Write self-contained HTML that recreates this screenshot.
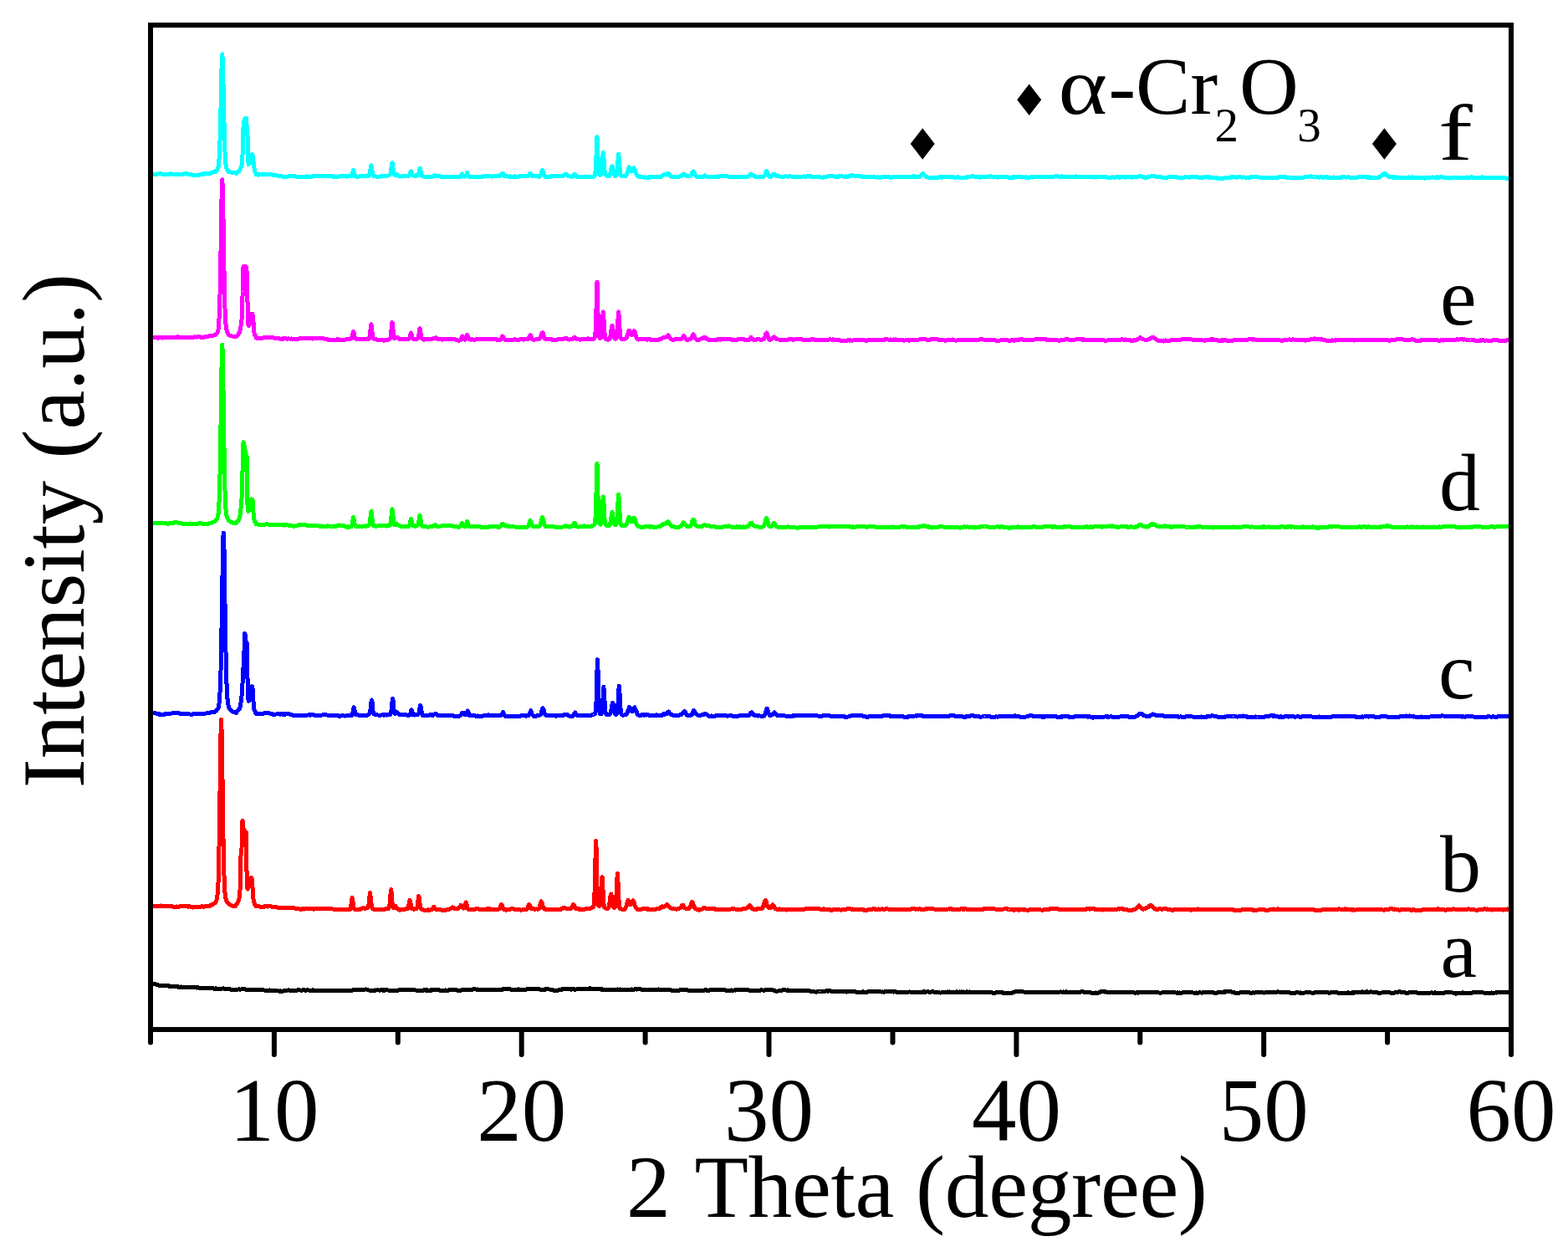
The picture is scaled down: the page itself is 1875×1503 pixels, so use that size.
<!DOCTYPE html>
<html><head><meta charset="utf-8"><title>XRD patterns</title>
<style>
html,body{margin:0;padding:0;background:#fff;overflow:hidden;}
svg{display:block;}
text{font-family:"Liberation Serif","Times New Roman",serif;fill:#000;}
</style></head>
<body>
<svg width="1875" height="1503" viewBox="0 0 1875 1503">
<rect x="0" y="0" width="1875" height="1503" fill="#fff"/>
<g>
<polyline fill="none" stroke="#000000" stroke-width="5" stroke-linejoin="round" stroke-linecap="butt" shape-rendering="crispEdges" points="180.0,1176.8 180.6,1176.8 181.2,1176.7 181.8,1176.6 182.4,1176.5 183.0,1176.6 183.5,1176.7 184.1,1176.7 184.7,1176.4 185.3,1176.6 185.9,1176.9 186.5,1177.2 187.1,1177.2 187.7,1177.5 188.3,1177.5 188.9,1177.7 189.5,1177.8 190.1,1178.1 190.6,1178.3 191.2,1178.5 191.8,1178.4 192.4,1178.4 193.0,1178.5 193.6,1178.7 194.2,1178.6 194.8,1178.5 195.4,1178.5 196.0,1178.7 196.6,1178.6 197.2,1178.8 197.7,1178.9 198.3,1178.6 198.9,1178.8 199.5,1178.8 200.1,1178.7 200.7,1178.8 201.3,1178.8 201.9,1179.1 202.5,1179.0 203.1,1179.1 203.7,1179.2 204.3,1179.1 204.8,1179.0 205.4,1179.1 206.0,1179.2 206.6,1179.2 207.2,1179.4 207.8,1179.4 208.4,1179.4 209.0,1179.7 209.6,1179.7 210.2,1179.7 210.8,1179.7 211.4,1179.7 211.9,1179.8 212.5,1179.8 213.1,1180.0 213.7,1180.4 214.3,1180.2 214.9,1180.1 215.5,1180.2 216.1,1180.1 216.7,1180.0 217.3,1180.1 217.9,1180.1 218.5,1180.3 219.0,1180.4 219.6,1180.5 220.2,1180.8 220.8,1180.8 221.4,1180.8 222.0,1180.8 222.6,1180.3 223.2,1180.5 223.8,1180.4 224.4,1180.4 225.0,1180.7 225.6,1180.7 226.1,1180.6 226.7,1180.5 227.3,1180.5 227.9,1180.4 228.5,1180.3 229.1,1180.2 229.7,1180.1 230.3,1180.3 230.9,1180.3 231.5,1180.6 232.1,1180.6 232.7,1180.9 233.2,1180.7 233.8,1180.6 234.4,1180.8 235.0,1181.0 235.6,1181.1 236.2,1180.8 236.8,1180.9 237.4,1181.0 238.0,1181.1 238.6,1181.1 239.2,1181.2 239.8,1181.6 240.3,1181.6 240.9,1181.8 241.5,1181.5 242.1,1181.5 242.7,1181.5 243.3,1181.4 243.9,1181.4 244.5,1181.5 245.1,1181.7 245.7,1181.8 246.3,1181.8 246.9,1181.7 247.4,1181.7 248.0,1181.6 248.6,1181.5 249.2,1181.5 249.8,1181.3 250.4,1181.5 251.0,1181.7 251.6,1181.8 252.2,1181.9 252.8,1181.8 253.4,1181.8 254.0,1181.9 254.5,1181.8 255.1,1181.8 255.7,1182.1 256.3,1182.2 256.9,1182.2 257.5,1182.0 258.1,1182.1 258.7,1182.0 259.3,1182.2 259.9,1182.2 260.5,1182.1 261.1,1182.0 261.6,1182.0 262.2,1182.0 262.8,1182.0 263.4,1182.1 264.0,1182.2 264.6,1182.2 265.2,1182.0 265.8,1182.0 266.4,1182.0 267.0,1181.9 267.6,1182.2 268.2,1182.2 268.7,1182.2 269.3,1182.1 269.9,1182.1 270.5,1182.2 271.1,1182.2 271.7,1182.2 272.3,1182.2 272.9,1182.2 273.5,1182.4 274.1,1182.6 274.7,1182.9 275.3,1183.0 275.8,1183.3 276.4,1183.2 277.0,1183.2 277.6,1183.2 278.2,1183.3 278.8,1183.4 279.4,1183.5 280.0,1183.6 280.6,1183.6 281.2,1183.6 281.8,1183.6 282.4,1183.3 282.9,1183.3 283.5,1183.1 284.1,1183.2 284.7,1183.1 285.3,1183.0 285.9,1182.8 286.5,1182.8 287.1,1183.1 287.7,1183.1 288.3,1182.9 288.9,1182.9 289.5,1182.8 290.0,1182.7 290.6,1182.7 291.2,1182.9 291.8,1182.7 292.4,1182.9 293.0,1182.9 293.6,1183.0 294.2,1183.4 294.8,1183.7 295.4,1183.6 296.0,1183.4 296.6,1183.6 297.1,1183.6 297.7,1183.5 298.3,1183.5 298.9,1183.6 299.5,1183.5 300.1,1183.6 300.7,1183.8 301.3,1183.8 301.9,1183.8 302.5,1183.6 303.1,1183.4 303.7,1183.2 304.2,1183.4 304.8,1183.4 305.4,1183.1 306.0,1183.3 306.6,1183.2 307.2,1183.3 307.8,1183.5 308.4,1183.7 309.0,1183.8 309.6,1183.4 310.2,1183.3 310.8,1183.4 311.3,1183.6 311.9,1183.7 312.5,1183.6 313.1,1183.7 313.7,1183.7 314.3,1183.8 314.9,1183.7 315.5,1183.9 316.1,1184.0 316.7,1184.0 317.3,1184.0 317.9,1184.0 318.4,1184.4 319.0,1184.4 319.6,1184.3 320.2,1184.3 320.8,1184.1 321.4,1184.2 322.0,1184.1 322.6,1184.0 323.2,1184.1 323.8,1184.2 324.4,1184.2 325.0,1184.3 325.5,1184.3 326.1,1184.5 326.7,1184.3 327.3,1184.1 327.9,1184.1 328.5,1184.1 329.1,1184.3 329.7,1184.5 330.3,1184.7 330.9,1184.9 331.5,1184.9 332.1,1184.9 332.6,1184.9 333.2,1185.0 333.8,1185.1 334.4,1185.0 335.0,1184.9 335.6,1185.1 336.2,1185.2 336.8,1185.2 337.4,1185.0 338.0,1185.0 338.6,1185.0 339.2,1184.7 339.7,1184.5 340.3,1184.5 340.9,1184.3 341.5,1184.3 342.1,1184.2 342.7,1184.1 343.3,1184.1 343.9,1184.0 344.5,1183.9 345.1,1183.9 345.7,1184.0 346.2,1184.2 346.8,1184.3 347.4,1184.2 348.0,1184.5 348.6,1184.4 349.2,1184.6 349.8,1184.8 350.4,1184.7 351.0,1184.5 351.6,1184.7 352.2,1184.5 352.8,1184.4 353.3,1184.3 353.9,1184.3 354.5,1184.3 355.1,1184.3 355.7,1183.9 356.3,1184.0 356.9,1183.8 357.5,1183.9 358.1,1183.9 358.7,1184.0 359.3,1184.1 359.9,1184.3 360.4,1184.1 361.0,1184.0 361.6,1184.1 362.2,1183.9 362.8,1183.8 363.4,1183.8 364.0,1183.8 364.6,1184.1 365.2,1184.2 365.8,1184.1 366.4,1184.1 367.0,1183.9 367.5,1183.8 368.1,1183.9 368.7,1184.0 369.3,1184.1 369.9,1184.4 370.5,1184.4 371.1,1184.2 371.7,1184.2 372.3,1184.1 372.9,1184.1 373.5,1183.8 374.1,1183.9 374.6,1184.0 375.2,1184.2 375.8,1184.2 376.4,1184.4 377.0,1184.2 377.6,1184.2 378.2,1184.0 378.8,1184.0 379.4,1184.2 380.0,1184.3 380.6,1184.3 381.2,1184.4 381.7,1184.4 382.3,1184.4 382.9,1184.4 383.5,1184.4 384.1,1184.4 384.7,1184.5 385.3,1184.2 385.9,1184.2 386.5,1184.3 387.1,1184.3 387.7,1184.2 388.3,1184.1 388.8,1184.4 389.4,1184.6 390.0,1184.4 390.6,1184.6 391.2,1184.8 391.8,1184.6 392.4,1184.6 393.0,1184.5 393.6,1184.3 394.2,1184.4 394.8,1184.6 395.4,1184.3 395.9,1184.2 396.5,1184.3 397.1,1184.3 397.7,1184.3 398.3,1184.4 398.9,1184.5 399.5,1184.3 400.1,1184.3 400.7,1184.5 401.3,1184.6 401.9,1184.5 402.5,1184.5 403.0,1184.5 403.6,1184.1 404.2,1184.4 404.8,1184.6 405.4,1184.5 406.0,1184.4 406.6,1184.5 407.2,1184.3 407.8,1184.3 408.4,1184.4 409.0,1184.3 409.6,1184.2 410.1,1184.3 410.7,1184.3 411.3,1184.5 411.9,1184.6 412.5,1184.9 413.1,1184.8 413.7,1184.9 414.3,1184.8 414.9,1185.0 415.5,1184.7 416.1,1184.7 416.7,1184.8 417.2,1184.7 417.8,1184.7 418.4,1184.5 419.0,1184.3 419.6,1184.4 420.2,1184.4 420.8,1184.3 421.4,1184.0 422.0,1183.9 422.6,1183.5 423.2,1183.7 423.8,1183.7 424.3,1183.8 424.9,1183.6 425.5,1183.4 426.1,1183.4 426.7,1183.5 427.3,1183.6 427.9,1183.8 428.5,1183.8 429.1,1183.6 429.7,1183.5 430.3,1183.6 430.9,1183.5 431.4,1183.6 432.0,1183.2 432.6,1183.2 433.2,1183.1 433.8,1183.3 434.4,1183.4 435.0,1183.5 435.6,1183.3 436.2,1183.1 436.8,1183.0 437.4,1182.9 438.0,1183.0 438.5,1183.2 439.1,1183.4 439.7,1183.6 440.3,1183.8 440.9,1184.0 441.5,1184.1 442.1,1184.2 442.7,1184.2 443.3,1184.2 443.9,1184.1 444.5,1184.1 445.1,1184.3 445.6,1184.4 446.2,1184.5 446.8,1184.7 447.4,1184.4 448.0,1184.2 448.6,1183.9 449.2,1184.0 449.8,1184.1 450.4,1183.9 451.0,1183.8 451.6,1183.6 452.2,1183.9 452.7,1183.9 453.3,1184.1 453.9,1184.1 454.5,1183.9 455.1,1183.9 455.7,1183.6 456.3,1183.7 456.9,1183.9 457.5,1184.1 458.1,1184.1 458.7,1183.9 459.3,1184.0 459.8,1184.1 460.4,1184.1 461.0,1183.9 461.6,1183.8 462.2,1183.8 462.8,1183.9 463.4,1183.8 464.0,1184.0 464.6,1184.1 465.2,1184.1 465.8,1184.0 466.4,1184.0 466.9,1184.2 467.5,1184.3 468.1,1184.3 468.7,1184.4 469.3,1184.5 469.9,1184.3 470.5,1184.3 471.1,1184.3 471.7,1184.4 472.3,1184.3 472.9,1184.3 473.5,1184.1 474.0,1184.2 474.6,1184.2 475.2,1184.2 475.8,1184.2 476.4,1183.9 477.0,1183.9 477.6,1183.9 478.2,1183.8 478.8,1183.8 479.4,1183.8 480.0,1183.6 480.6,1183.6 481.1,1183.7 481.7,1183.7 482.3,1183.8 482.9,1183.6 483.5,1183.5 484.1,1183.4 484.7,1183.4 485.3,1183.6 485.9,1183.6 486.5,1183.6 487.1,1183.8 487.7,1183.7 488.2,1183.6 488.8,1183.9 489.4,1183.9 490.0,1183.8 490.6,1183.7 491.2,1183.7 491.8,1183.8 492.4,1183.8 493.0,1183.8 493.6,1183.6 494.2,1183.6 494.8,1183.7 495.3,1183.5 495.9,1183.5 496.5,1183.9 497.1,1184.0 497.7,1184.2 498.3,1184.1 498.9,1184.3 499.5,1184.3 500.1,1184.2 500.7,1184.2 501.3,1184.5 501.9,1184.5 502.4,1184.7 503.0,1184.6 503.6,1184.3 504.2,1184.5 504.8,1184.4 505.4,1184.2 506.0,1184.3 506.6,1184.0 507.2,1183.9 507.8,1183.7 508.4,1184.0 508.9,1184.1 509.5,1184.0 510.1,1183.8 510.7,1184.1 511.3,1184.0 511.9,1184.1 512.5,1184.2 513.1,1184.2 513.7,1184.4 514.3,1184.2 514.9,1183.9 515.5,1184.1 516.0,1184.2 516.6,1184.0 517.2,1183.6 517.8,1183.8 518.4,1183.8 519.0,1183.8 519.6,1183.6 520.2,1183.7 520.8,1183.8 521.4,1183.8 522.0,1183.9 522.6,1183.6 523.1,1183.7 523.7,1184.0 524.3,1183.9 524.9,1183.8 525.5,1184.0 526.1,1184.0 526.7,1184.1 527.3,1184.2 527.9,1184.3 528.5,1184.4 529.1,1184.3 529.7,1184.2 530.2,1184.2 530.8,1184.1 531.4,1184.3 532.0,1184.1 532.6,1184.0 533.2,1184.1 533.8,1184.2 534.4,1184.2 535.0,1184.4 535.6,1184.2 536.2,1184.1 536.8,1183.9 537.3,1183.8 537.9,1183.8 538.5,1183.9 539.1,1183.7 539.7,1183.6 540.3,1183.6 540.9,1183.7 541.5,1183.6 542.1,1183.6 542.7,1183.7 543.3,1183.8 543.9,1183.9 544.4,1183.8 545.0,1183.8 545.6,1183.8 546.2,1184.0 546.8,1184.0 547.4,1184.1 548.0,1184.3 548.6,1184.3 549.2,1184.3 549.8,1184.1 550.4,1184.4 551.0,1184.4 551.5,1184.2 552.1,1183.9 552.7,1183.8 553.3,1183.8 553.9,1183.7 554.5,1183.6 555.1,1183.5 555.7,1183.3 556.3,1183.3 556.9,1183.2 557.5,1183.4 558.1,1183.3 558.6,1183.5 559.2,1183.3 559.8,1183.2 560.4,1183.2 561.0,1183.3 561.6,1183.3 562.2,1183.2 562.8,1183.1 563.4,1183.2 564.0,1183.1 564.6,1183.2 565.2,1183.0 565.7,1182.9 566.3,1182.8 566.9,1182.8 567.5,1182.7 568.1,1182.8 568.7,1182.9 569.3,1183.1 569.9,1183.1 570.5,1182.9 571.1,1183.0 571.7,1183.2 572.3,1183.2 572.8,1183.3 573.4,1183.3 574.0,1183.4 574.6,1183.6 575.2,1183.5 575.8,1183.7 576.4,1183.6 577.0,1183.7 577.6,1183.5 578.2,1183.5 578.8,1183.7 579.4,1183.8 579.9,1183.9 580.5,1183.8 581.1,1183.7 581.7,1183.7 582.3,1183.7 582.9,1183.5 583.5,1183.5 584.1,1183.3 584.7,1183.1 585.3,1183.1 585.9,1183.0 586.5,1183.0 587.0,1183.0 587.6,1183.0 588.2,1183.0 588.8,1183.2 589.4,1183.3 590.0,1183.1 590.6,1183.1 591.2,1183.1 591.8,1183.7 592.4,1183.5 593.0,1183.7 593.6,1183.7 594.1,1183.8 594.7,1183.6 595.3,1183.7 595.9,1183.5 596.5,1183.5 597.1,1183.5 597.7,1183.1 598.3,1183.1 598.9,1183.5 599.5,1183.5 600.1,1183.3 600.7,1182.9 601.2,1183.1 601.8,1182.9 602.4,1182.8 603.0,1182.6 603.6,1182.6 604.2,1182.7 604.8,1182.8 605.4,1182.8 606.0,1182.7 606.6,1182.7 607.2,1182.7 607.8,1182.6 608.3,1182.7 608.9,1182.7 609.5,1182.9 610.1,1182.9 610.7,1183.2 611.3,1183.3 611.9,1183.3 612.5,1183.4 613.1,1183.1 613.7,1183.2 614.3,1183.2 614.9,1183.3 615.4,1183.3 616.0,1183.5 616.6,1183.2 617.2,1183.1 617.8,1183.3 618.4,1183.2 619.0,1183.1 619.6,1182.8 620.2,1182.9 620.8,1183.1 621.4,1183.2 622.0,1183.6 622.5,1183.4 623.1,1183.5 623.7,1183.6 624.3,1183.6 624.9,1183.6 625.5,1183.7 626.1,1183.9 626.7,1183.9 627.3,1183.7 627.9,1183.6 628.5,1183.7 629.1,1183.3 629.6,1182.9 630.2,1182.7 630.8,1182.5 631.4,1182.5 632.0,1182.4 632.6,1182.1 633.2,1182.4 633.8,1182.2 634.4,1182.2 635.0,1182.1 635.6,1182.3 636.2,1182.3 636.7,1182.2 637.3,1182.3 637.9,1182.5 638.5,1182.9 639.1,1182.9 639.7,1183.0 640.3,1182.9 640.9,1182.8 641.5,1182.6 642.1,1182.5 642.7,1182.7 643.3,1182.7 643.8,1182.8 644.4,1182.6 645.0,1182.8 645.6,1183.0 646.2,1183.1 646.8,1183.2 647.4,1183.2 648.0,1183.3 648.6,1183.1 649.2,1183.2 649.8,1183.2 650.4,1183.3 650.9,1183.3 651.5,1183.0 652.1,1183.2 652.7,1183.0 653.3,1182.7 653.9,1182.6 654.5,1182.8 655.1,1182.9 655.7,1182.8 656.3,1182.8 656.9,1183.0 657.5,1183.1 658.0,1183.1 658.6,1183.3 659.2,1183.5 659.8,1183.4 660.4,1183.7 661.0,1183.7 661.6,1183.9 662.2,1184.2 662.8,1184.4 663.4,1184.4 664.0,1184.3 664.6,1184.3 665.1,1184.2 665.7,1184.1 666.3,1184.3 666.9,1184.3 667.5,1184.1 668.1,1183.9 668.7,1183.9 669.3,1183.8 669.9,1183.9 670.5,1183.6 671.1,1183.3 671.6,1183.2 672.2,1182.9 672.8,1182.9 673.4,1182.8 674.0,1182.7 674.6,1182.7 675.2,1182.7 675.8,1182.6 676.4,1182.7 677.0,1182.8 677.6,1182.7 678.2,1182.6 678.7,1182.4 679.3,1182.5 679.9,1182.5 680.5,1182.7 681.1,1182.8 681.7,1182.8 682.3,1182.9 682.9,1183.1 683.5,1183.1 684.1,1182.9 684.7,1182.9 685.3,1182.8 685.8,1182.9 686.4,1183.1 687.0,1182.8 687.6,1183.0 688.2,1183.1 688.8,1183.0 689.4,1182.9 690.0,1182.9 690.6,1182.9 691.2,1182.9 691.8,1182.8 692.4,1182.7 692.9,1182.7 693.5,1182.6 694.1,1182.7 694.7,1182.7 695.3,1182.8 695.9,1183.0 696.5,1182.6 697.1,1182.6 697.7,1182.7 698.3,1182.5 698.9,1182.4 699.5,1182.2 700.0,1182.2 700.6,1182.1 701.2,1182.4 701.8,1182.5 702.4,1182.5 703.0,1182.4 703.6,1182.2 704.2,1182.0 704.8,1181.9 705.4,1182.2 706.0,1181.8 706.6,1181.9 707.1,1182.2 707.7,1182.2 708.3,1182.3 708.9,1182.3 709.5,1182.3 710.1,1182.1 710.7,1182.2 711.3,1182.3 711.9,1182.2 712.5,1182.3 713.1,1182.6 713.7,1182.8 714.2,1182.6 714.8,1182.9 715.4,1183.0 716.0,1182.8 716.6,1182.7 717.2,1182.9 717.8,1182.9 718.4,1183.0 719.0,1183.1 719.6,1183.0 720.2,1182.9 720.8,1183.2 721.3,1183.1 721.9,1183.0 722.5,1183.0 723.1,1183.3 723.7,1183.3 724.3,1183.4 724.9,1183.6 725.5,1183.9 726.1,1183.6 726.7,1183.7 727.3,1183.6 727.9,1183.5 728.4,1183.5 729.0,1183.6 729.6,1183.7 730.2,1183.6 730.8,1183.6 731.4,1183.6 732.0,1183.6 732.6,1183.6 733.2,1183.4 733.8,1183.2 734.4,1183.1 735.0,1183.2 735.5,1183.0 736.1,1183.0 736.7,1183.2 737.3,1183.2 737.9,1183.2 738.5,1183.0 739.1,1183.4 739.7,1183.2 740.3,1183.1 740.9,1183.2 741.5,1183.0 742.1,1183.2 742.6,1183.2 743.2,1183.4 743.8,1183.5 744.4,1183.6 745.0,1183.6 745.6,1183.6 746.2,1183.7 746.8,1183.7 747.4,1183.7 748.0,1183.4 748.6,1183.5 749.2,1183.5 749.7,1183.3 750.3,1183.5 750.9,1183.4 751.5,1183.4 752.1,1183.2 752.7,1183.2 753.3,1183.3 753.9,1183.3 754.5,1183.2 755.1,1183.0 755.7,1182.9 756.3,1183.2 756.8,1183.2 757.4,1183.1 758.0,1183.0 758.6,1183.1 759.2,1182.9 759.8,1182.9 760.4,1182.8 761.0,1183.0 761.6,1183.0 762.2,1182.8 762.8,1182.8 763.4,1182.7 763.9,1183.0 764.5,1182.9 765.1,1182.8 765.7,1182.9 766.3,1182.9 766.9,1183.2 767.5,1183.1 768.1,1183.3 768.7,1183.2 769.3,1183.3 769.9,1183.4 770.5,1183.2 771.0,1183.5 771.6,1183.6 772.2,1183.6 772.8,1183.5 773.4,1183.9 774.0,1183.8 774.6,1183.8 775.2,1184.0 775.8,1183.7 776.4,1183.8 777.0,1183.7 777.6,1183.8 778.1,1183.9 778.7,1184.0 779.3,1183.9 779.9,1183.5 780.5,1183.3 781.1,1183.6 781.7,1183.5 782.3,1183.2 782.9,1183.1 783.5,1183.1 784.1,1183.2 784.7,1183.3 785.2,1183.3 785.8,1183.3 786.4,1183.3 787.0,1183.1 787.6,1183.0 788.2,1183.3 788.8,1183.4 789.4,1183.4 790.0,1183.5 790.6,1183.4 791.2,1183.5 791.8,1183.8 792.3,1184.0 792.9,1183.6 793.5,1183.6 794.1,1183.7 794.7,1183.6 795.3,1183.7 795.9,1184.0 796.5,1183.8 797.1,1183.6 797.7,1183.7 798.3,1183.7 798.9,1183.8 799.4,1183.9 800.0,1183.9 800.6,1183.9 801.2,1183.7 801.8,1183.9 802.4,1183.9 803.0,1184.1 803.6,1184.2 804.2,1184.2 804.8,1184.2 805.4,1184.2 806.0,1184.4 806.5,1184.3 807.1,1184.5 807.7,1184.3 808.3,1184.2 808.9,1184.3 809.5,1184.2 810.1,1184.2 810.7,1184.3 811.3,1184.2 811.9,1184.0 812.5,1184.0 813.1,1184.0 813.6,1183.7 814.2,1183.6 814.8,1183.7 815.4,1183.6 816.0,1183.4 816.6,1183.6 817.2,1183.6 817.8,1183.5 818.4,1183.5 819.0,1183.5 819.6,1183.5 820.2,1183.6 820.7,1183.9 821.3,1183.7 821.9,1183.8 822.5,1184.0 823.1,1184.3 823.7,1184.2 824.3,1184.2 824.9,1184.3 825.5,1184.1 826.1,1184.1 826.7,1184.2 827.3,1184.2 827.8,1184.3 828.4,1184.2 829.0,1184.3 829.6,1184.2 830.2,1184.3 830.8,1184.3 831.4,1184.4 832.0,1184.2 832.6,1184.1 833.2,1184.3 833.8,1184.5 834.3,1184.7 834.9,1184.8 835.5,1184.5 836.1,1184.4 836.7,1184.2 837.3,1184.3 837.9,1184.1 838.5,1184.2 839.1,1184.3 839.7,1184.2 840.3,1184.1 840.9,1184.1 841.4,1184.3 842.0,1184.2 842.6,1183.9 843.2,1183.8 843.8,1183.8 844.4,1183.9 845.0,1183.9 845.6,1184.3 846.2,1184.3 846.8,1184.3 847.4,1184.3 848.0,1184.0 848.5,1183.9 849.1,1183.7 849.7,1183.8 850.3,1183.5 850.9,1183.6 851.5,1183.8 852.1,1183.9 852.7,1183.7 853.3,1183.8 853.9,1183.8 854.5,1183.7 855.1,1183.7 855.6,1183.7 856.2,1183.7 856.8,1183.7 857.4,1183.8 858.0,1183.9 858.6,1183.8 859.2,1183.7 859.8,1183.6 860.4,1183.6 861.0,1183.3 861.6,1183.5 862.2,1183.6 862.7,1183.6 863.3,1183.4 863.9,1183.5 864.5,1183.7 865.1,1183.9 865.7,1184.0 866.3,1184.0 866.9,1183.9 867.5,1184.2 868.1,1184.3 868.7,1184.3 869.3,1184.2 869.8,1184.6 870.4,1184.3 871.0,1184.3 871.6,1184.3 872.2,1184.4 872.8,1184.4 873.4,1184.3 874.0,1184.2 874.6,1184.0 875.2,1184.2 875.8,1184.2 876.4,1184.1 876.9,1184.1 877.5,1184.2 878.1,1184.0 878.7,1183.8 879.3,1184.0 879.9,1184.0 880.5,1183.9 881.1,1183.6 881.7,1183.5 882.3,1183.4 882.9,1183.5 883.5,1183.5 884.0,1183.3 884.6,1183.3 885.2,1183.3 885.8,1183.4 886.4,1183.1 887.0,1183.4 887.6,1183.5 888.2,1183.5 888.8,1183.3 889.4,1183.3 890.0,1183.7 890.6,1183.8 891.1,1183.9 891.7,1183.7 892.3,1184.0 892.9,1183.8 893.5,1183.7 894.1,1183.7 894.7,1183.7 895.3,1184.1 895.9,1184.1 896.5,1184.2 897.1,1184.1 897.7,1184.2 898.2,1184.3 898.8,1184.0 899.4,1184.1 900.0,1184.0 900.6,1184.3 901.2,1184.3 901.8,1184.6 902.4,1184.7 903.0,1184.5 903.6,1184.3 904.2,1184.3 904.8,1184.2 905.3,1184.3 905.9,1184.3 906.5,1184.4 907.1,1184.3 907.7,1184.5 908.3,1184.3 908.9,1184.4 909.5,1184.1 910.1,1183.9 910.7,1183.8 911.3,1183.9 911.9,1184.0 912.4,1184.1 913.0,1184.2 913.6,1184.3 914.2,1184.2 914.8,1184.1 915.4,1183.7 916.0,1183.7 916.6,1183.5 917.2,1183.6 917.8,1183.4 918.4,1183.5 919.0,1183.5 919.5,1183.5 920.1,1183.3 920.7,1183.4 921.3,1183.6 921.9,1183.6 922.5,1183.5 923.1,1183.4 923.7,1183.6 924.3,1183.9 924.9,1184.1 925.5,1184.2 926.1,1184.4 926.6,1184.8 927.2,1185.0 927.8,1185.1 928.4,1185.2 929.0,1185.3 929.6,1185.1 930.2,1185.0 930.8,1184.8 931.4,1184.9 932.0,1184.8 932.6,1184.8 933.2,1184.9 933.7,1184.5 934.3,1184.4 934.9,1184.2 935.5,1183.9 936.1,1183.7 936.7,1183.8 937.3,1183.7 937.9,1183.6 938.5,1183.7 939.1,1183.8 939.7,1184.0 940.3,1184.1 940.8,1184.2 941.4,1184.0 942.0,1183.9 942.6,1184.2 943.2,1184.4 943.8,1184.5 944.4,1184.7 945.0,1184.9 945.6,1184.8 946.2,1184.7 946.8,1184.8 947.4,1184.8 947.9,1184.8 948.5,1184.9 949.1,1184.9 949.7,1184.7 950.3,1184.8 950.9,1184.8 951.5,1184.9 952.1,1184.9 952.7,1184.8 953.3,1184.7 953.9,1184.9 954.5,1184.9 955.0,1185.0 955.6,1184.9 956.2,1184.7 956.8,1184.7 957.4,1184.6 958.0,1184.4 958.6,1184.5 959.2,1184.1 959.8,1184.3 960.4,1184.2 961.0,1184.1 961.6,1184.3 962.1,1184.3 962.7,1184.1 963.3,1184.2 963.9,1184.4 964.5,1184.4 965.1,1184.5 965.7,1184.2 966.3,1184.2 966.9,1184.4 967.5,1184.4 968.1,1185.0 968.7,1185.0 969.2,1185.3 969.8,1185.3 970.4,1185.4 971.0,1185.3 971.6,1185.4 972.2,1185.4 972.8,1185.2 973.4,1185.5 974.0,1185.8 974.6,1185.9 975.2,1186.0 975.8,1186.0 976.3,1186.1 976.9,1185.9 977.5,1185.8 978.1,1185.6 978.7,1185.6 979.3,1185.4 979.9,1185.4 980.5,1185.5 981.1,1185.5 981.7,1185.8 982.3,1185.8 982.9,1185.6 983.4,1185.7 984.0,1185.5 984.6,1185.4 985.2,1185.3 985.8,1185.1 986.4,1185.0 987.0,1185.0 987.6,1185.0 988.2,1184.9 988.8,1185.0 989.4,1185.0 990.0,1185.2 990.5,1184.8 991.1,1184.7 991.7,1184.6 992.3,1184.5 992.9,1184.7 993.5,1184.9 994.1,1185.1 994.7,1185.2 995.3,1185.6 995.9,1185.6 996.5,1185.6 997.0,1185.8 997.6,1185.8 998.2,1185.6 998.8,1185.2 999.4,1185.4 1000.0,1185.4 1000.6,1185.7 1001.2,1185.8 1001.8,1186.0 1002.4,1185.7 1003.0,1185.7 1003.6,1185.5 1004.1,1185.5 1004.7,1185.4 1005.3,1185.6 1005.9,1185.4 1006.5,1185.5 1007.1,1185.7 1007.7,1185.9 1008.3,1186.0 1008.9,1185.8 1009.5,1185.5 1010.1,1185.6 1010.7,1185.7 1011.2,1185.9 1011.8,1186.0 1012.4,1186.1 1013.0,1185.9 1013.6,1185.8 1014.2,1185.6 1014.8,1185.5 1015.4,1185.6 1016.0,1185.4 1016.6,1185.3 1017.2,1185.3 1017.8,1185.2 1018.3,1185.4 1018.9,1185.2 1019.5,1185.2 1020.1,1185.2 1020.7,1185.2 1021.3,1185.3 1021.9,1185.5 1022.5,1185.8 1023.1,1186.0 1023.7,1186.1 1024.3,1186.1 1024.9,1186.4 1025.4,1186.4 1026.0,1186.2 1026.6,1186.2 1027.2,1186.2 1027.8,1186.3 1028.4,1186.4 1029.0,1186.4 1029.6,1186.3 1030.2,1186.2 1030.8,1186.2 1031.4,1185.9 1032.0,1185.9 1032.5,1186.0 1033.1,1186.2 1033.7,1186.2 1034.3,1186.4 1034.9,1186.2 1035.5,1186.2 1036.1,1186.2 1036.7,1186.3 1037.3,1186.1 1037.9,1185.8 1038.5,1185.7 1039.1,1185.7 1039.6,1185.5 1040.2,1185.6 1040.8,1185.6 1041.4,1185.5 1042.0,1185.3 1042.6,1185.3 1043.2,1185.4 1043.8,1185.5 1044.4,1185.5 1045.0,1185.4 1045.6,1185.3 1046.2,1185.3 1046.7,1185.4 1047.3,1185.4 1047.9,1185.3 1048.5,1185.5 1049.1,1185.6 1049.7,1185.6 1050.3,1185.6 1050.9,1185.6 1051.5,1185.6 1052.1,1185.6 1052.7,1185.7 1053.3,1185.8 1053.8,1186.0 1054.4,1186.0 1055.0,1186.0 1055.6,1185.9 1056.2,1186.0 1056.8,1186.2 1057.4,1186.0 1058.0,1185.9 1058.6,1185.9 1059.2,1185.7 1059.8,1185.7 1060.4,1185.7 1060.9,1185.7 1061.5,1185.6 1062.1,1185.6 1062.7,1185.5 1063.3,1185.5 1063.9,1185.6 1064.5,1185.8 1065.1,1185.7 1065.7,1185.8 1066.3,1185.9 1066.9,1185.9 1067.5,1186.0 1068.0,1186.0 1068.6,1186.0 1069.2,1185.8 1069.8,1185.7 1070.4,1185.7 1071.0,1185.9 1071.6,1186.0 1072.2,1186.2 1072.8,1186.3 1073.4,1186.3 1074.0,1186.5 1074.6,1186.1 1075.1,1186.1 1075.7,1186.2 1076.3,1186.4 1076.9,1186.5 1077.5,1186.5 1078.1,1186.6 1078.7,1186.7 1079.3,1186.8 1079.9,1186.6 1080.5,1186.6 1081.1,1186.3 1081.7,1186.0 1082.2,1186.1 1082.8,1186.1 1083.4,1186.2 1084.0,1186.3 1084.6,1186.2 1085.2,1186.0 1085.8,1186.0 1086.4,1186.0 1087.0,1186.0 1087.6,1185.9 1088.2,1186.1 1088.8,1186.3 1089.3,1186.3 1089.9,1186.4 1090.5,1186.5 1091.1,1186.6 1091.7,1186.4 1092.3,1186.3 1092.9,1186.2 1093.5,1186.2 1094.1,1186.3 1094.7,1186.4 1095.3,1186.2 1095.9,1186.3 1096.4,1186.5 1097.0,1186.4 1097.6,1186.2 1098.2,1186.3 1098.8,1186.2 1099.4,1186.3 1100.0,1186.1 1100.6,1186.3 1101.2,1186.3 1101.8,1186.2 1102.4,1186.1 1103.0,1186.1 1103.5,1186.0 1104.1,1186.2 1104.7,1186.0 1105.3,1186.1 1105.9,1185.9 1106.5,1186.2 1107.1,1186.1 1107.7,1186.1 1108.3,1186.0 1108.9,1185.9 1109.5,1186.0 1110.1,1185.9 1110.6,1186.1 1111.2,1186.2 1111.8,1186.3 1112.4,1186.2 1113.0,1186.1 1113.6,1185.9 1114.2,1185.9 1114.8,1186.0 1115.4,1185.8 1116.0,1185.9 1116.6,1185.9 1117.2,1186.1 1117.7,1186.5 1118.3,1186.5 1118.9,1186.5 1119.5,1186.5 1120.1,1186.5 1120.7,1186.3 1121.3,1186.4 1121.9,1186.7 1122.5,1186.9 1123.1,1186.9 1123.7,1186.9 1124.3,1187.1 1124.8,1187.0 1125.4,1186.9 1126.0,1186.9 1126.6,1186.7 1127.2,1186.6 1127.8,1186.6 1128.4,1186.6 1129.0,1186.4 1129.6,1186.6 1130.2,1186.3 1130.8,1186.2 1131.4,1186.2 1131.9,1186.0 1132.5,1186.2 1133.1,1186.1 1133.7,1186.0 1134.3,1186.1 1134.9,1186.2 1135.5,1186.0 1136.1,1186.1 1136.7,1186.1 1137.3,1186.2 1137.9,1186.5 1138.5,1186.4 1139.0,1186.6 1139.6,1186.4 1140.2,1186.4 1140.8,1186.6 1141.4,1186.2 1142.0,1186.2 1142.6,1186.5 1143.2,1186.2 1143.8,1185.9 1144.4,1186.1 1145.0,1186.1 1145.6,1186.3 1146.1,1186.2 1146.7,1186.1 1147.3,1186.0 1147.9,1186.1 1148.5,1186.2 1149.1,1186.1 1149.7,1185.9 1150.3,1186.1 1150.9,1186.1 1151.5,1185.9 1152.1,1186.1 1152.7,1186.3 1153.2,1186.2 1153.8,1186.2 1154.4,1186.1 1155.0,1186.1 1155.6,1185.8 1156.2,1186.1 1156.8,1186.1 1157.4,1186.1 1158.0,1186.1 1158.6,1186.3 1159.2,1186.1 1159.7,1186.0 1160.3,1186.1 1160.9,1186.2 1161.5,1186.4 1162.1,1186.4 1162.7,1186.5 1163.3,1186.5 1163.9,1186.6 1164.5,1186.7 1165.1,1186.5 1165.7,1186.4 1166.3,1186.5 1166.8,1186.4 1167.4,1186.5 1168.0,1186.6 1168.6,1186.7 1169.2,1186.7 1169.8,1186.6 1170.4,1186.4 1171.0,1186.5 1171.6,1186.4 1172.2,1186.3 1172.8,1186.3 1173.4,1186.4 1173.9,1186.4 1174.5,1186.5 1175.1,1186.4 1175.7,1186.6 1176.3,1186.4 1176.9,1186.6 1177.5,1186.4 1178.1,1186.5 1178.7,1186.5 1179.3,1186.4 1179.9,1186.4 1180.5,1186.3 1181.0,1186.2 1181.6,1186.3 1182.2,1186.5 1182.8,1186.5 1183.4,1186.7 1184.0,1186.7 1184.6,1186.6 1185.2,1187.0 1185.8,1186.8 1186.4,1187.0 1187.0,1187.0 1187.6,1187.0 1188.1,1187.2 1188.7,1187.2 1189.3,1187.3 1189.9,1187.3 1190.5,1186.8 1191.1,1186.6 1191.7,1186.4 1192.3,1186.4 1192.9,1186.3 1193.5,1186.4 1194.1,1186.3 1194.7,1186.5 1195.2,1186.3 1195.8,1186.4 1196.4,1186.5 1197.0,1186.6 1197.6,1186.4 1198.2,1186.6 1198.8,1186.8 1199.4,1187.3 1200.0,1187.3 1200.6,1187.7 1201.2,1187.7 1201.8,1187.8 1202.3,1187.9 1202.9,1187.8 1203.5,1187.7 1204.1,1187.9 1204.7,1187.8 1205.3,1187.6 1205.9,1187.5 1206.5,1187.7 1207.1,1187.6 1207.7,1187.5 1208.3,1187.3 1208.9,1187.3 1209.4,1187.2 1210.0,1187.1 1210.6,1187.0 1211.2,1186.6 1211.8,1186.5 1212.4,1186.3 1213.0,1186.0 1213.6,1185.8 1214.2,1185.9 1214.8,1185.8 1215.4,1185.6 1216.0,1185.5 1216.5,1185.3 1217.1,1185.4 1217.7,1185.1 1218.3,1185.2 1218.9,1185.1 1219.5,1185.1 1220.1,1185.3 1220.7,1185.5 1221.3,1185.5 1221.9,1185.8 1222.5,1185.7 1223.1,1185.8 1223.6,1185.9 1224.2,1186.0 1224.8,1186.1 1225.4,1186.1 1226.0,1186.0 1226.6,1186.2 1227.2,1186.0 1227.8,1186.2 1228.4,1186.2 1229.0,1186.3 1229.6,1186.2 1230.2,1186.4 1230.7,1186.4 1231.3,1186.7 1231.9,1186.9 1232.5,1186.8 1233.1,1186.8 1233.7,1186.6 1234.3,1186.6 1234.9,1186.7 1235.5,1187.0 1236.1,1186.9 1236.7,1187.0 1237.3,1186.9 1237.8,1186.9 1238.4,1187.0 1239.0,1186.9 1239.6,1186.5 1240.2,1186.2 1240.8,1186.1 1241.4,1186.1 1242.0,1186.3 1242.6,1186.5 1243.2,1186.6 1243.8,1186.4 1244.4,1186.2 1244.9,1186.2 1245.5,1186.4 1246.1,1186.4 1246.7,1186.3 1247.3,1186.3 1247.9,1186.5 1248.5,1186.7 1249.1,1186.9 1249.7,1186.8 1250.3,1186.6 1250.9,1186.4 1251.5,1186.4 1252.0,1186.1 1252.6,1186.4 1253.2,1186.6 1253.8,1186.5 1254.4,1186.5 1255.0,1186.7 1255.6,1186.7 1256.2,1186.7 1256.8,1186.8 1257.4,1186.6 1258.0,1186.5 1258.6,1186.5 1259.1,1186.7 1259.7,1186.6 1260.3,1186.7 1260.9,1186.8 1261.5,1186.6 1262.1,1186.4 1262.7,1186.6 1263.3,1186.5 1263.9,1186.1 1264.5,1186.1 1265.1,1186.0 1265.7,1186.0 1266.2,1186.1 1266.8,1186.2 1267.4,1186.2 1268.0,1186.0 1268.6,1185.9 1269.2,1186.1 1269.8,1186.1 1270.4,1186.1 1271.0,1186.1 1271.6,1185.9 1272.2,1186.0 1272.8,1186.3 1273.3,1186.2 1273.9,1186.1 1274.5,1185.9 1275.1,1185.9 1275.7,1186.0 1276.3,1186.2 1276.9,1186.6 1277.5,1186.7 1278.1,1186.5 1278.7,1186.5 1279.3,1186.4 1279.9,1186.7 1280.4,1186.5 1281.0,1186.6 1281.6,1186.5 1282.2,1186.5 1282.8,1186.6 1283.4,1186.9 1284.0,1186.9 1284.6,1186.7 1285.2,1186.5 1285.8,1186.4 1286.4,1186.6 1287.0,1186.4 1287.5,1186.4 1288.1,1186.3 1288.7,1186.2 1289.3,1186.5 1289.9,1186.2 1290.5,1186.2 1291.1,1186.3 1291.7,1186.2 1292.3,1185.9 1292.9,1185.9 1293.5,1185.9 1294.1,1185.9 1294.6,1185.8 1295.2,1185.7 1295.8,1186.0 1296.4,1186.3 1297.0,1186.3 1297.6,1186.3 1298.2,1186.2 1298.8,1186.5 1299.4,1186.6 1300.0,1186.5 1300.6,1186.6 1301.2,1186.8 1301.7,1186.8 1302.3,1186.9 1302.9,1186.8 1303.5,1186.7 1304.1,1187.0 1304.7,1187.1 1305.3,1187.0 1305.9,1187.2 1306.5,1187.3 1307.1,1187.5 1307.7,1187.2 1308.3,1187.1 1308.8,1187.2 1309.4,1187.3 1310.0,1187.3 1310.6,1187.0 1311.2,1187.2 1311.8,1187.1 1312.4,1187.3 1313.0,1187.0 1313.6,1186.8 1314.2,1186.7 1314.8,1186.4 1315.4,1186.2 1315.9,1185.9 1316.5,1186.1 1317.1,1186.0 1317.7,1185.8 1318.3,1185.9 1318.9,1185.8 1319.5,1186.0 1320.1,1185.9 1320.7,1186.1 1321.3,1186.0 1321.9,1185.9 1322.4,1186.1 1323.0,1186.1 1323.6,1186.5 1324.2,1186.6 1324.8,1186.6 1325.4,1186.6 1326.0,1186.7 1326.6,1186.8 1327.2,1186.4 1327.8,1186.3 1328.4,1186.6 1329.0,1186.7 1329.5,1186.5 1330.1,1186.5 1330.7,1186.7 1331.3,1186.7 1331.9,1186.6 1332.5,1186.2 1333.1,1186.2 1333.7,1186.2 1334.3,1186.0 1334.9,1186.0 1335.5,1186.1 1336.1,1186.3 1336.6,1186.5 1337.2,1186.4 1337.8,1186.2 1338.4,1186.5 1339.0,1186.6 1339.6,1186.6 1340.2,1186.5 1340.8,1186.7 1341.4,1186.8 1342.0,1186.8 1342.6,1187.0 1343.2,1187.0 1343.7,1186.9 1344.3,1186.8 1344.9,1186.8 1345.5,1186.7 1346.1,1186.6 1346.7,1186.6 1347.3,1186.5 1347.9,1186.3 1348.5,1186.2 1349.1,1186.2 1349.7,1186.2 1350.3,1186.2 1350.8,1186.2 1351.4,1186.1 1352.0,1186.3 1352.6,1186.5 1353.2,1186.6 1353.8,1186.6 1354.4,1186.7 1355.0,1186.8 1355.6,1187.0 1356.2,1186.9 1356.8,1187.1 1357.4,1187.2 1357.9,1187.1 1358.5,1187.0 1359.1,1186.9 1359.7,1186.9 1360.3,1187.0 1360.9,1187.1 1361.5,1187.0 1362.1,1186.7 1362.7,1186.8 1363.3,1186.7 1363.9,1186.7 1364.5,1186.5 1365.0,1186.7 1365.6,1186.5 1366.2,1186.6 1366.8,1186.6 1367.4,1186.5 1368.0,1186.7 1368.6,1186.7 1369.2,1186.7 1369.8,1186.5 1370.4,1186.4 1371.0,1186.5 1371.6,1186.5 1372.1,1186.5 1372.7,1186.4 1373.3,1186.3 1373.9,1186.3 1374.5,1186.4 1375.1,1186.2 1375.7,1186.3 1376.3,1186.5 1376.9,1186.6 1377.5,1186.4 1378.1,1186.3 1378.7,1186.2 1379.2,1186.4 1379.8,1186.4 1380.4,1186.4 1381.0,1186.7 1381.6,1186.7 1382.2,1186.8 1382.8,1186.8 1383.4,1186.7 1384.0,1186.9 1384.6,1187.0 1385.2,1186.9 1385.8,1187.0 1386.3,1187.0 1386.9,1187.0 1387.5,1187.2 1388.1,1187.0 1388.7,1187.0 1389.3,1187.0 1389.9,1186.8 1390.5,1186.7 1391.1,1186.7 1391.7,1186.4 1392.3,1186.5 1392.9,1186.3 1393.4,1186.4 1394.0,1186.6 1394.6,1186.5 1395.2,1186.6 1395.8,1186.5 1396.4,1186.7 1397.0,1186.7 1397.6,1186.8 1398.2,1186.8 1398.8,1186.6 1399.4,1187.0 1400.0,1186.8 1400.5,1186.9 1401.1,1186.8 1401.7,1187.0 1402.3,1186.7 1402.9,1186.6 1403.5,1186.4 1404.1,1186.4 1404.7,1186.9 1405.3,1186.8 1405.9,1187.0 1406.5,1187.0 1407.1,1187.0 1407.6,1187.1 1408.2,1186.9 1408.8,1187.1 1409.4,1187.2 1410.0,1187.2 1410.6,1187.0 1411.2,1187.3 1411.8,1187.1 1412.4,1187.1 1413.0,1187.2 1413.6,1186.8 1414.2,1186.5 1414.7,1186.5 1415.3,1186.2 1415.9,1186.2 1416.5,1186.2 1417.1,1186.3 1417.7,1186.2 1418.3,1186.2 1418.9,1186.1 1419.5,1186.1 1420.1,1186.0 1420.7,1186.2 1421.3,1186.3 1421.8,1186.3 1422.4,1186.4 1423.0,1186.7 1423.6,1186.7 1424.2,1186.7 1424.8,1186.8 1425.4,1186.8 1426.0,1186.8 1426.6,1186.9 1427.2,1187.0 1427.8,1187.0 1428.4,1187.1 1428.9,1187.1 1429.5,1187.1 1430.1,1187.1 1430.7,1187.0 1431.3,1187.1 1431.9,1187.1 1432.5,1187.1 1433.1,1187.2 1433.7,1187.0 1434.3,1186.9 1434.9,1186.9 1435.5,1186.8 1436.0,1187.0 1436.6,1187.0 1437.2,1187.0 1437.8,1187.0 1438.4,1186.7 1439.0,1186.8 1439.6,1186.6 1440.2,1186.5 1440.8,1186.1 1441.4,1186.2 1442.0,1186.4 1442.6,1186.4 1443.1,1186.3 1443.7,1186.1 1444.3,1186.2 1444.9,1186.0 1445.5,1186.1 1446.1,1186.0 1446.7,1186.2 1447.3,1186.4 1447.9,1186.4 1448.5,1186.4 1449.1,1186.7 1449.7,1187.0 1450.2,1186.9 1450.8,1186.7 1451.4,1187.0 1452.0,1187.2 1452.6,1187.1 1453.2,1187.1 1453.8,1187.2 1454.4,1187.2 1455.0,1187.2 1455.6,1187.1 1456.2,1186.8 1456.8,1186.7 1457.3,1186.8 1457.9,1186.8 1458.5,1186.6 1459.1,1186.7 1459.7,1186.7 1460.3,1186.6 1460.9,1186.5 1461.5,1186.4 1462.1,1186.4 1462.7,1186.2 1463.3,1185.9 1463.9,1186.1 1464.4,1185.9 1465.0,1186.1 1465.6,1186.0 1466.2,1185.7 1466.8,1185.6 1467.4,1185.4 1468.0,1185.5 1468.6,1185.3 1469.2,1185.2 1469.8,1185.3 1470.4,1185.4 1471.0,1185.4 1471.5,1185.7 1472.1,1186.0 1472.7,1186.1 1473.3,1186.2 1473.9,1186.4 1474.5,1186.5 1475.1,1186.7 1475.7,1186.6 1476.3,1187.1 1476.9,1187.0 1477.5,1187.0 1478.1,1187.3 1478.6,1187.4 1479.2,1187.5 1479.8,1187.6 1480.4,1187.5 1481.0,1187.4 1481.6,1187.2 1482.2,1187.2 1482.8,1187.0 1483.4,1186.7 1484.0,1186.9 1484.6,1186.9 1485.1,1186.6 1485.7,1186.4 1486.3,1186.7 1486.9,1186.5 1487.5,1186.4 1488.1,1186.5 1488.7,1186.5 1489.3,1186.6 1489.9,1186.5 1490.5,1186.4 1491.1,1186.5 1491.7,1186.6 1492.2,1186.8 1492.8,1186.8 1493.4,1186.9 1494.0,1186.9 1494.6,1187.0 1495.2,1187.1 1495.8,1187.2 1496.4,1187.3 1497.0,1187.0 1497.6,1187.0 1498.2,1186.9 1498.8,1187.0 1499.3,1187.1 1499.9,1187.1 1500.5,1187.1 1501.1,1186.8 1501.7,1186.9 1502.3,1187.0 1502.9,1186.9 1503.5,1186.9 1504.1,1186.8 1504.7,1186.5 1505.3,1186.6 1505.9,1186.8 1506.4,1186.7 1507.0,1186.7 1507.6,1186.8 1508.2,1186.8 1508.8,1186.8 1509.4,1186.9 1510.0,1187.0 1510.6,1186.9 1511.2,1187.1 1511.8,1187.0 1512.4,1187.0 1513.0,1186.8 1513.5,1186.9 1514.1,1186.6 1514.7,1186.5 1515.3,1186.6 1515.9,1186.6 1516.5,1186.6 1517.1,1186.6 1517.7,1186.5 1518.3,1186.4 1518.9,1186.8 1519.5,1186.8 1520.1,1186.5 1520.6,1186.5 1521.2,1186.3 1521.8,1186.6 1522.4,1186.6 1523.0,1186.6 1523.6,1186.7 1524.2,1186.6 1524.8,1186.4 1525.4,1186.3 1526.0,1186.4 1526.6,1186.4 1527.2,1186.4 1527.7,1186.0 1528.3,1185.8 1528.9,1186.0 1529.5,1186.2 1530.1,1186.3 1530.7,1186.1 1531.3,1186.3 1531.9,1186.5 1532.5,1186.4 1533.1,1186.6 1533.7,1186.7 1534.3,1186.6 1534.8,1186.6 1535.4,1186.6 1536.0,1186.6 1536.6,1186.6 1537.2,1186.7 1537.8,1186.5 1538.4,1186.7 1539.0,1186.9 1539.6,1186.9 1540.2,1186.9 1540.8,1186.9 1541.4,1187.0 1541.9,1186.9 1542.5,1187.0 1543.1,1187.2 1543.7,1187.3 1544.3,1187.3 1544.9,1187.4 1545.5,1187.4 1546.1,1187.6 1546.7,1187.4 1547.3,1187.2 1547.9,1187.2 1548.5,1187.1 1549.0,1187.0 1549.6,1187.1 1550.2,1186.9 1550.8,1187.0 1551.4,1186.9 1552.0,1186.7 1552.6,1186.9 1553.2,1187.0 1553.8,1187.0 1554.4,1187.1 1555.0,1186.9 1555.6,1187.1 1556.1,1187.3 1556.7,1187.3 1557.3,1187.3 1557.9,1187.3 1558.5,1187.2 1559.1,1187.2 1559.7,1187.1 1560.3,1186.9 1560.9,1186.7 1561.5,1186.7 1562.1,1186.6 1562.7,1186.8 1563.2,1186.9 1563.8,1186.9 1564.4,1186.8 1565.0,1186.6 1565.6,1186.6 1566.2,1186.6 1566.8,1186.7 1567.4,1186.8 1568.0,1187.0 1568.6,1187.1 1569.2,1187.1 1569.8,1187.6 1570.3,1187.5 1570.9,1187.4 1571.5,1187.1 1572.1,1186.9 1572.7,1186.8 1573.3,1186.9 1573.9,1186.8 1574.5,1186.8 1575.1,1186.9 1575.7,1186.8 1576.3,1186.5 1576.9,1186.5 1577.4,1186.5 1578.0,1186.6 1578.6,1186.1 1579.2,1186.0 1579.8,1186.0 1580.4,1186.0 1581.0,1186.1 1581.6,1186.3 1582.2,1186.3 1582.8,1186.4 1583.4,1186.6 1584.0,1186.5 1584.5,1186.5 1585.1,1186.6 1585.7,1186.8 1586.3,1186.6 1586.9,1186.5 1587.5,1186.8 1588.1,1186.9 1588.7,1187.1 1589.3,1187.2 1589.9,1187.2 1590.5,1187.0 1591.1,1186.9 1591.6,1186.9 1592.2,1186.8 1592.8,1186.8 1593.4,1187.0 1594.0,1186.9 1594.6,1186.6 1595.2,1186.7 1595.8,1186.7 1596.4,1186.7 1597.0,1186.6 1597.6,1186.9 1598.2,1186.7 1598.7,1186.6 1599.3,1186.8 1599.9,1187.1 1600.5,1187.2 1601.1,1187.1 1601.7,1187.3 1602.3,1187.3 1602.9,1187.5 1603.5,1187.5 1604.1,1187.4 1604.7,1187.5 1605.3,1187.4 1605.8,1187.3 1606.4,1187.1 1607.0,1187.3 1607.6,1187.4 1608.2,1187.3 1608.8,1187.1 1609.4,1187.0 1610.0,1187.0 1610.6,1187.2 1611.2,1187.0 1611.8,1186.8 1612.4,1187.0 1612.9,1187.1 1613.5,1187.3 1614.1,1187.2 1614.7,1187.1 1615.3,1187.2 1615.9,1187.2 1616.5,1187.1 1617.1,1186.8 1617.7,1187.1 1618.3,1187.0 1618.9,1187.1 1619.5,1186.8 1620.0,1186.8 1620.6,1186.6 1621.2,1186.4 1621.8,1186.6 1622.4,1186.5 1623.0,1186.5 1623.6,1186.4 1624.2,1186.3 1624.8,1186.3 1625.4,1186.5 1626.0,1186.5 1626.6,1186.2 1627.1,1186.3 1627.7,1186.1 1628.3,1186.1 1628.9,1185.9 1629.5,1186.1 1630.1,1186.4 1630.7,1186.3 1631.3,1186.0 1631.9,1186.0 1632.5,1186.1 1633.1,1186.2 1633.7,1186.2 1634.2,1185.8 1634.8,1185.9 1635.4,1186.1 1636.0,1186.1 1636.6,1186.1 1637.2,1186.1 1637.8,1186.2 1638.4,1186.0 1639.0,1185.8 1639.6,1186.0 1640.2,1186.0 1640.8,1186.0 1641.3,1186.1 1641.9,1186.1 1642.5,1186.3 1643.1,1186.4 1643.7,1186.6 1644.3,1186.6 1644.9,1186.6 1645.5,1186.5 1646.1,1186.6 1646.7,1186.8 1647.3,1187.1 1647.8,1187.3 1648.4,1187.3 1649.0,1187.5 1649.6,1187.4 1650.2,1187.2 1650.8,1187.3 1651.4,1187.0 1652.0,1187.0 1652.6,1186.8 1653.2,1186.8 1653.8,1186.8 1654.4,1186.7 1654.9,1186.6 1655.5,1186.6 1656.1,1186.3 1656.7,1186.0 1657.3,1186.0 1657.9,1186.1 1658.5,1186.4 1659.1,1186.5 1659.7,1186.6 1660.3,1186.5 1660.9,1186.6 1661.5,1186.7 1662.0,1186.7 1662.6,1186.9 1663.2,1187.1 1663.8,1187.5 1664.4,1187.4 1665.0,1187.5 1665.6,1187.6 1666.2,1187.5 1666.8,1187.4 1667.4,1187.1 1668.0,1186.9 1668.6,1186.8 1669.1,1186.9 1669.7,1187.0 1670.3,1186.9 1670.9,1186.7 1671.5,1186.5 1672.1,1186.3 1672.7,1186.0 1673.3,1185.8 1673.9,1186.0 1674.5,1185.9 1675.1,1186.1 1675.7,1186.4 1676.2,1186.6 1676.8,1186.7 1677.4,1186.8 1678.0,1186.7 1678.6,1186.7 1679.2,1186.8 1679.8,1186.7 1680.4,1187.1 1681.0,1187.2 1681.6,1187.3 1682.2,1187.7 1682.8,1187.3 1683.3,1187.4 1683.9,1187.2 1684.5,1186.9 1685.1,1186.9 1685.7,1186.9 1686.3,1186.9 1686.9,1186.8 1687.5,1186.7 1688.1,1186.5 1688.7,1186.7 1689.3,1186.6 1689.9,1186.4 1690.4,1186.6 1691.0,1186.7 1691.6,1186.8 1692.2,1186.9 1692.8,1186.8 1693.4,1186.9 1694.0,1186.9 1694.6,1187.1 1695.2,1187.1 1695.8,1187.3 1696.4,1187.5 1697.0,1187.8 1697.5,1187.9 1698.1,1187.9 1698.7,1187.9 1699.3,1187.7 1699.9,1187.3 1700.5,1187.6 1701.1,1187.7 1701.7,1187.7 1702.3,1187.6 1702.9,1187.7 1703.5,1187.6 1704.1,1187.4 1704.6,1187.4 1705.2,1187.4 1705.8,1187.1 1706.4,1187.3 1707.0,1187.3 1707.6,1187.3 1708.2,1187.2 1708.8,1187.5 1709.4,1187.1 1710.0,1187.1 1710.6,1187.0 1711.2,1187.0 1711.7,1186.9 1712.3,1186.8 1712.9,1187.1 1713.5,1187.0 1714.1,1187.0 1714.7,1187.1 1715.3,1187.1 1715.9,1186.9 1716.5,1187.1 1717.1,1187.2 1717.7,1187.1 1718.3,1187.2 1718.8,1187.3 1719.4,1187.4 1720.0,1187.5 1720.6,1187.6 1721.2,1187.7 1721.8,1187.4 1722.4,1187.4 1723.0,1187.5 1723.6,1187.3 1724.2,1187.1 1724.8,1187.4 1725.4,1187.3 1725.9,1187.2 1726.5,1187.4 1727.1,1187.2 1727.7,1186.8 1728.3,1186.7 1728.9,1186.6 1729.5,1186.5 1730.1,1186.3 1730.7,1186.4 1731.3,1186.4 1731.9,1186.3 1732.5,1186.3 1733.0,1186.5 1733.6,1186.7 1734.2,1186.8 1734.8,1187.0 1735.4,1186.7 1736.0,1186.8 1736.6,1186.9 1737.2,1187.1 1737.8,1187.0 1738.4,1187.2 1739.0,1187.6 1739.6,1187.7 1740.1,1188.1 1740.7,1188.0 1741.3,1188.1 1741.9,1187.9 1742.5,1187.6 1743.1,1187.4 1743.7,1187.3 1744.3,1187.3 1744.9,1187.3 1745.5,1187.5 1746.1,1187.6 1746.7,1187.8 1747.2,1187.7 1747.8,1187.4 1748.4,1187.1 1749.0,1186.9 1749.6,1187.2 1750.2,1187.1 1750.8,1187.0 1751.4,1187.0 1752.0,1187.2 1752.6,1187.2 1753.2,1187.2 1753.8,1187.4 1754.3,1187.4 1754.9,1187.2 1755.5,1187.1 1756.1,1187.2 1756.7,1187.1 1757.3,1187.2 1757.9,1187.1 1758.5,1187.2 1759.1,1187.1 1759.7,1187.1 1760.3,1187.1 1760.9,1187.0 1761.4,1186.8 1762.0,1186.9 1762.6,1186.8 1763.2,1186.7 1763.8,1186.8 1764.4,1186.8 1765.0,1186.7 1765.6,1186.7 1766.2,1186.7 1766.8,1186.6 1767.4,1186.4 1768.0,1186.4 1768.5,1186.4 1769.1,1186.3 1769.7,1186.4 1770.3,1186.6 1770.9,1186.7 1771.5,1186.9 1772.1,1186.9 1772.7,1186.8 1773.3,1186.9 1773.9,1187.0 1774.5,1187.1 1775.1,1187.1 1775.6,1187.1 1776.2,1187.2 1776.8,1187.3 1777.4,1187.3 1778.0,1187.3 1778.6,1187.5 1779.2,1187.5 1779.8,1187.4 1780.4,1187.2 1781.0,1187.2 1781.6,1187.1 1782.2,1187.2 1782.7,1187.1 1783.3,1187.0 1783.9,1187.1 1784.5,1187.2 1785.1,1187.0 1785.7,1187.1 1786.3,1187.1 1786.9,1187.2 1787.5,1187.0 1788.1,1187.0 1788.7,1186.8 1789.3,1187.1 1789.8,1186.9 1790.4,1187.0 1791.0,1186.9 1791.6,1186.9 1792.2,1186.9 1792.8,1186.8 1793.4,1186.9 1794.0,1186.9 1794.6,1187.0 1795.2,1187.0 1795.8,1186.9 1796.4,1186.8 1796.9,1186.9 1797.5,1186.9 1798.1,1186.7 1798.7,1186.8 1799.3,1186.8 1799.9,1187.0 1800.5,1186.9 1801.1,1187.0 1801.7,1186.9 1802.3,1186.8 1802.9,1187.0 1803.5,1186.9 1804.0,1187.0 1804.6,1187.0 1805.2,1187.1 1805.8,1186.9 1806.4,1187.0 1807.0,1187.0"/>
<polyline fill="none" stroke="#FF0000" stroke-width="5" stroke-linejoin="round" stroke-linecap="butt" shape-rendering="crispEdges" points="180.0,1082.6 180.6,1082.6 181.2,1082.8 181.8,1082.9 182.4,1083.0 183.0,1083.2 183.5,1083.3 184.1,1083.3 184.7,1083.0 185.3,1083.1 185.9,1083.2 186.5,1083.5 187.1,1083.3 187.7,1083.3 188.3,1083.5 188.9,1083.5 189.5,1083.7 190.1,1083.5 190.6,1083.5 191.2,1083.2 191.8,1083.1 192.4,1083.0 193.0,1083.1 193.6,1083.2 194.2,1083.3 194.8,1083.4 195.4,1083.2 196.0,1083.4 196.6,1083.3 197.2,1083.4 197.7,1083.6 198.3,1083.3 198.9,1083.3 199.5,1083.6 200.1,1083.8 200.7,1083.8 201.3,1083.6 201.9,1083.8 202.5,1084.0 203.1,1083.9 203.7,1083.7 204.3,1083.8 204.8,1083.6 205.4,1083.6 206.0,1083.9 206.6,1084.0 207.2,1084.3 207.8,1084.4 208.4,1084.2 209.0,1084.0 209.6,1084.3 210.2,1084.4 210.8,1084.1 211.4,1084.0 211.9,1084.1 212.5,1084.3 213.1,1084.3 213.7,1084.3 214.3,1084.3 214.9,1083.9 215.5,1083.6 216.1,1083.4 216.7,1083.5 217.3,1083.7 217.9,1083.8 218.5,1083.4 219.0,1083.4 219.6,1083.4 220.2,1083.4 220.8,1083.2 221.4,1083.2 222.0,1083.0 222.6,1083.4 223.2,1083.5 223.8,1083.7 224.4,1083.8 225.0,1084.1 225.6,1083.9 226.1,1083.7 226.7,1083.9 227.3,1084.0 227.9,1084.3 228.5,1084.5 229.1,1084.6 229.7,1084.8 230.3,1085.0 230.9,1085.0 231.5,1084.9 232.1,1084.9 232.7,1084.8 233.2,1084.9 233.8,1084.6 234.4,1084.7 235.0,1084.7 235.6,1084.4 236.2,1084.4 236.8,1084.4 237.4,1084.3 238.0,1084.3 238.6,1084.2 239.2,1084.0 239.8,1084.2 240.3,1083.9 240.9,1084.0 241.5,1083.9 242.1,1083.9 242.7,1084.1 243.3,1084.1 243.9,1084.0 244.5,1084.1 245.1,1083.9 245.7,1083.6 246.3,1083.6 246.9,1083.4 247.4,1083.6 248.0,1083.4 248.6,1083.3 249.2,1083.4 249.8,1083.3 250.4,1083.4 251.0,1083.1 251.6,1082.7 252.2,1082.6 252.8,1082.1 253.4,1081.7 254.0,1081.8 254.5,1081.5 255.1,1081.0 255.7,1080.7 256.3,1080.3 256.9,1079.9 257.5,1079.2 258.1,1078.2 258.7,1077.0 259.3,1075.1 259.9,1071.6 260.5,1065.2 261.1,1053.5 261.6,1033.8 262.2,1003.4 262.8,962.4 263.4,916.6 264.0,877.5 264.6,860.5 265.2,877.1 265.8,916.0 266.4,961.6 267.0,1002.6 267.6,1032.9 268.2,1052.7 268.7,1064.3 269.3,1070.5 269.9,1074.1 270.5,1076.1 271.1,1077.5 271.7,1078.5 272.3,1079.5 272.9,1080.2 273.5,1080.7 274.1,1081.0 274.7,1081.7 275.3,1082.1 275.8,1082.3 276.4,1082.8 277.0,1082.8 277.6,1083.1 278.2,1083.5 278.8,1083.6 279.4,1083.4 280.0,1083.6 280.6,1083.5 281.2,1083.5 281.8,1083.5 282.0,1081.9 283.5,1080.6 285.5,1076.7 286.7,1069.8 287.4,1057.8 287.4,1028.8 289.0,1013.9 289.5,988.9 289.8,981.2 290.1,981.9 290.6,988.9 291.3,992.0 292.5,994.0 294.3,995.0 294.4,1036.0 295.3,1044.0 295.5,1060.0 296.2,1063.1 297.2,1060.1 298.5,1053.1 300.3,1049.6 301.2,1051.1 301.8,1056.1 302.2,1066.1 303.0,1075.1 304.0,1080.1 305.5,1082.7 306.0,1083.6 306.6,1083.7 307.2,1083.6 307.8,1083.7 308.4,1083.7 309.0,1083.7 309.6,1083.8 310.2,1083.8 310.8,1084.1 311.3,1084.0 311.9,1084.2 312.5,1084.3 313.1,1084.6 313.7,1084.5 314.3,1084.5 314.9,1084.3 315.5,1084.0 316.1,1084.1 316.7,1083.9 317.3,1083.9 317.9,1083.7 318.4,1083.7 319.0,1084.0 319.6,1084.0 320.2,1084.0 320.8,1083.9 321.4,1083.9 322.0,1083.7 322.6,1084.0 323.2,1083.7 323.8,1083.8 324.4,1084.0 325.0,1084.1 325.5,1084.1 326.1,1084.1 326.7,1084.3 327.3,1084.4 327.9,1084.2 328.5,1084.3 329.1,1084.6 329.7,1084.7 330.3,1084.8 330.9,1084.9 331.5,1084.9 332.1,1085.3 332.6,1085.3 333.2,1085.2 333.8,1085.2 334.4,1085.6 335.0,1085.7 335.6,1085.4 336.2,1085.5 336.8,1085.5 337.4,1085.6 338.0,1085.4 338.6,1085.4 339.2,1085.3 339.7,1085.4 340.3,1085.2 340.9,1085.2 341.5,1085.3 342.1,1085.3 342.7,1085.3 343.3,1085.1 343.9,1085.1 344.5,1085.4 345.1,1085.2 345.7,1085.5 346.2,1085.5 346.8,1085.6 347.4,1085.5 348.0,1085.5 348.6,1085.4 349.2,1085.4 349.8,1085.2 350.4,1085.2 351.0,1085.5 351.6,1085.7 352.2,1085.9 352.8,1086.2 353.3,1086.0 353.9,1086.3 354.5,1086.5 355.1,1086.4 355.7,1086.7 356.3,1086.6 356.9,1086.6 357.5,1086.5 358.1,1086.8 358.7,1087.2 359.3,1087.2 359.9,1087.2 360.4,1087.2 361.0,1087.1 361.6,1086.7 362.2,1086.9 362.8,1086.9 363.4,1087.0 364.0,1087.0 364.6,1086.8 365.2,1086.7 365.8,1086.5 366.4,1086.6 367.0,1086.7 367.5,1086.7 368.1,1086.6 368.7,1086.5 369.3,1086.5 369.9,1086.6 370.5,1086.9 371.1,1086.9 371.7,1086.8 372.3,1086.5 372.9,1086.7 373.5,1086.7 374.1,1086.9 374.6,1087.0 375.2,1087.1 375.8,1086.9 376.4,1086.9 377.0,1086.9 377.6,1086.8 378.2,1086.9 378.8,1086.7 379.4,1086.6 380.0,1086.6 380.6,1086.4 381.2,1086.5 381.7,1086.2 382.3,1086.1 382.9,1086.1 383.5,1086.3 384.1,1086.1 384.7,1086.3 385.3,1086.4 385.9,1086.6 386.5,1086.6 387.1,1086.4 387.7,1086.7 388.3,1086.5 388.8,1086.4 389.4,1086.6 390.0,1086.6 390.6,1086.6 391.2,1086.7 391.8,1086.6 392.4,1086.7 393.0,1086.8 393.6,1086.7 394.2,1086.7 394.8,1086.7 395.4,1086.5 395.9,1086.7 396.5,1086.5 397.1,1086.9 397.7,1087.0 398.3,1087.1 398.9,1087.0 399.5,1087.2 400.1,1087.3 400.7,1087.4 401.3,1087.3 401.9,1087.2 402.5,1087.3 403.0,1087.3 403.6,1087.3 404.2,1087.6 404.8,1087.6 405.4,1087.5 406.0,1087.5 406.6,1087.7 407.2,1087.8 407.8,1087.6 408.4,1087.7 409.0,1087.5 409.6,1087.6 410.1,1087.6 410.7,1087.8 411.3,1087.8 411.9,1087.8 412.5,1087.8 413.1,1087.7 413.7,1087.5 414.3,1087.7 414.9,1087.6 415.5,1087.4 416.1,1087.5 416.7,1087.9 417.2,1087.6 417.8,1087.6 418.4,1087.4 419.0,1086.5 419.6,1084.4 420.2,1080.4 420.8,1075.7 421.2,1073.5 421.4,1074.3 422.0,1078.3 422.6,1082.8 423.2,1085.8 423.8,1087.1 424.3,1087.5 424.9,1087.6 425.5,1087.8 426.1,1087.8 426.7,1087.6 427.3,1087.8 427.9,1087.7 428.5,1087.7 429.1,1087.6 429.7,1087.5 430.3,1087.4 430.9,1086.9 431.4,1086.9 432.0,1086.6 432.6,1086.3 433.2,1086.0 433.8,1086.0 434.4,1085.8 435.0,1085.8 435.6,1086.1 436.2,1086.3 436.8,1086.2 437.4,1086.0 438.0,1085.8 438.5,1085.7 439.1,1085.7 439.7,1085.7 440.3,1084.8 440.9,1082.1 441.5,1076.6 442.1,1069.9 442.5,1067.5 442.7,1068.1 443.3,1073.3 443.9,1079.9 444.5,1084.2 445.1,1086.0 445.6,1086.8 446.2,1087.0 446.8,1087.3 447.4,1087.4 448.0,1087.4 448.6,1087.3 449.2,1087.2 449.8,1087.3 450.4,1087.4 451.0,1087.3 451.6,1087.3 452.2,1087.4 452.7,1087.2 453.3,1087.2 453.9,1087.2 454.5,1087.2 455.1,1087.5 455.7,1087.6 456.3,1087.5 456.9,1087.3 457.5,1087.5 458.1,1087.6 458.7,1087.3 459.3,1087.3 459.8,1087.3 460.4,1087.2 461.0,1086.8 461.6,1086.9 462.2,1086.9 462.8,1087.0 463.4,1086.9 464.0,1086.6 464.6,1086.2 465.2,1085.5 465.8,1083.4 466.4,1078.2 466.9,1070.2 467.5,1064.4 467.7,1063.7 468.1,1066.9 468.7,1075.0 469.3,1081.8 469.9,1085.1 470.5,1085.8 471.1,1085.5 471.7,1085.0 472.3,1084.3 472.9,1084.0 473.0,1083.4 473.5,1084.1 474.0,1085.0 474.6,1085.8 475.2,1086.5 475.8,1087.3 476.4,1087.6 477.0,1087.8 477.6,1088.1 478.2,1088.2 478.8,1088.0 479.4,1087.8 480.0,1087.8 480.6,1087.5 481.1,1087.7 481.7,1087.6 482.3,1087.6 482.9,1087.4 483.5,1087.3 484.1,1087.1 484.7,1086.7 485.3,1086.7 485.9,1086.4 486.5,1086.3 487.1,1086.0 487.7,1086.2 488.2,1085.5 488.8,1082.9 489.4,1079.3 490.0,1076.3 490.2,1076.6 490.6,1077.5 491.2,1081.3 491.8,1084.6 492.4,1086.1 493.0,1086.7 493.6,1086.8 494.2,1086.9 494.8,1086.8 495.3,1087.2 495.9,1086.9 496.5,1086.8 497.1,1086.9 497.7,1086.8 498.3,1086.2 498.9,1084.7 499.5,1081.1 500.1,1075.6 500.7,1071.4 500.8,1071.4 501.3,1073.0 501.9,1078.6 502.4,1083.6 503.0,1086.1 503.6,1087.0 504.2,1087.3 504.8,1087.4 505.4,1087.4 506.0,1087.9 506.6,1088.1 507.2,1088.2 507.8,1088.1 508.4,1088.0 508.9,1088.0 509.5,1088.1 510.1,1088.1 510.7,1088.2 511.3,1088.0 511.9,1087.9 512.5,1087.9 513.1,1088.1 513.7,1088.1 514.3,1088.2 514.9,1087.9 515.5,1087.8 516.0,1087.7 516.6,1087.5 517.2,1086.9 517.8,1086.0 518.4,1085.3 518.9,1084.2 519.0,1085.3 519.6,1085.6 520.2,1086.3 520.8,1086.8 521.4,1087.3 522.0,1087.6 522.6,1087.7 523.1,1087.6 523.7,1087.7 524.3,1087.4 524.9,1087.2 525.5,1087.6 526.1,1087.7 526.7,1087.8 527.3,1088.1 527.9,1088.2 528.5,1088.3 529.1,1088.2 529.7,1088.3 530.2,1088.3 530.8,1088.2 531.4,1088.2 532.0,1088.2 532.6,1088.1 533.2,1088.1 533.8,1087.9 534.4,1087.8 535.0,1087.5 535.6,1087.5 536.2,1087.4 536.8,1087.2 537.3,1087.0 537.9,1086.8 538.5,1086.4 539.1,1086.1 539.7,1085.9 540.3,1085.4 540.9,1085.0 541.0,1085.4 541.5,1085.0 542.1,1085.5 542.7,1085.9 543.3,1086.6 543.9,1086.8 544.4,1086.6 545.0,1086.6 545.6,1086.7 546.2,1086.7 546.8,1086.6 547.4,1086.3 548.0,1085.9 548.6,1085.7 549.2,1085.2 549.8,1084.4 550.4,1083.3 551.0,1082.4 551.4,1082.9 551.5,1082.1 552.1,1082.6 552.7,1084.1 553.3,1085.1 553.9,1085.6 554.5,1086.1 555.1,1085.9 555.7,1084.8 556.3,1082.7 556.9,1079.8 557.3,1079.0 557.5,1079.2 558.1,1081.4 558.6,1084.1 559.2,1086.1 559.8,1086.9 560.4,1087.5 561.0,1087.6 561.6,1087.7 562.2,1087.7 562.8,1087.5 563.4,1087.6 564.0,1087.4 564.6,1087.3 565.2,1087.2 565.7,1087.1 566.3,1087.1 566.9,1087.4 567.5,1087.3 568.1,1087.2 568.7,1087.1 569.3,1086.8 569.9,1086.6 570.5,1086.6 571.1,1086.9 571.7,1086.9 572.3,1087.0 572.8,1087.3 573.4,1087.5 574.0,1087.5 574.6,1087.3 575.2,1087.4 575.8,1087.3 576.4,1087.2 577.0,1087.3 577.6,1087.3 578.2,1087.4 578.8,1087.6 579.4,1087.4 579.9,1087.1 580.5,1087.1 581.1,1087.1 581.7,1087.3 582.3,1086.8 582.9,1086.8 583.5,1087.1 584.1,1087.1 584.7,1087.0 585.3,1086.9 585.9,1087.1 586.5,1086.9 587.0,1087.2 587.6,1087.1 588.2,1087.2 588.8,1087.2 589.4,1087.3 590.0,1087.1 590.6,1087.3 591.2,1087.6 591.8,1087.7 592.4,1087.7 593.0,1087.7 593.6,1087.8 594.1,1087.7 594.7,1087.5 595.3,1087.7 595.9,1087.4 596.5,1087.1 597.1,1086.9 597.7,1085.9 598.3,1084.5 598.9,1082.7 599.5,1081.5 599.6,1081.5 600.1,1082.1 600.7,1083.7 601.2,1085.4 601.8,1086.4 602.4,1087.4 603.0,1087.8 603.6,1088.0 604.2,1087.9 604.8,1088.2 605.4,1087.7 606.0,1087.8 606.6,1087.7 607.2,1087.7 607.8,1087.9 608.3,1087.8 608.9,1087.4 609.5,1087.4 610.1,1087.1 610.7,1087.1 611.3,1086.8 611.9,1086.9 612.5,1086.9 613.1,1087.0 613.7,1086.9 614.3,1087.0 614.9,1087.1 615.4,1087.4 616.0,1087.8 616.6,1087.6 617.2,1087.6 617.8,1087.6 618.4,1087.3 619.0,1087.7 619.6,1087.6 620.2,1087.9 620.8,1087.9 621.4,1087.7 622.0,1087.7 622.5,1087.9 623.1,1088.1 623.7,1088.1 624.3,1087.9 624.9,1087.7 625.5,1087.6 626.1,1087.8 626.7,1087.9 627.3,1088.0 627.9,1087.9 628.5,1087.7 629.1,1087.6 629.6,1087.2 630.2,1086.8 630.8,1086.0 631.4,1084.5 632.0,1082.7 632.6,1081.7 632.7,1081.5 633.2,1082.0 633.8,1083.2 634.4,1084.3 635.0,1085.5 635.6,1086.4 636.2,1086.6 636.7,1086.9 637.3,1086.7 637.9,1086.9 638.5,1087.1 639.1,1086.9 639.7,1086.9 640.3,1087.2 640.9,1087.0 641.5,1086.9 642.1,1087.0 642.7,1087.2 643.3,1087.2 643.8,1087.0 644.4,1086.4 645.0,1085.2 645.6,1083.4 646.2,1080.9 646.8,1078.6 647.2,1077.6 647.4,1078.1 648.0,1079.6 648.6,1081.9 649.2,1084.1 649.8,1085.8 650.4,1086.4 650.9,1086.8 651.5,1086.9 652.1,1087.1 652.7,1086.9 653.3,1087.2 653.9,1087.1 654.5,1087.5 655.1,1087.3 655.7,1087.1 656.3,1087.0 656.9,1087.2 657.5,1087.3 658.0,1087.6 658.6,1087.4 659.2,1087.5 659.8,1087.7 660.4,1087.8 661.0,1087.7 661.6,1087.9 662.2,1087.5 662.8,1087.6 663.4,1087.3 664.0,1087.4 664.6,1087.4 665.1,1087.5 665.7,1087.4 666.3,1087.3 666.9,1087.2 667.5,1087.3 668.1,1087.5 668.7,1087.4 669.3,1087.2 669.9,1087.2 670.5,1087.0 671.1,1087.4 671.6,1087.0 672.2,1086.9 672.8,1086.4 673.4,1086.1 674.0,1085.5 674.6,1085.2 675.1,1085.2 675.2,1085.2 675.8,1085.6 676.4,1086.0 677.0,1086.5 677.6,1087.0 678.2,1086.9 678.7,1086.9 679.3,1086.8 679.9,1086.9 680.5,1086.7 681.1,1086.6 681.7,1086.4 682.3,1086.5 682.9,1086.1 683.5,1085.8 684.1,1084.6 684.7,1083.3 685.3,1082.1 685.7,1082.4 685.8,1081.5 686.4,1082.5 687.0,1084.0 687.6,1085.0 688.2,1085.8 688.8,1086.3 689.4,1086.9 690.0,1086.9 690.6,1086.8 691.2,1086.9 691.8,1087.0 692.4,1087.2 692.9,1086.9 693.5,1087.1 694.1,1087.1 694.7,1087.3 695.3,1087.1 695.9,1087.2 696.5,1087.4 697.1,1087.4 697.7,1087.4 698.3,1087.3 698.9,1087.1 699.5,1087.0 700.0,1086.9 700.6,1086.7 701.2,1086.7 701.8,1086.7 702.4,1086.5 703.0,1086.3 703.6,1086.3 704.2,1086.5 704.8,1086.4 705.4,1086.6 706.0,1086.2 706.6,1085.9 707.1,1085.5 707.7,1085.6 708.3,1085.2 708.9,1084.9 709.5,1084.2 710.1,1081.9 710.7,1075.8 711.3,1059.1 711.9,1030.2 712.5,1006.2 712.6,1005.7 713.1,1015.3 713.7,1044.9 714.2,1068.3 714.8,1079.0 715.4,1082.4 716.0,1083.3 716.6,1083.7 717.2,1083.0 717.8,1081.0 718.4,1075.7 719.0,1064.8 719.6,1052.0 720.0,1048.6 720.2,1048.7 720.8,1058.8 721.3,1071.8 721.9,1080.4 722.5,1084.2 723.1,1085.3 723.7,1085.6 724.3,1086.0 724.9,1086.2 725.5,1086.4 726.1,1086.5 726.7,1086.4 727.3,1085.8 727.9,1085.0 728.4,1082.9 729.0,1079.2 729.6,1074.4 730.2,1070.0 730.7,1068.9 730.8,1068.9 731.4,1071.9 732.0,1076.6 732.6,1080.5 733.2,1083.5 733.8,1084.7 734.4,1085.4 735.0,1085.3 735.5,1084.9 736.1,1082.6 736.7,1076.3 737.3,1064.3 737.9,1050.0 738.4,1044.6 738.5,1046.1 739.1,1057.2 739.7,1071.4 740.3,1080.8 740.9,1084.9 741.5,1086.0 742.1,1086.7 742.6,1086.9 743.2,1087.0 743.8,1087.1 744.4,1087.5 745.0,1087.6 745.6,1087.3 746.2,1087.5 746.8,1087.2 747.4,1086.5 748.0,1085.6 748.6,1084.2 749.2,1082.6 749.7,1080.5 750.3,1078.5 750.9,1077.3 751.1,1076.2 751.5,1077.5 752.1,1078.7 752.7,1079.8 753.3,1081.0 753.9,1081.7 754.5,1081.2 755.1,1080.1 755.7,1078.8 756.3,1077.5 756.8,1076.8 757.0,1076.8 757.4,1077.0 758.0,1078.6 758.6,1080.8 759.2,1082.5 759.8,1084.3 760.4,1085.5 761.0,1086.4 761.6,1086.9 762.2,1087.1 762.8,1087.4 763.4,1087.6 763.9,1087.3 764.5,1087.2 765.1,1087.3 765.7,1087.3 766.3,1087.3 766.9,1087.2 767.5,1087.0 768.1,1086.9 768.7,1086.9 769.3,1086.9 769.9,1086.9 770.5,1086.9 771.0,1087.0 771.6,1086.9 772.2,1086.7 772.8,1086.9 773.4,1087.1 774.0,1086.9 774.6,1086.8 775.2,1087.1 775.8,1087.5 776.4,1087.6 777.0,1087.8 777.6,1087.5 778.1,1087.6 778.7,1087.7 779.3,1087.7 779.9,1087.7 780.5,1087.6 781.1,1087.7 781.7,1087.8 782.3,1087.8 782.9,1087.8 783.5,1087.6 784.1,1087.3 784.7,1087.0 785.2,1086.8 785.8,1086.6 786.4,1086.8 787.0,1086.7 787.6,1086.7 788.2,1086.6 788.8,1086.2 789.4,1085.9 790.0,1085.6 790.6,1084.9 791.2,1084.2 791.8,1083.9 792.2,1084.2 792.3,1084.1 792.9,1084.2 793.5,1084.3 794.1,1084.3 794.7,1084.1 795.3,1083.6 795.9,1083.1 796.5,1082.4 797.1,1081.9 797.5,1082.2 797.7,1081.7 798.3,1082.1 798.9,1082.8 799.4,1083.7 800.0,1084.3 800.6,1084.9 801.2,1085.2 801.8,1085.8 802.4,1085.9 803.0,1086.3 803.6,1086.5 804.2,1086.4 804.8,1086.4 805.4,1086.4 806.0,1086.4 806.5,1086.6 807.1,1086.6 807.7,1087.0 808.3,1087.0 808.9,1087.2 809.5,1086.9 810.1,1086.8 810.7,1086.7 811.3,1086.7 811.9,1086.5 812.5,1086.2 813.1,1085.9 813.6,1085.5 814.2,1084.6 814.8,1083.7 815.4,1082.8 816.0,1082.2 816.2,1083.1 816.6,1082.1 817.2,1082.9 817.8,1084.0 818.4,1085.1 819.0,1085.7 819.6,1086.2 820.2,1086.4 820.7,1086.5 821.3,1086.5 821.9,1086.6 822.5,1086.6 823.1,1086.6 823.7,1086.3 824.3,1085.9 824.9,1085.1 825.5,1084.1 826.1,1082.3 826.7,1080.5 827.3,1079.0 827.7,1078.9 827.8,1078.6 828.4,1079.5 829.0,1081.1 829.6,1082.9 830.2,1084.4 830.8,1085.6 831.4,1086.2 832.0,1086.6 832.6,1087.1 833.2,1087.3 833.8,1087.1 834.3,1087.5 834.9,1087.5 835.5,1087.7 836.1,1088.1 836.7,1088.0 837.3,1087.9 837.9,1088.0 838.5,1087.7 839.1,1087.4 839.7,1086.8 840.3,1086.3 840.9,1085.9 841.3,1085.2 841.4,1085.6 842.0,1085.9 842.6,1085.8 843.2,1085.9 843.8,1086.1 844.4,1086.0 845.0,1086.0 845.6,1086.0 846.2,1086.2 846.8,1086.4 847.4,1086.4 848.0,1086.5 848.5,1086.4 849.1,1086.8 849.7,1086.7 850.3,1086.6 850.9,1086.6 851.5,1086.7 852.1,1086.8 852.7,1086.7 853.3,1086.7 853.9,1086.8 854.5,1087.2 855.1,1086.8 855.6,1087.0 856.2,1087.1 856.8,1087.1 857.4,1087.2 858.0,1087.2 858.6,1087.2 859.2,1087.4 859.8,1087.3 860.4,1087.5 861.0,1087.5 861.6,1087.5 862.2,1087.4 862.7,1087.4 863.3,1087.2 863.9,1087.3 864.5,1087.1 865.1,1087.0 865.7,1087.1 866.3,1087.1 866.9,1087.0 867.5,1087.1 868.1,1087.1 868.7,1087.3 869.3,1087.2 869.8,1087.1 870.4,1087.1 871.0,1087.1 871.6,1087.1 872.2,1087.0 872.8,1087.1 873.4,1087.1 874.0,1087.0 874.6,1086.9 875.2,1086.9 875.8,1086.9 876.4,1087.1 876.9,1086.8 877.5,1086.9 878.1,1086.8 878.7,1087.0 879.3,1087.0 879.9,1087.0 880.5,1087.0 881.1,1087.3 881.7,1087.2 882.3,1087.4 882.9,1087.5 883.5,1087.6 884.0,1087.6 884.6,1087.5 885.2,1087.3 885.8,1087.4 886.4,1087.3 887.0,1087.3 887.6,1086.9 888.2,1086.9 888.8,1086.8 889.4,1086.7 890.0,1086.4 890.6,1086.6 891.1,1086.3 891.7,1086.3 892.3,1086.2 892.9,1085.9 893.5,1085.6 894.1,1085.0 894.7,1084.1 895.3,1083.4 895.9,1082.7 896.5,1082.8 896.6,1082.7 897.1,1083.2 897.7,1084.1 898.2,1085.0 898.8,1085.6 899.4,1086.1 900.0,1086.6 900.6,1086.8 901.2,1087.2 901.8,1087.4 902.4,1087.4 903.0,1087.6 903.6,1087.6 904.2,1087.4 904.8,1087.0 905.3,1086.8 905.9,1086.7 906.5,1086.3 907.1,1086.5 907.7,1086.5 908.3,1086.7 908.9,1086.9 909.5,1086.8 910.1,1086.7 910.7,1086.5 911.3,1086.3 911.9,1085.6 912.4,1084.4 913.0,1083.0 913.6,1081.0 914.2,1078.7 914.8,1077.0 915.3,1076.7 915.4,1076.7 916.0,1077.8 916.6,1079.9 917.2,1081.9 917.8,1083.7 918.4,1084.7 919.0,1085.3 919.5,1085.6 920.1,1086.0 920.7,1085.9 921.3,1085.3 921.9,1084.8 922.5,1083.8 923.1,1082.8 923.7,1082.3 924.1,1081.9 924.3,1082.2 924.9,1082.8 925.5,1083.8 926.1,1084.9 926.6,1085.9 927.2,1086.7 927.8,1087.0 928.4,1086.9 929.0,1087.1 929.6,1087.3 930.2,1087.2 930.8,1087.0 931.4,1087.1 932.0,1086.8 932.6,1087.2 933.2,1087.5 933.7,1087.6 934.3,1087.5 934.9,1087.6 935.5,1087.4 936.1,1087.4 936.7,1087.5 937.3,1087.6 937.9,1087.5 938.5,1087.5 939.1,1087.7 939.7,1087.8 940.3,1088.0 940.8,1088.1 941.4,1087.9 942.0,1087.8 942.6,1087.7 943.2,1087.8 943.8,1087.6 944.4,1087.7 945.0,1087.7 945.6,1087.8 946.2,1087.6 946.8,1087.6 947.4,1087.5 947.9,1087.5 948.5,1087.6 949.1,1087.5 949.7,1087.4 950.3,1087.7 950.9,1087.4 951.5,1087.5 952.1,1087.4 952.7,1087.7 953.3,1087.8 953.9,1087.7 954.5,1087.6 955.0,1087.7 955.6,1087.8 956.2,1087.9 956.8,1087.8 957.4,1087.9 958.0,1087.9 958.6,1087.8 959.2,1087.6 959.8,1087.7 960.4,1087.8 961.0,1087.7 961.6,1087.4 962.1,1087.2 962.7,1087.0 963.3,1086.9 963.9,1086.9 964.5,1087.0 965.1,1086.8 965.7,1086.6 966.3,1086.4 966.9,1086.2 967.5,1086.6 968.1,1086.4 968.7,1086.5 969.2,1086.3 969.8,1086.2 970.4,1086.3 971.0,1086.4 971.6,1086.3 972.2,1086.4 972.8,1086.5 973.4,1086.4 974.0,1086.2 974.6,1086.3 975.2,1086.5 975.8,1086.6 976.3,1086.9 976.9,1086.8 977.5,1086.7 978.1,1086.8 978.7,1086.7 979.3,1086.9 979.9,1086.9 980.5,1086.9 981.1,1087.2 981.7,1087.2 982.3,1087.1 982.9,1087.4 983.4,1087.1 984.0,1087.4 984.6,1087.2 985.2,1086.9 985.8,1087.0 986.4,1087.2 987.0,1087.2 987.6,1087.4 988.2,1087.4 988.8,1087.5 989.4,1087.7 990.0,1087.8 990.5,1087.9 991.1,1087.8 991.7,1087.8 992.3,1088.1 992.9,1087.9 993.5,1088.2 994.1,1088.2 994.7,1088.4 995.3,1088.1 995.9,1087.9 996.5,1087.7 997.0,1087.7 997.6,1087.7 998.2,1087.8 998.8,1087.6 999.4,1087.4 1000.0,1087.6 1000.6,1087.8 1001.2,1087.7 1001.8,1087.7 1002.4,1087.8 1003.0,1087.6 1003.6,1087.5 1004.1,1087.7 1004.7,1087.9 1005.3,1088.1 1005.9,1088.1 1006.5,1087.9 1007.1,1087.7 1007.7,1087.6 1008.3,1087.5 1008.9,1087.4 1009.5,1087.3 1010.1,1087.3 1010.7,1087.5 1011.2,1087.0 1011.8,1087.1 1012.4,1087.0 1013.0,1086.9 1013.6,1086.7 1014.2,1086.5 1014.8,1086.3 1015.4,1086.5 1016.0,1086.6 1016.6,1086.6 1017.2,1086.8 1017.8,1087.2 1018.3,1087.2 1018.9,1087.1 1019.5,1087.0 1020.1,1087.3 1020.7,1087.6 1021.3,1087.5 1021.9,1087.5 1022.5,1087.7 1023.1,1087.9 1023.7,1087.9 1024.3,1087.6 1024.9,1087.5 1025.4,1087.7 1026.0,1087.5 1026.6,1087.4 1027.2,1087.4 1027.8,1087.4 1028.4,1087.3 1029.0,1087.2 1029.6,1087.2 1030.2,1087.4 1030.8,1087.5 1031.4,1087.5 1032.0,1087.5 1032.5,1087.7 1033.1,1088.1 1033.7,1088.1 1034.3,1088.0 1034.9,1088.2 1035.5,1088.3 1036.1,1088.3 1036.7,1088.2 1037.3,1088.0 1037.9,1087.9 1038.5,1087.7 1039.1,1087.7 1039.6,1087.6 1040.2,1087.5 1040.8,1087.6 1041.4,1087.5 1042.0,1087.2 1042.6,1087.1 1043.2,1087.1 1043.8,1086.9 1044.4,1086.7 1045.0,1086.7 1045.6,1086.8 1046.2,1087.1 1046.7,1087.3 1047.3,1087.2 1047.9,1087.2 1048.5,1087.2 1049.1,1087.2 1049.7,1087.1 1050.3,1087.0 1050.9,1087.1 1051.5,1087.2 1052.1,1087.4 1052.7,1087.2 1053.3,1087.2 1053.8,1087.1 1054.4,1086.9 1055.0,1086.9 1055.6,1087.0 1056.2,1087.1 1056.8,1087.2 1057.4,1087.1 1058.0,1087.1 1058.6,1087.0 1059.2,1086.9 1059.8,1086.8 1060.4,1086.7 1060.9,1086.5 1061.5,1086.9 1062.1,1087.0 1062.7,1087.2 1063.3,1087.4 1063.9,1087.2 1064.5,1087.3 1065.1,1087.5 1065.7,1087.2 1066.3,1087.4 1066.9,1087.5 1067.5,1087.6 1068.0,1087.6 1068.6,1087.8 1069.2,1087.7 1069.8,1088.0 1070.4,1087.8 1071.0,1087.6 1071.6,1087.6 1072.2,1087.8 1072.8,1088.0 1073.4,1087.9 1074.0,1087.5 1074.6,1087.5 1075.1,1087.8 1075.7,1087.6 1076.3,1087.6 1076.9,1087.6 1077.5,1087.4 1078.1,1087.5 1078.7,1087.3 1079.3,1087.1 1079.9,1087.5 1080.5,1087.2 1081.1,1087.2 1081.7,1087.1 1082.2,1087.3 1082.8,1087.5 1083.4,1087.3 1084.0,1087.0 1084.6,1087.0 1085.2,1087.0 1085.8,1087.2 1086.4,1087.2 1087.0,1087.3 1087.6,1087.3 1088.2,1087.4 1088.8,1087.3 1089.3,1087.2 1089.9,1086.9 1090.5,1086.9 1091.1,1086.7 1091.7,1086.5 1092.3,1086.7 1092.9,1086.8 1093.5,1086.8 1094.1,1086.9 1094.7,1087.0 1095.3,1087.2 1095.9,1087.0 1096.4,1086.9 1097.0,1087.0 1097.6,1087.0 1098.2,1087.1 1098.8,1087.1 1099.4,1086.8 1100.0,1086.9 1100.6,1087.1 1101.2,1087.1 1101.8,1087.2 1102.4,1087.3 1103.0,1087.4 1103.5,1087.1 1104.1,1087.1 1104.7,1087.1 1105.3,1087.2 1105.9,1087.1 1106.5,1086.8 1107.1,1086.8 1107.7,1086.9 1108.3,1087.1 1108.9,1086.9 1109.5,1086.6 1110.1,1086.7 1110.6,1086.4 1111.2,1086.2 1111.8,1086.1 1112.4,1086.5 1113.0,1086.5 1113.6,1086.5 1114.2,1086.4 1114.8,1086.5 1115.4,1086.8 1116.0,1086.8 1116.6,1086.9 1117.2,1087.0 1117.7,1087.0 1118.3,1087.3 1118.9,1087.3 1119.5,1087.4 1120.1,1087.4 1120.7,1087.4 1121.3,1087.1 1121.9,1087.2 1122.5,1087.4 1123.1,1087.4 1123.7,1087.4 1124.3,1087.4 1124.8,1087.5 1125.4,1087.8 1126.0,1087.6 1126.6,1087.5 1127.2,1087.6 1127.8,1087.5 1128.4,1087.5 1129.0,1087.8 1129.6,1087.7 1130.2,1087.5 1130.8,1087.5 1131.4,1087.4 1131.9,1087.4 1132.5,1087.3 1133.1,1087.3 1133.7,1087.1 1134.3,1086.9 1134.9,1086.8 1135.5,1087.0 1136.1,1086.8 1136.7,1087.0 1137.3,1087.1 1137.9,1086.9 1138.5,1086.9 1139.0,1087.4 1139.6,1087.3 1140.2,1087.4 1140.8,1087.7 1141.4,1087.7 1142.0,1087.5 1142.6,1087.5 1143.2,1087.4 1143.8,1087.6 1144.4,1087.3 1145.0,1087.5 1145.6,1087.3 1146.1,1087.4 1146.7,1087.2 1147.3,1087.3 1147.9,1087.0 1148.5,1087.1 1149.1,1086.9 1149.7,1086.9 1150.3,1087.0 1150.9,1087.1 1151.5,1087.0 1152.1,1086.9 1152.7,1086.9 1153.2,1087.2 1153.8,1086.9 1154.4,1086.9 1155.0,1086.8 1155.6,1087.2 1156.2,1087.0 1156.8,1087.1 1157.4,1087.1 1158.0,1087.3 1158.6,1087.0 1159.2,1087.0 1159.7,1087.3 1160.3,1087.5 1160.9,1087.6 1161.5,1087.7 1162.1,1087.6 1162.7,1087.7 1163.3,1087.9 1163.9,1087.9 1164.5,1087.8 1165.1,1087.9 1165.7,1087.9 1166.3,1087.9 1166.8,1087.9 1167.4,1087.9 1168.0,1087.7 1168.6,1087.5 1169.2,1087.6 1169.8,1087.7 1170.4,1087.6 1171.0,1087.6 1171.6,1087.4 1172.2,1087.4 1172.8,1087.5 1173.4,1087.5 1173.9,1087.3 1174.5,1087.3 1175.1,1087.1 1175.7,1086.9 1176.3,1087.1 1176.9,1086.9 1177.5,1086.8 1178.1,1086.3 1178.7,1086.2 1179.3,1086.5 1179.9,1086.3 1180.5,1086.6 1181.0,1086.5 1181.6,1086.4 1182.2,1086.5 1182.8,1086.5 1183.4,1086.5 1184.0,1086.5 1184.6,1086.5 1185.2,1086.4 1185.8,1086.5 1186.4,1086.7 1187.0,1087.0 1187.6,1086.7 1188.1,1086.6 1188.7,1086.9 1189.3,1086.9 1189.9,1087.0 1190.5,1087.0 1191.1,1087.0 1191.7,1087.2 1192.3,1087.1 1192.9,1087.2 1193.5,1087.3 1194.1,1087.8 1194.7,1087.7 1195.2,1087.3 1195.8,1087.4 1196.4,1087.5 1197.0,1087.3 1197.6,1087.2 1198.2,1087.3 1198.8,1087.2 1199.4,1087.2 1200.0,1087.0 1200.6,1086.9 1201.2,1086.9 1201.8,1086.8 1202.3,1086.8 1202.9,1086.4 1203.5,1086.6 1204.1,1086.8 1204.7,1086.8 1205.3,1087.2 1205.9,1087.3 1206.5,1087.5 1207.1,1087.5 1207.7,1087.4 1208.3,1087.7 1208.9,1087.5 1209.4,1087.7 1210.0,1087.7 1210.6,1087.9 1211.2,1087.9 1211.8,1088.1 1212.4,1088.0 1213.0,1088.2 1213.6,1088.0 1214.2,1087.9 1214.8,1088.0 1215.4,1087.8 1216.0,1087.8 1216.5,1087.9 1217.1,1087.9 1217.7,1088.2 1218.3,1088.1 1218.9,1088.1 1219.5,1087.8 1220.1,1087.5 1220.7,1087.6 1221.3,1087.8 1221.9,1087.8 1222.5,1087.9 1223.1,1087.9 1223.6,1087.9 1224.2,1088.0 1224.8,1088.0 1225.4,1087.8 1226.0,1087.7 1226.6,1087.9 1227.2,1088.0 1227.8,1088.2 1228.4,1088.4 1229.0,1088.5 1229.6,1088.3 1230.2,1088.0 1230.7,1087.9 1231.3,1087.9 1231.9,1087.9 1232.5,1087.5 1233.1,1087.6 1233.7,1087.4 1234.3,1087.5 1234.9,1087.5 1235.5,1087.4 1236.1,1087.2 1236.7,1087.0 1237.3,1087.0 1237.8,1087.0 1238.4,1087.2 1239.0,1087.3 1239.6,1087.3 1240.2,1087.5 1240.8,1087.4 1241.4,1087.5 1242.0,1087.6 1242.6,1087.8 1243.2,1087.8 1243.8,1088.0 1244.4,1087.8 1244.9,1088.0 1245.5,1088.2 1246.1,1088.2 1246.7,1088.2 1247.3,1088.2 1247.9,1088.0 1248.5,1087.8 1249.1,1087.9 1249.7,1087.8 1250.3,1087.9 1250.9,1087.8 1251.5,1087.7 1252.0,1087.8 1252.6,1087.5 1253.2,1087.5 1253.8,1087.3 1254.4,1086.9 1255.0,1087.1 1255.6,1086.9 1256.2,1086.7 1256.8,1087.0 1257.4,1087.0 1258.0,1086.9 1258.6,1086.9 1259.1,1086.7 1259.7,1086.5 1260.3,1086.5 1260.9,1086.4 1261.5,1086.6 1262.1,1086.5 1262.7,1086.6 1263.3,1086.9 1263.9,1086.8 1264.5,1086.9 1265.1,1086.9 1265.7,1087.1 1266.2,1087.1 1266.8,1087.3 1267.4,1087.4 1268.0,1087.5 1268.6,1087.6 1269.2,1087.6 1269.8,1087.7 1270.4,1087.6 1271.0,1087.8 1271.6,1087.6 1272.2,1087.6 1272.8,1087.5 1273.3,1087.4 1273.9,1087.6 1274.5,1087.5 1275.1,1087.6 1275.7,1087.3 1276.3,1087.2 1276.9,1087.1 1277.5,1087.3 1278.1,1087.3 1278.7,1087.1 1279.3,1087.2 1279.9,1087.1 1280.4,1087.2 1281.0,1087.3 1281.6,1087.2 1282.2,1087.6 1282.8,1087.4 1283.4,1087.2 1284.0,1087.2 1284.6,1087.2 1285.2,1087.3 1285.8,1087.3 1286.4,1087.3 1287.0,1087.5 1287.5,1087.7 1288.1,1087.6 1288.7,1087.5 1289.3,1087.7 1289.9,1087.8 1290.5,1087.9 1291.1,1087.7 1291.7,1087.8 1292.3,1087.7 1292.9,1087.5 1293.5,1087.4 1294.1,1087.4 1294.6,1087.5 1295.2,1087.5 1295.8,1087.6 1296.4,1087.6 1297.0,1087.5 1297.6,1087.6 1298.2,1087.6 1298.8,1087.1 1299.4,1086.8 1300.0,1086.6 1300.6,1086.8 1301.2,1086.7 1301.7,1086.8 1302.3,1087.1 1302.9,1087.1 1303.5,1086.8 1304.1,1086.8 1304.7,1086.5 1305.3,1086.5 1305.9,1086.4 1306.5,1086.4 1307.1,1086.4 1307.7,1086.7 1308.3,1086.8 1308.8,1087.1 1309.4,1087.0 1310.0,1087.4 1310.6,1087.6 1311.2,1087.2 1311.8,1087.3 1312.4,1087.3 1313.0,1087.3 1313.6,1087.7 1314.2,1087.7 1314.8,1087.8 1315.4,1087.8 1315.9,1087.6 1316.5,1087.7 1317.1,1087.9 1317.7,1087.9 1318.3,1088.1 1318.9,1087.7 1319.5,1087.7 1320.1,1087.6 1320.7,1087.7 1321.3,1087.9 1321.9,1087.8 1322.4,1087.5 1323.0,1087.3 1323.6,1087.3 1324.2,1087.2 1324.8,1087.4 1325.4,1087.4 1326.0,1087.3 1326.6,1087.2 1327.2,1087.1 1327.8,1087.5 1328.4,1087.4 1329.0,1087.7 1329.5,1087.3 1330.1,1087.2 1330.7,1087.3 1331.3,1087.3 1331.9,1087.2 1332.5,1087.2 1333.1,1087.6 1333.7,1087.6 1334.3,1087.3 1334.9,1087.4 1335.5,1087.2 1336.1,1087.2 1336.6,1087.0 1337.2,1086.9 1337.8,1086.9 1338.4,1087.1 1339.0,1087.0 1339.6,1086.8 1340.2,1086.9 1340.8,1087.0 1341.4,1086.9 1342.0,1086.9 1342.6,1086.7 1343.2,1087.1 1343.7,1086.9 1344.3,1087.2 1344.9,1087.1 1345.5,1087.3 1346.1,1087.6 1346.7,1087.6 1347.3,1087.7 1347.9,1087.9 1348.5,1088.2 1349.1,1088.2 1349.7,1088.2 1350.3,1088.3 1350.8,1088.4 1351.4,1088.3 1352.0,1088.2 1352.6,1088.3 1353.2,1088.2 1353.8,1088.1 1354.4,1088.2 1355.0,1087.9 1355.6,1087.7 1356.2,1087.5 1356.8,1087.2 1357.4,1087.0 1357.9,1086.7 1358.5,1086.4 1359.1,1085.8 1359.7,1085.0 1360.3,1084.6 1360.9,1084.3 1361.5,1084.0 1361.9,1082.9 1362.1,1084.2 1362.7,1084.0 1363.3,1084.4 1363.9,1085.0 1364.5,1085.6 1365.0,1086.3 1365.6,1086.8 1366.2,1087.0 1366.8,1087.0 1367.4,1087.1 1368.0,1086.9 1368.6,1086.7 1369.2,1086.4 1369.8,1086.3 1370.4,1085.9 1371.0,1085.5 1371.6,1085.5 1372.1,1085.1 1372.7,1084.9 1373.3,1084.4 1373.9,1083.5 1374.5,1082.9 1375.1,1082.6 1375.7,1082.4 1376.3,1082.2 1376.7,1082.9 1376.9,1083.0 1377.5,1083.3 1378.1,1083.7 1378.7,1084.6 1379.2,1085.1 1379.8,1085.8 1380.4,1086.2 1381.0,1086.5 1381.6,1087.1 1382.2,1087.5 1382.8,1087.6 1383.4,1087.5 1384.0,1087.4 1384.6,1087.3 1385.2,1087.2 1385.8,1087.0 1386.3,1086.8 1386.9,1086.7 1387.5,1086.7 1388.1,1086.9 1388.7,1087.1 1389.3,1087.3 1389.9,1087.2 1390.5,1086.8 1391.1,1086.8 1391.7,1086.7 1392.3,1086.6 1392.9,1086.6 1393.4,1086.8 1394.0,1086.9 1394.6,1086.8 1395.2,1087.1 1395.8,1087.3 1396.4,1087.2 1397.0,1087.5 1397.6,1087.3 1398.2,1087.4 1398.8,1087.6 1399.4,1087.7 1400.0,1087.8 1400.5,1088.0 1401.1,1088.0 1401.7,1088.1 1402.3,1088.1 1402.9,1087.9 1403.5,1088.1 1404.1,1088.0 1404.7,1087.9 1405.3,1087.8 1405.9,1087.4 1406.5,1087.5 1407.1,1087.3 1407.6,1087.4 1408.2,1087.5 1408.8,1087.5 1409.4,1087.6 1410.0,1087.7 1410.6,1087.4 1411.2,1087.6 1411.8,1087.8 1412.4,1087.6 1413.0,1087.4 1413.6,1087.5 1414.2,1087.6 1414.7,1087.4 1415.3,1087.4 1415.9,1087.6 1416.5,1087.5 1417.1,1087.4 1417.7,1087.5 1418.3,1087.4 1418.9,1087.5 1419.5,1087.6 1420.1,1087.5 1420.7,1087.6 1421.3,1087.6 1421.8,1087.8 1422.4,1088.0 1423.0,1087.9 1423.6,1088.2 1424.2,1088.2 1424.8,1087.9 1425.4,1087.9 1426.0,1087.7 1426.6,1087.6 1427.2,1087.6 1427.8,1087.3 1428.4,1087.3 1428.9,1087.2 1429.5,1087.2 1430.1,1087.4 1430.7,1087.5 1431.3,1087.3 1431.9,1087.1 1432.5,1087.0 1433.1,1087.1 1433.7,1087.1 1434.3,1087.1 1434.9,1087.2 1435.5,1087.3 1436.0,1087.3 1436.6,1087.3 1437.2,1087.4 1437.8,1087.5 1438.4,1087.4 1439.0,1087.3 1439.6,1087.3 1440.2,1087.3 1440.8,1087.5 1441.4,1087.4 1442.0,1087.4 1442.6,1087.4 1443.1,1087.3 1443.7,1087.5 1444.3,1087.5 1444.9,1087.5 1445.5,1087.5 1446.1,1087.5 1446.7,1087.5 1447.3,1087.6 1447.9,1087.5 1448.5,1087.5 1449.1,1087.5 1449.7,1087.6 1450.2,1087.8 1450.8,1087.5 1451.4,1087.5 1452.0,1087.4 1452.6,1087.5 1453.2,1087.5 1453.8,1087.6 1454.4,1087.8 1455.0,1087.8 1455.6,1087.6 1456.2,1087.6 1456.8,1087.7 1457.3,1087.7 1457.9,1087.7 1458.5,1087.6 1459.1,1087.2 1459.7,1087.4 1460.3,1087.4 1460.9,1087.7 1461.5,1087.4 1462.1,1087.5 1462.7,1087.4 1463.3,1087.4 1463.9,1087.4 1464.4,1087.4 1465.0,1087.3 1465.6,1087.5 1466.2,1087.3 1466.8,1087.2 1467.4,1087.2 1468.0,1087.5 1468.6,1087.8 1469.2,1087.9 1469.8,1087.6 1470.4,1087.5 1471.0,1087.6 1471.5,1087.6 1472.1,1087.7 1472.7,1087.7 1473.3,1087.7 1473.9,1087.7 1474.5,1087.7 1475.1,1088.1 1475.7,1088.2 1476.3,1088.3 1476.9,1088.5 1477.5,1088.1 1478.1,1088.1 1478.6,1088.3 1479.2,1088.4 1479.8,1088.3 1480.4,1088.3 1481.0,1088.4 1481.6,1088.4 1482.2,1088.8 1482.8,1088.6 1483.4,1088.4 1484.0,1088.0 1484.6,1087.9 1485.1,1087.7 1485.7,1087.4 1486.3,1087.8 1486.9,1087.8 1487.5,1087.5 1488.1,1087.5 1488.7,1087.5 1489.3,1087.3 1489.9,1087.1 1490.5,1087.4 1491.1,1087.1 1491.7,1087.1 1492.2,1087.1 1492.8,1087.3 1493.4,1087.4 1494.0,1087.6 1494.6,1087.8 1495.2,1087.6 1495.8,1087.7 1496.4,1087.9 1497.0,1087.9 1497.6,1087.8 1498.2,1088.2 1498.8,1088.3 1499.3,1088.1 1499.9,1088.4 1500.5,1088.4 1501.1,1088.5 1501.7,1088.2 1502.3,1088.3 1502.9,1088.4 1503.5,1088.1 1504.1,1088.0 1504.7,1087.8 1505.3,1087.6 1505.9,1087.6 1506.4,1087.8 1507.0,1087.6 1507.6,1087.4 1508.2,1087.6 1508.8,1087.5 1509.4,1087.6 1510.0,1087.7 1510.6,1087.7 1511.2,1087.7 1511.8,1087.8 1512.4,1088.1 1513.0,1088.2 1513.5,1088.5 1514.1,1088.7 1514.7,1088.8 1515.3,1088.7 1515.9,1088.5 1516.5,1088.3 1517.1,1088.1 1517.7,1087.9 1518.3,1087.7 1518.9,1087.8 1519.5,1087.9 1520.1,1087.9 1520.6,1087.8 1521.2,1087.6 1521.8,1087.4 1522.4,1087.0 1523.0,1087.1 1523.6,1087.1 1524.2,1087.0 1524.8,1087.0 1525.4,1087.2 1526.0,1087.1 1526.6,1087.1 1527.2,1087.2 1527.7,1086.9 1528.3,1087.0 1528.9,1087.2 1529.5,1087.0 1530.1,1087.0 1530.7,1087.0 1531.3,1087.2 1531.9,1087.1 1532.5,1087.1 1533.1,1087.0 1533.7,1087.1 1534.3,1087.1 1534.8,1087.2 1535.4,1087.4 1536.0,1087.4 1536.6,1087.4 1537.2,1087.1 1537.8,1087.0 1538.4,1087.1 1539.0,1087.2 1539.6,1087.2 1540.2,1087.5 1540.8,1087.4 1541.4,1087.3 1541.9,1087.4 1542.5,1087.6 1543.1,1087.6 1543.7,1087.8 1544.3,1087.7 1544.9,1087.8 1545.5,1087.8 1546.1,1087.8 1546.7,1087.9 1547.3,1087.9 1547.9,1087.7 1548.5,1087.7 1549.0,1087.6 1549.6,1087.8 1550.2,1087.9 1550.8,1087.9 1551.4,1087.8 1552.0,1087.9 1552.6,1087.5 1553.2,1087.6 1553.8,1087.5 1554.4,1087.5 1555.0,1087.5 1555.6,1087.4 1556.1,1087.4 1556.7,1087.7 1557.3,1087.7 1557.9,1087.5 1558.5,1087.3 1559.1,1087.2 1559.7,1087.4 1560.3,1087.5 1560.9,1087.6 1561.5,1087.7 1562.1,1087.6 1562.7,1087.3 1563.2,1087.6 1563.8,1087.7 1564.4,1087.6 1565.0,1087.5 1565.6,1087.6 1566.2,1087.4 1566.8,1087.8 1567.4,1087.6 1568.0,1087.8 1568.6,1087.7 1569.2,1087.8 1569.8,1087.7 1570.3,1087.8 1570.9,1087.7 1571.5,1088.2 1572.1,1088.0 1572.7,1088.3 1573.3,1088.5 1573.9,1088.5 1574.5,1088.3 1575.1,1088.3 1575.7,1088.2 1576.3,1088.4 1576.9,1088.3 1577.4,1088.3 1578.0,1088.1 1578.6,1088.1 1579.2,1088.0 1579.8,1088.1 1580.4,1088.1 1581.0,1087.9 1581.6,1087.7 1582.2,1087.7 1582.8,1087.9 1583.4,1087.8 1584.0,1087.9 1584.5,1087.7 1585.1,1087.7 1585.7,1087.8 1586.3,1087.7 1586.9,1087.5 1587.5,1087.4 1588.1,1087.7 1588.7,1087.6 1589.3,1087.7 1589.9,1087.8 1590.5,1087.9 1591.1,1087.8 1591.6,1087.8 1592.2,1087.9 1592.8,1087.7 1593.4,1087.8 1594.0,1087.4 1594.6,1087.1 1595.2,1087.3 1595.8,1087.7 1596.4,1087.5 1597.0,1087.5 1597.6,1087.4 1598.2,1087.3 1598.7,1087.3 1599.3,1087.2 1599.9,1087.1 1600.5,1086.8 1601.1,1086.8 1601.7,1087.0 1602.3,1087.1 1602.9,1087.4 1603.5,1087.4 1604.1,1087.5 1604.7,1087.2 1605.3,1087.2 1605.8,1087.0 1606.4,1087.1 1607.0,1087.0 1607.6,1087.0 1608.2,1086.9 1608.8,1087.1 1609.4,1087.1 1610.0,1087.1 1610.6,1086.9 1611.2,1087.0 1611.8,1087.0 1612.4,1087.1 1612.9,1087.0 1613.5,1087.5 1614.1,1087.8 1614.7,1087.9 1615.3,1087.8 1615.9,1087.9 1616.5,1088.0 1617.1,1088.2 1617.7,1087.8 1618.3,1087.9 1618.9,1087.8 1619.5,1088.1 1620.0,1088.2 1620.6,1088.1 1621.2,1088.0 1621.8,1087.8 1622.4,1087.6 1623.0,1087.6 1623.6,1087.7 1624.2,1087.9 1624.8,1087.8 1625.4,1087.7 1626.0,1087.6 1626.6,1087.8 1627.1,1087.7 1627.7,1088.0 1628.3,1087.7 1628.9,1087.5 1629.5,1087.5 1630.1,1087.6 1630.7,1087.7 1631.3,1087.6 1631.9,1087.5 1632.5,1087.2 1633.1,1087.2 1633.7,1087.3 1634.2,1087.2 1634.8,1087.3 1635.4,1087.4 1636.0,1087.5 1636.6,1087.4 1637.2,1087.4 1637.8,1087.6 1638.4,1087.8 1639.0,1087.6 1639.6,1087.6 1640.2,1087.6 1640.8,1087.6 1641.3,1087.5 1641.9,1087.7 1642.5,1087.5 1643.1,1087.6 1643.7,1087.6 1644.3,1087.5 1644.9,1087.3 1645.5,1087.3 1646.1,1087.5 1646.7,1087.6 1647.3,1087.4 1647.8,1087.4 1648.4,1087.5 1649.0,1087.4 1649.6,1087.5 1650.2,1087.9 1650.8,1087.7 1651.4,1087.8 1652.0,1087.7 1652.6,1087.7 1653.2,1087.9 1653.8,1088.0 1654.4,1088.1 1654.9,1088.2 1655.5,1087.9 1656.1,1088.0 1656.7,1087.8 1657.3,1087.9 1657.9,1087.8 1658.5,1087.9 1659.1,1087.8 1659.7,1087.5 1660.3,1087.3 1660.9,1087.2 1661.5,1087.2 1662.0,1086.9 1662.6,1086.9 1663.2,1086.8 1663.8,1086.6 1664.4,1086.7 1665.0,1086.6 1665.6,1087.1 1666.2,1087.0 1666.8,1087.1 1667.4,1086.9 1668.0,1087.1 1668.6,1087.4 1669.1,1087.5 1669.7,1087.8 1670.3,1087.7 1670.9,1087.8 1671.5,1087.9 1672.1,1087.9 1672.7,1088.2 1673.3,1088.2 1673.9,1088.3 1674.5,1087.8 1675.1,1087.8 1675.7,1087.9 1676.2,1087.9 1676.8,1087.6 1677.4,1087.5 1678.0,1087.6 1678.6,1087.5 1679.2,1087.7 1679.8,1087.6 1680.4,1087.8 1681.0,1088.0 1681.6,1087.7 1682.2,1087.9 1682.8,1087.8 1683.3,1087.9 1683.9,1087.9 1684.5,1087.9 1685.1,1087.9 1685.7,1087.9 1686.3,1088.0 1686.9,1088.2 1687.5,1088.3 1688.1,1088.0 1688.7,1088.3 1689.3,1087.9 1689.9,1087.5 1690.4,1087.6 1691.0,1087.7 1691.6,1088.0 1692.2,1088.2 1692.8,1088.1 1693.4,1088.3 1694.0,1088.5 1694.6,1088.8 1695.2,1088.9 1695.8,1088.7 1696.4,1088.4 1697.0,1088.7 1697.5,1088.5 1698.1,1088.5 1698.7,1088.7 1699.3,1088.6 1699.9,1088.1 1700.5,1087.9 1701.1,1087.6 1701.7,1087.8 1702.3,1087.7 1702.9,1087.6 1703.5,1087.4 1704.1,1087.3 1704.6,1087.4 1705.2,1087.3 1705.8,1087.3 1706.4,1087.3 1707.0,1087.1 1707.6,1087.3 1708.2,1087.3 1708.8,1087.6 1709.4,1087.6 1710.0,1087.6 1710.6,1087.5 1711.2,1087.4 1711.7,1087.4 1712.3,1087.3 1712.9,1087.2 1713.5,1087.2 1714.1,1087.2 1714.7,1087.3 1715.3,1087.1 1715.9,1087.2 1716.5,1087.2 1717.1,1087.2 1717.7,1087.1 1718.3,1087.0 1718.8,1087.1 1719.4,1087.0 1720.0,1086.9 1720.6,1087.0 1721.2,1087.1 1721.8,1087.3 1722.4,1087.2 1723.0,1087.6 1723.6,1087.6 1724.2,1087.8 1724.8,1088.0 1725.4,1087.8 1725.9,1087.7 1726.5,1087.8 1727.1,1087.9 1727.7,1087.9 1728.3,1088.3 1728.9,1088.1 1729.5,1088.0 1730.1,1087.9 1730.7,1087.7 1731.3,1087.9 1731.9,1087.6 1732.5,1087.3 1733.0,1087.4 1733.6,1087.4 1734.2,1087.4 1734.8,1087.4 1735.4,1087.4 1736.0,1087.4 1736.6,1087.4 1737.2,1086.9 1737.8,1087.0 1738.4,1086.9 1739.0,1087.0 1739.6,1087.0 1740.1,1087.0 1740.7,1087.3 1741.3,1087.4 1741.9,1087.4 1742.5,1087.2 1743.1,1087.2 1743.7,1087.1 1744.3,1087.3 1744.9,1087.0 1745.5,1087.0 1746.1,1087.5 1746.7,1087.5 1747.2,1087.6 1747.8,1087.5 1748.4,1087.4 1749.0,1087.4 1749.6,1087.2 1750.2,1087.3 1750.8,1087.1 1751.4,1087.1 1752.0,1087.1 1752.6,1087.2 1753.2,1087.2 1753.8,1087.4 1754.3,1087.4 1754.9,1087.1 1755.5,1087.0 1756.1,1086.9 1756.7,1086.9 1757.3,1087.1 1757.9,1087.0 1758.5,1087.3 1759.1,1087.4 1759.7,1087.8 1760.3,1087.6 1760.9,1087.6 1761.4,1087.8 1762.0,1087.6 1762.6,1087.7 1763.2,1087.7 1763.8,1088.0 1764.4,1088.1 1765.0,1088.0 1765.6,1088.4 1766.2,1088.3 1766.8,1088.2 1767.4,1087.9 1768.0,1087.7 1768.5,1087.3 1769.1,1087.6 1769.7,1087.6 1770.3,1087.4 1770.9,1087.6 1771.5,1087.4 1772.1,1087.4 1772.7,1087.4 1773.3,1087.4 1773.9,1087.3 1774.5,1087.0 1775.1,1086.9 1775.6,1086.8 1776.2,1086.8 1776.8,1087.2 1777.4,1087.3 1778.0,1087.0 1778.6,1086.9 1779.2,1087.1 1779.8,1087.0 1780.4,1087.2 1781.0,1087.3 1781.6,1087.1 1782.2,1087.1 1782.7,1087.6 1783.3,1087.7 1783.9,1087.8 1784.5,1088.1 1785.1,1088.0 1785.7,1087.8 1786.3,1087.8 1786.9,1087.8 1787.5,1087.8 1788.1,1087.8 1788.7,1087.5 1789.3,1087.7 1789.8,1087.8 1790.4,1088.0 1791.0,1087.9 1791.6,1087.6 1792.2,1087.8 1792.8,1087.7 1793.4,1087.7 1794.0,1087.5 1794.6,1087.4 1795.2,1087.6 1795.8,1087.6 1796.4,1088.0 1796.9,1087.8 1797.5,1088.0 1798.1,1088.0 1798.7,1087.6 1799.3,1087.5 1799.9,1087.6 1800.5,1087.7 1801.1,1087.3 1801.7,1087.1 1802.3,1086.9 1802.9,1087.1 1803.5,1087.3 1804.0,1087.1 1804.6,1087.3 1805.2,1087.1 1805.8,1087.2 1806.4,1087.1 1807.0,1087.2"/>
<polyline fill="none" stroke="#0000FF" stroke-width="5" stroke-linejoin="round" stroke-linecap="butt" shape-rendering="crispEdges" points="180.0,852.6 180.6,852.6 181.2,852.3 181.8,852.4 182.4,852.4 183.0,852.4 183.5,852.6 184.1,852.6 184.7,852.6 185.3,852.5 185.9,852.6 186.5,852.8 187.1,853.1 187.7,853.2 188.3,853.4 188.9,853.8 189.5,853.8 190.1,854.1 190.6,853.9 191.2,853.9 191.8,854.1 192.4,854.2 193.0,854.0 193.6,854.0 194.2,854.1 194.8,854.0 195.4,854.2 196.0,854.0 196.6,854.2 197.2,853.8 197.7,853.5 198.3,853.5 198.9,853.5 199.5,853.7 200.1,853.8 200.7,853.4 201.3,853.2 201.9,853.6 202.5,853.5 203.1,853.3 203.7,853.4 204.3,853.1 204.8,853.0 205.4,852.9 206.0,852.8 206.6,852.5 207.2,852.6 207.8,852.5 208.4,852.5 209.0,852.5 209.6,852.6 210.2,852.6 210.8,852.3 211.4,852.6 211.9,852.8 212.5,852.5 213.1,852.6 213.7,852.8 214.3,852.8 214.9,853.1 215.5,853.3 216.1,853.5 216.7,853.6 217.3,853.3 217.9,853.3 218.5,853.1 219.0,853.3 219.6,853.5 220.2,853.3 220.8,853.3 221.4,853.5 222.0,853.7 222.6,853.7 223.2,853.6 223.8,853.5 224.4,853.7 225.0,853.4 225.6,853.5 226.1,853.7 226.7,853.9 227.3,854.1 227.9,854.1 228.5,854.2 229.1,854.3 229.7,854.2 230.3,854.1 230.9,853.9 231.5,853.9 232.1,853.9 232.7,854.0 233.2,853.9 233.8,854.0 234.4,853.8 235.0,853.8 235.6,853.8 236.2,853.6 236.8,853.5 237.4,853.4 238.0,853.4 238.6,853.3 239.2,853.4 239.8,853.6 240.3,853.5 240.9,853.5 241.5,853.4 242.1,853.2 242.7,853.3 243.3,853.5 243.9,853.3 244.5,853.0 245.1,853.0 245.7,853.1 246.3,852.9 246.9,852.9 247.4,852.5 248.0,852.3 248.6,852.1 249.2,852.1 249.8,852.2 250.4,852.2 251.0,852.4 251.6,852.0 252.2,851.7 252.8,851.5 253.4,851.7 254.0,851.9 254.5,851.6 255.1,851.3 255.7,851.4 256.3,851.4 256.9,851.2 257.5,850.9 258.1,850.4 258.7,849.8 259.3,849.1 259.9,848.3 260.5,847.3 261.1,846.0 261.6,843.8 262.2,839.6 262.8,832.6 263.4,820.8 264.0,802.5 264.6,775.4 265.2,740.6 265.8,701.1 266.4,663.9 267.0,640.3 267.3,637.2 267.6,640.3 268.2,663.7 268.7,700.8 269.3,740.4 269.9,775.1 270.5,802.0 271.1,820.2 271.7,831.9 272.3,838.7 272.9,842.7 273.5,845.0 274.1,846.6 274.7,847.9 275.3,848.5 275.8,849.1 276.4,849.6 277.0,850.3 277.6,850.5 278.2,850.9 278.8,851.2 279.4,851.4 280.0,851.5 280.6,851.7 281.2,852.1 281.8,852.3 282.4,852.5 282.9,852.1 283.0,850.8 284.3,849.5 286.8,846.7 288.0,839.8 289.5,827.9 290.2,813.0 290.7,803.0 291.9,783.0 292.5,757.1 293.1,759.1 293.5,765.1 295.5,770.2 295.6,809.2 296.6,815.2 296.8,836.2 297.5,838.2 298.5,833.2 299.6,825.2 300.8,820.8 301.7,820.8 302.5,827.3 303.0,839.3 304.0,848.3 305.5,851.3 306.0,853.2 306.6,853.1 307.2,853.2 307.8,853.5 308.4,853.4 309.0,853.4 309.6,853.4 310.2,853.4 310.8,853.2 311.3,853.2 311.9,853.1 312.5,853.4 313.1,853.6 313.7,853.4 314.3,853.2 314.9,853.2 315.5,853.1 316.1,852.9 316.7,852.6 317.3,852.5 317.9,852.3 318.4,852.3 319.0,852.2 319.6,852.4 320.2,852.6 320.8,852.7 321.4,852.6 322.0,852.8 322.6,853.0 323.2,853.2 323.8,853.1 324.4,853.7 325.0,854.0 325.5,854.0 326.1,853.9 326.7,854.4 327.3,854.6 327.9,854.5 328.5,854.3 329.1,854.2 329.7,854.1 330.3,854.0 330.9,853.6 331.5,853.5 332.1,853.6 332.6,853.8 333.2,853.6 333.8,853.7 334.4,854.0 335.0,854.2 335.6,854.1 336.2,853.9 336.8,853.9 337.4,854.1 338.0,854.1 338.6,854.0 339.2,853.9 339.7,854.1 340.3,854.0 340.9,854.1 341.5,853.9 342.1,853.9 342.7,853.9 343.3,853.5 343.9,853.5 344.5,853.5 345.1,853.6 345.7,853.8 346.2,853.8 346.8,854.2 347.4,854.6 348.0,854.6 348.6,854.8 349.2,855.1 349.8,855.0 350.4,855.2 351.0,855.0 351.6,855.0 352.2,855.1 352.8,855.2 353.3,855.2 353.9,855.3 354.5,855.3 355.1,855.3 355.7,855.2 356.3,855.1 356.9,855.1 357.5,855.2 358.1,855.1 358.7,855.1 359.3,855.0 359.9,855.2 360.4,855.4 361.0,855.2 361.6,855.1 362.2,855.1 362.8,855.4 363.4,855.6 364.0,855.6 364.6,855.6 365.2,855.6 365.8,855.6 366.4,855.2 367.0,855.2 367.5,855.2 368.1,855.0 368.7,854.9 369.3,854.8 369.9,854.9 370.5,854.9 371.1,855.2 371.7,854.7 372.3,854.4 372.9,854.5 373.5,854.5 374.1,854.5 374.6,854.5 375.2,854.9 375.8,855.1 376.4,855.1 377.0,855.3 377.6,855.4 378.2,855.2 378.8,855.3 379.4,855.3 380.0,855.3 380.6,855.6 381.2,855.7 381.7,855.6 382.3,855.4 382.9,855.4 383.5,855.3 384.1,855.1 384.7,855.0 385.3,855.0 385.9,854.9 386.5,854.7 387.1,854.9 387.7,855.0 388.3,854.9 388.8,855.0 389.4,854.8 390.0,854.9 390.6,855.0 391.2,855.0 391.8,855.0 392.4,855.1 393.0,855.1 393.6,855.2 394.2,855.2 394.8,855.2 395.4,855.3 395.9,855.5 396.5,855.3 397.1,855.3 397.7,855.4 398.3,855.5 398.9,855.8 399.5,855.7 400.1,855.9 400.7,855.8 401.3,855.8 401.9,855.9 402.5,856.0 403.0,855.7 403.6,855.9 404.2,856.0 404.8,855.9 405.4,856.3 406.0,856.3 406.6,856.3 407.2,856.1 407.8,855.7 408.4,855.8 409.0,855.8 409.6,855.9 410.1,855.9 410.7,855.8 411.3,855.9 411.9,856.0 412.5,856.0 413.1,856.0 413.7,855.9 414.3,856.0 414.9,855.9 415.5,855.6 416.1,855.9 416.7,855.9 417.2,856.0 417.8,855.8 418.4,855.8 419.0,855.8 419.6,855.6 420.2,855.4 420.8,854.8 421.4,853.4 422.0,851.0 422.6,847.9 423.2,845.9 423.8,847.5 424.3,851.0 424.9,853.3 425.5,854.6 426.1,854.6 426.7,854.9 427.3,854.7 427.9,854.9 428.5,855.0 429.1,855.1 429.7,855.3 430.3,855.5 430.9,855.5 431.4,855.3 432.0,855.5 432.6,855.9 433.2,855.9 433.8,855.7 434.4,855.4 435.0,855.4 435.6,855.4 436.2,855.4 436.8,855.2 437.4,855.1 438.0,855.1 438.5,855.1 439.1,855.1 439.7,854.8 440.3,854.6 440.9,854.2 441.5,853.5 442.1,852.8 442.7,850.7 443.3,846.1 443.9,839.6 444.5,837.0 445.1,839.6 445.6,846.2 446.2,851.2 446.8,853.2 447.4,854.1 448.0,854.4 448.6,854.5 449.2,854.8 449.8,854.8 450.4,855.0 451.0,854.9 451.6,854.9 452.2,855.0 452.7,855.1 453.3,855.0 453.9,855.0 454.5,855.1 455.1,855.1 455.7,855.1 456.3,855.0 456.9,854.9 457.5,855.0 458.1,854.8 458.7,855.2 459.3,855.1 459.8,855.0 460.4,854.8 461.0,854.9 461.6,855.0 462.2,855.0 462.8,855.0 463.4,854.8 464.0,854.7 464.6,854.8 465.2,854.6 465.8,854.6 466.4,854.5 466.9,853.9 467.5,852.2 468.1,848.5 468.7,842.1 469.3,836.3 469.6,835.7 469.9,836.2 470.5,842.5 471.1,849.0 471.7,852.6 472.3,853.5 472.9,853.5 473.5,852.8 474.0,852.2 474.6,851.8 474.9,852.1 475.2,852.3 475.8,852.8 476.4,853.7 477.0,853.9 477.6,854.2 478.2,854.7 478.8,854.8 479.4,854.5 480.0,854.3 480.6,854.6 481.1,854.3 481.7,854.5 482.3,854.7 482.9,854.4 483.5,854.4 484.1,854.4 484.7,854.5 485.3,854.5 485.9,854.9 486.5,855.1 487.1,855.0 487.7,855.2 488.2,855.4 488.8,855.4 489.4,855.0 490.0,854.8 490.6,853.6 491.2,851.4 491.8,849.3 492.1,848.6 492.4,849.2 493.0,851.3 493.6,853.6 494.2,854.7 494.8,855.0 495.3,855.1 495.9,854.9 496.5,854.9 497.1,854.8 497.7,854.8 498.3,854.6 498.9,854.5 499.5,854.4 500.1,854.3 500.7,853.3 501.3,851.3 501.9,847.5 502.4,843.7 502.7,843.5 503.0,843.8 503.6,847.8 504.2,851.8 504.8,854.2 505.4,855.1 506.0,855.6 506.6,855.7 507.2,855.7 507.8,855.4 508.4,855.2 508.9,855.1 509.5,855.0 510.1,855.0 510.7,855.0 511.3,855.0 511.9,855.2 512.5,855.2 513.1,855.2 513.7,854.9 514.3,855.0 514.9,854.7 515.5,854.7 516.0,854.8 516.6,855.4 517.2,855.3 517.8,855.1 518.4,855.0 519.0,854.5 519.6,854.1 520.2,853.7 520.8,853.4 521.4,853.4 522.0,853.7 522.6,854.5 523.1,854.9 523.7,855.5 524.3,855.8 524.9,855.9 525.5,855.7 526.1,855.5 526.7,855.7 527.3,855.7 527.9,855.8 528.5,855.7 529.1,855.9 529.7,855.8 530.2,855.9 530.8,856.0 531.4,855.9 532.0,855.8 532.6,855.6 533.2,855.6 533.8,855.5 534.4,855.4 535.0,855.6 535.6,855.5 536.2,855.3 536.8,855.4 537.3,855.3 537.9,855.1 538.5,855.5 539.1,855.6 539.7,855.5 540.3,855.4 540.9,855.5 541.5,855.7 542.1,855.9 542.7,856.0 543.3,856.2 543.9,856.2 544.4,856.3 545.0,856.4 545.6,856.1 546.2,856.2 546.8,856.3 547.4,856.1 548.0,856.0 548.6,856.1 549.2,856.1 549.8,855.9 550.4,855.7 551.0,855.1 551.5,854.6 552.1,853.6 552.7,852.3 553.3,852.1 553.9,852.0 554.5,853.2 555.1,853.9 555.7,854.4 556.3,854.9 556.9,854.8 557.5,854.1 558.1,852.7 558.6,851.1 559.2,850.0 559.8,851.1 560.4,852.9 561.0,854.6 561.6,855.5 562.2,855.7 562.8,855.9 563.4,855.7 564.0,855.9 564.6,855.9 565.2,855.8 565.7,855.9 566.3,855.7 566.9,855.8 567.5,855.7 568.1,855.7 568.7,856.0 569.3,856.2 569.9,856.1 570.5,856.3 571.1,856.1 571.7,856.0 572.3,856.1 572.8,856.0 573.4,856.1 574.0,856.3 574.6,856.4 575.2,856.5 575.8,856.5 576.4,856.4 577.0,856.4 577.6,856.1 578.2,855.8 578.8,855.9 579.4,855.9 579.9,855.9 580.5,856.0 581.1,855.8 581.7,855.8 582.3,855.7 582.9,855.3 583.5,855.2 584.1,854.8 584.7,855.1 585.3,855.3 585.9,855.4 586.5,855.4 587.0,855.5 587.6,855.3 588.2,855.3 588.8,855.4 589.4,855.6 590.0,855.6 590.6,855.6 591.2,855.5 591.8,855.8 592.4,855.8 593.0,855.9 593.6,855.6 594.1,855.5 594.7,855.3 595.3,855.3 595.9,855.6 596.5,855.7 597.1,855.7 597.7,855.7 598.3,855.5 598.9,855.2 599.5,854.4 600.1,853.8 600.7,852.7 601.2,852.0 601.5,851.7 601.8,852.6 602.4,853.7 603.0,855.1 603.6,855.9 604.2,856.4 604.8,856.5 605.4,856.3 606.0,856.5 606.6,856.6 607.2,856.6 607.8,856.8 608.3,856.6 608.9,856.5 609.5,856.3 610.1,856.3 610.7,856.1 611.3,856.3 611.9,856.0 612.5,856.3 613.1,856.1 613.7,856.3 614.3,856.8 614.9,856.6 615.4,856.6 616.0,856.7 616.6,856.6 617.2,856.7 617.8,856.8 618.4,856.8 619.0,856.8 619.6,856.6 620.2,856.2 620.8,856.3 621.4,856.4 622.0,856.3 622.5,856.0 623.1,855.8 623.7,855.9 624.3,855.7 624.9,855.8 625.5,855.9 626.1,855.9 626.7,855.9 627.3,855.9 627.9,855.9 628.5,856.2 629.1,856.2 629.6,856.0 630.2,855.8 630.8,855.9 631.4,856.0 632.0,855.6 632.6,854.7 633.2,853.6 633.8,852.0 634.4,850.8 634.7,849.7 635.0,850.5 635.6,851.7 636.2,853.5 636.7,854.7 637.3,855.5 637.9,856.0 638.5,856.3 639.1,856.2 639.7,856.1 640.3,856.3 640.9,856.1 641.5,856.0 642.1,855.7 642.7,855.6 643.3,855.8 643.8,855.7 644.4,855.8 645.0,855.3 645.6,855.2 646.2,854.6 646.8,853.9 647.4,852.1 648.0,849.7 648.6,847.4 649.2,846.9 649.8,847.5 650.4,849.9 650.9,852.3 651.5,853.9 652.1,854.8 652.7,855.1 653.3,855.3 653.9,855.4 654.5,855.2 655.1,855.4 655.7,855.3 656.3,855.3 656.9,855.5 657.5,855.7 658.0,855.7 658.6,855.4 659.2,855.4 659.8,855.5 660.4,855.8 661.0,855.7 661.6,855.8 662.2,855.9 662.8,855.9 663.4,855.8 664.0,855.8 664.6,855.8 665.1,856.1 665.7,856.1 666.3,855.9 666.9,855.7 667.5,855.9 668.1,856.0 668.7,855.8 669.3,855.3 669.9,855.5 670.5,855.3 671.1,855.2 671.6,855.2 672.2,855.4 672.8,855.6 673.4,855.4 674.0,854.9 674.6,854.6 675.2,854.5 675.8,854.3 676.4,854.2 677.0,854.1 677.6,854.2 678.2,854.6 678.7,854.9 679.3,855.4 679.9,855.8 680.5,856.1 681.1,856.2 681.7,856.1 682.3,856.2 682.9,856.6 683.5,856.6 684.1,856.5 684.7,855.9 685.3,855.5 685.8,855.0 686.4,853.6 687.0,852.9 687.6,852.0 688.2,852.9 688.8,853.8 689.4,854.6 690.0,855.1 690.6,855.2 691.2,855.3 691.8,855.3 692.4,855.3 692.9,855.1 693.5,855.3 694.1,855.1 694.7,855.3 695.3,855.6 695.9,855.6 696.5,855.5 697.1,855.3 697.7,855.1 698.3,855.3 698.9,855.4 699.5,855.6 700.0,855.8 700.6,855.7 701.2,855.7 701.8,855.7 702.4,855.7 703.0,855.8 703.6,855.3 704.2,855.4 704.8,855.1 705.4,855.2 706.0,855.4 706.6,855.4 707.1,855.4 707.7,854.9 708.3,854.8 708.9,854.7 709.5,854.5 710.1,854.2 710.7,853.9 711.3,853.4 711.9,852.2 712.5,848.7 713.1,837.6 713.7,816.0 714.2,792.8 714.5,788.7 714.8,792.6 715.4,815.5 716.0,837.6 716.6,848.7 717.2,852.3 717.8,853.6 718.4,853.8 719.0,853.6 719.6,852.4 720.2,848.6 720.8,840.0 721.3,828.5 721.9,821.4 722.5,828.2 723.1,840.1 723.7,848.9 724.3,853.0 724.9,854.4 725.5,854.7 726.1,854.8 726.7,854.8 727.3,854.9 727.9,854.8 728.4,854.6 729.0,854.2 729.6,853.4 730.2,852.0 730.8,849.6 731.4,846.2 732.0,842.5 732.6,840.5 733.2,842.2 733.8,846.0 734.4,849.6 735.0,852.1 735.5,853.4 736.1,854.2 736.7,854.4 737.3,854.0 737.9,852.6 738.5,848.6 739.1,839.6 739.7,827.1 740.3,820.1 740.9,826.6 741.5,839.2 742.1,848.4 742.6,852.5 743.2,854.1 743.8,854.5 744.4,855.0 745.0,855.0 745.6,855.0 746.2,855.0 746.8,854.8 747.4,854.6 748.0,854.4 748.6,854.3 749.2,854.1 749.7,853.3 750.3,852.0 750.9,850.2 751.5,848.4 752.1,846.7 752.7,845.7 753.0,845.7 753.3,845.8 753.9,846.6 754.5,848.3 755.1,849.7 755.7,850.5 756.3,850.5 756.8,849.7 757.4,848.4 758.0,847.3 758.6,846.4 758.9,845.8 759.2,846.7 759.8,847.7 760.4,849.3 761.0,850.8 761.6,852.3 762.2,853.6 762.8,854.5 763.4,854.9 763.9,855.2 764.5,855.4 765.1,855.4 765.7,855.4 766.3,855.2 766.9,855.1 767.5,854.8 768.1,854.5 768.7,854.4 769.3,854.7 769.9,855.1 770.5,855.0 771.0,854.8 771.6,854.8 772.2,855.1 772.8,855.0 773.4,854.8 774.0,855.0 774.6,854.9 775.2,854.8 775.8,855.1 776.4,855.6 777.0,855.6 777.6,855.8 778.1,855.7 778.7,855.5 779.3,855.6 779.9,855.7 780.5,855.5 781.1,855.3 781.7,855.2 782.3,855.3 782.9,855.2 783.5,855.2 784.1,855.3 784.7,855.2 785.2,854.8 785.8,855.0 786.4,855.1 787.0,855.4 787.6,855.3 788.2,855.3 788.8,855.3 789.4,855.7 790.0,855.8 790.6,855.7 791.2,855.6 791.8,855.1 792.3,854.8 792.9,854.4 793.5,853.9 794.1,853.2 794.7,854.1 795.3,854.1 795.9,854.0 796.5,853.9 797.1,853.5 797.7,852.8 798.3,851.7 798.9,851.1 799.4,850.9 800.0,851.4 800.6,852.2 801.2,852.7 801.8,853.6 802.4,854.2 803.0,854.4 803.6,854.9 804.2,855.0 804.8,855.2 805.4,855.2 806.0,855.2 806.5,855.3 807.1,855.4 807.7,855.5 808.3,855.3 808.9,855.2 809.5,855.2 810.1,855.4 810.7,855.1 811.3,855.2 811.9,855.2 812.5,854.8 813.1,854.8 813.6,854.7 814.2,854.7 814.8,854.6 815.4,854.0 816.0,853.4 816.6,852.5 817.2,851.7 817.8,850.8 818.1,851.6 818.4,850.5 819.0,851.0 819.6,852.2 820.2,853.1 820.7,854.2 821.3,854.8 821.9,855.1 822.5,855.1 823.1,855.2 823.7,855.4 824.3,855.6 824.9,855.6 825.5,855.2 826.1,855.4 826.7,854.9 827.3,854.4 827.8,853.5 828.4,851.9 829.0,850.6 829.6,849.5 830.2,850.1 830.8,850.8 831.4,852.3 832.0,853.2 832.6,854.0 833.2,854.4 833.8,854.7 834.3,855.0 834.9,855.0 835.5,855.1 836.1,855.1 836.7,855.0 837.3,855.0 837.9,855.0 838.5,855.0 839.1,854.8 839.7,854.9 840.3,854.9 840.9,854.8 841.4,854.3 842.0,853.9 842.6,853.6 843.2,853.8 843.8,853.4 844.4,853.8 845.0,854.3 845.6,854.7 846.2,855.1 846.8,855.5 847.4,855.9 848.0,856.1 848.5,856.2 849.1,856.0 849.7,856.1 850.3,856.0 850.9,856.1 851.5,856.1 852.1,856.4 852.7,856.4 853.3,856.3 853.9,856.3 854.5,856.4 855.1,856.1 855.6,856.1 856.2,855.9 856.8,855.9 857.4,855.8 858.0,855.9 858.6,855.7 859.2,855.7 859.8,855.5 860.4,855.6 861.0,855.3 861.6,855.5 862.2,855.6 862.7,855.5 863.3,855.4 863.9,855.8 864.5,855.6 865.1,855.7 865.7,855.7 866.3,855.9 866.9,855.7 867.5,855.7 868.1,855.8 868.7,856.0 869.3,855.7 869.8,856.1 870.4,856.1 871.0,856.0 871.6,855.8 872.2,855.9 872.8,855.5 873.4,855.5 874.0,855.6 874.6,855.9 875.2,855.9 875.8,856.1 876.4,856.2 876.9,856.3 877.5,856.1 878.1,856.1 878.7,856.2 879.3,856.1 879.9,856.2 880.5,856.2 881.1,856.1 881.7,856.3 882.3,856.4 882.9,856.2 883.5,855.9 884.0,855.5 884.6,855.5 885.2,855.4 885.8,855.4 886.4,855.5 887.0,855.5 887.6,855.4 888.2,855.4 888.8,855.5 889.4,855.6 890.0,855.7 890.6,855.8 891.1,855.8 891.7,855.8 892.3,855.9 892.9,855.8 893.5,855.9 894.1,855.7 894.7,855.9 895.3,855.4 895.9,855.0 896.5,854.4 897.1,853.5 897.7,852.4 898.2,851.9 898.5,851.9 898.8,851.8 899.4,852.2 900.0,853.1 900.6,853.8 901.2,854.7 901.8,855.0 902.4,855.4 903.0,855.6 903.6,855.9 904.2,855.9 904.8,855.8 905.3,855.8 905.9,856.0 906.5,856.0 907.1,855.8 907.7,855.8 908.3,855.9 908.9,856.0 909.5,856.2 910.1,856.0 910.7,856.2 911.3,856.4 911.9,856.3 912.4,856.2 913.0,856.2 913.6,856.0 914.2,855.2 914.8,853.7 915.4,852.1 916.0,850.3 916.6,848.5 917.2,847.2 917.8,848.5 918.4,850.1 919.0,852.2 919.5,853.7 920.1,854.7 920.7,855.4 921.3,855.7 921.9,855.5 922.5,855.2 923.1,854.9 923.7,854.8 924.3,854.0 924.9,853.3 925.5,852.6 926.1,852.0 926.6,852.6 927.2,853.3 927.8,853.9 928.4,854.8 929.0,855.2 929.6,855.4 930.2,855.5 930.8,855.6 931.4,855.8 932.0,855.6 932.6,855.7 933.2,855.7 933.7,855.6 934.3,855.6 934.9,855.5 935.5,855.4 936.1,855.5 936.7,855.8 937.3,855.5 937.9,855.7 938.5,855.9 939.1,856.0 939.7,856.0 940.3,856.1 940.8,856.3 941.4,856.2 942.0,856.2 942.6,856.6 943.2,856.5 943.8,856.5 944.4,856.6 945.0,856.5 945.6,856.3 946.2,856.5 946.8,856.2 947.4,856.0 947.9,855.9 948.5,856.2 949.1,856.0 949.7,855.9 950.3,856.1 950.9,856.1 951.5,855.5 952.1,855.6 952.7,855.7 953.3,855.6 953.9,855.8 954.5,855.9 955.0,855.6 955.6,855.7 956.2,855.7 956.8,855.7 957.4,855.6 958.0,855.6 958.6,855.7 959.2,855.3 959.8,855.3 960.4,855.5 961.0,855.4 961.6,855.4 962.1,855.4 962.7,855.3 963.3,855.2 963.9,855.4 964.5,855.5 965.1,855.6 965.7,855.7 966.3,855.5 966.9,855.7 967.5,855.7 968.1,855.7 968.7,855.7 969.2,855.7 969.8,855.9 970.4,855.8 971.0,855.7 971.6,855.6 972.2,855.6 972.8,855.6 973.4,855.5 974.0,855.3 974.6,855.4 975.2,855.5 975.8,855.6 976.3,855.6 976.9,855.9 977.5,855.9 978.1,856.0 978.7,856.0 979.3,856.2 979.9,856.4 980.5,856.5 981.1,856.1 981.7,856.2 982.3,856.2 982.9,856.3 983.4,855.9 984.0,855.8 984.6,855.7 985.2,855.6 985.8,855.4 986.4,855.3 987.0,855.4 987.6,855.3 988.2,855.2 988.8,855.3 989.4,855.5 990.0,855.7 990.5,855.4 991.1,855.5 991.7,855.6 992.3,856.0 992.9,856.2 993.5,856.2 994.1,856.2 994.7,856.3 995.3,856.3 995.9,856.1 996.5,856.2 997.0,856.5 997.6,856.4 998.2,856.3 998.8,856.2 999.4,856.2 1000.0,856.3 1000.6,856.3 1001.2,856.2 1001.8,856.2 1002.4,856.1 1003.0,856.2 1003.6,856.2 1004.1,856.3 1004.7,856.5 1005.3,856.4 1005.9,856.3 1006.5,856.3 1007.1,856.2 1007.7,856.6 1008.3,856.9 1008.9,857.0 1009.5,857.0 1010.1,856.9 1010.7,857.0 1011.2,857.1 1011.8,857.2 1012.4,857.1 1013.0,857.1 1013.6,857.0 1014.2,857.0 1014.8,856.7 1015.4,856.6 1016.0,856.7 1016.6,856.4 1017.2,856.1 1017.8,855.8 1018.3,855.6 1018.9,855.6 1019.5,855.3 1020.1,855.3 1020.7,855.1 1021.3,855.3 1021.9,855.2 1022.5,855.1 1023.1,855.3 1023.7,855.4 1024.3,855.5 1024.9,855.3 1025.4,855.3 1026.0,855.6 1026.6,855.6 1027.2,855.6 1027.8,855.7 1028.4,855.6 1029.0,855.5 1029.6,855.7 1030.2,855.9 1030.8,855.9 1031.4,856.0 1032.0,856.1 1032.5,856.2 1033.1,856.2 1033.7,856.5 1034.3,856.6 1034.9,856.7 1035.5,856.9 1036.1,857.2 1036.7,857.3 1037.3,857.5 1037.9,857.3 1038.5,857.1 1039.1,856.9 1039.6,856.8 1040.2,856.7 1040.8,856.6 1041.4,856.5 1042.0,856.7 1042.6,856.5 1043.2,856.8 1043.8,856.8 1044.4,856.5 1045.0,856.2 1045.6,856.2 1046.2,856.1 1046.7,856.4 1047.3,856.5 1047.9,856.5 1048.5,856.6 1049.1,856.6 1049.7,856.8 1050.3,856.9 1050.9,856.7 1051.5,856.8 1052.1,856.5 1052.7,856.3 1053.3,856.4 1053.8,856.3 1054.4,856.2 1055.0,856.3 1055.6,855.9 1056.2,855.9 1056.8,855.9 1057.4,855.8 1058.0,856.0 1058.6,855.8 1059.2,855.9 1059.8,855.7 1060.4,855.6 1060.9,855.7 1061.5,855.8 1062.1,855.8 1062.7,855.8 1063.3,856.0 1063.9,855.9 1064.5,856.4 1065.1,856.5 1065.7,856.4 1066.3,856.6 1066.9,856.4 1067.5,856.2 1068.0,856.2 1068.6,856.4 1069.2,856.5 1069.8,856.6 1070.4,856.5 1071.0,856.5 1071.6,856.8 1072.2,856.7 1072.8,856.6 1073.4,856.6 1074.0,856.5 1074.6,856.7 1075.1,856.6 1075.7,856.4 1076.3,856.7 1076.9,856.6 1077.5,856.9 1078.1,856.8 1078.7,856.8 1079.3,856.8 1079.9,856.9 1080.5,857.1 1081.1,857.0 1081.7,857.1 1082.2,857.1 1082.8,857.0 1083.4,857.1 1084.0,857.0 1084.6,857.3 1085.2,857.2 1085.8,857.2 1086.4,856.7 1087.0,856.7 1087.6,856.6 1088.2,856.6 1088.8,856.7 1089.3,856.6 1089.9,856.5 1090.5,856.8 1091.1,856.5 1091.7,856.4 1092.3,856.2 1092.9,856.2 1093.5,856.0 1094.1,856.0 1094.7,855.8 1095.3,856.1 1095.9,856.3 1096.4,856.1 1097.0,855.9 1097.6,855.7 1098.2,855.3 1098.8,855.3 1099.4,855.0 1100.0,855.0 1100.6,855.1 1101.2,855.2 1101.8,855.4 1102.4,855.7 1103.0,855.9 1103.5,856.4 1104.1,856.4 1104.7,856.2 1105.3,856.5 1105.9,856.5 1106.5,856.6 1107.1,856.7 1107.7,856.6 1108.3,856.7 1108.9,856.7 1109.5,856.6 1110.1,856.7 1110.6,856.7 1111.2,856.6 1111.8,856.6 1112.4,856.6 1113.0,856.8 1113.6,856.9 1114.2,856.7 1114.8,856.9 1115.4,856.9 1116.0,856.8 1116.6,856.8 1117.2,856.7 1117.7,856.7 1118.3,856.7 1118.9,856.4 1119.5,856.8 1120.1,856.6 1120.7,856.5 1121.3,856.5 1121.9,856.3 1122.5,856.5 1123.1,856.6 1123.7,856.7 1124.3,856.5 1124.8,856.4 1125.4,856.5 1126.0,856.5 1126.6,856.4 1127.2,856.5 1127.8,856.7 1128.4,856.4 1129.0,856.4 1129.6,856.5 1130.2,856.4 1130.8,856.3 1131.4,856.3 1131.9,856.5 1132.5,856.3 1133.1,856.3 1133.7,856.5 1134.3,856.6 1134.9,856.2 1135.5,856.1 1136.1,855.8 1136.7,855.8 1137.3,855.7 1137.9,855.6 1138.5,855.6 1139.0,855.7 1139.6,855.9 1140.2,855.8 1140.8,855.8 1141.4,855.9 1142.0,856.2 1142.6,856.2 1143.2,856.3 1143.8,856.5 1144.4,856.6 1145.0,856.9 1145.6,856.6 1146.1,856.6 1146.7,856.7 1147.3,856.7 1147.9,856.6 1148.5,856.7 1149.1,856.8 1149.7,856.6 1150.3,856.7 1150.9,856.8 1151.5,856.9 1152.1,857.1 1152.7,857.1 1153.2,857.0 1153.8,857.0 1154.4,856.9 1155.0,857.1 1155.6,857.0 1156.2,856.6 1156.8,856.6 1157.4,856.7 1158.0,856.5 1158.6,856.5 1159.2,856.5 1159.7,856.5 1160.3,856.3 1160.9,855.9 1161.5,855.8 1162.1,855.9 1162.7,855.8 1163.3,855.8 1163.9,855.8 1164.5,855.9 1165.1,856.2 1165.7,856.4 1166.3,856.3 1166.8,856.6 1167.4,856.7 1168.0,856.7 1168.6,856.5 1169.2,856.7 1169.8,856.7 1170.4,856.9 1171.0,856.9 1171.6,856.9 1172.2,857.2 1172.8,857.1 1173.4,857.1 1173.9,857.0 1174.5,856.9 1175.1,856.7 1175.7,856.3 1176.3,856.4 1176.9,856.4 1177.5,856.5 1178.1,856.2 1178.7,856.3 1179.3,856.3 1179.9,856.8 1180.5,856.9 1181.0,856.7 1181.6,856.8 1182.2,856.8 1182.8,856.8 1183.4,856.7 1184.0,856.9 1184.6,857.1 1185.2,857.3 1185.8,857.1 1186.4,857.2 1187.0,857.4 1187.6,857.5 1188.1,857.7 1188.7,857.2 1189.3,857.0 1189.9,857.2 1190.5,857.2 1191.1,856.8 1191.7,857.0 1192.3,857.1 1192.9,857.0 1193.5,857.0 1194.1,856.5 1194.7,856.7 1195.2,856.9 1195.8,856.8 1196.4,856.7 1197.0,856.6 1197.6,856.6 1198.2,856.7 1198.8,856.8 1199.4,856.6 1200.0,856.7 1200.6,856.7 1201.2,856.5 1201.8,856.3 1202.3,856.3 1202.9,856.5 1203.5,856.5 1204.1,856.2 1204.7,856.6 1205.3,856.5 1205.9,856.2 1206.5,856.4 1207.1,856.5 1207.7,856.3 1208.3,856.5 1208.9,856.5 1209.4,856.2 1210.0,856.3 1210.6,856.3 1211.2,856.4 1211.8,856.4 1212.4,856.4 1213.0,856.3 1213.6,855.9 1214.2,855.9 1214.8,856.2 1215.4,856.1 1216.0,856.0 1216.5,856.1 1217.1,856.1 1217.7,856.4 1218.3,856.6 1218.9,856.8 1219.5,857.1 1220.1,857.2 1220.7,857.3 1221.3,857.1 1221.9,857.5 1222.5,857.5 1223.1,858.0 1223.6,857.9 1224.2,857.9 1224.8,857.8 1225.4,857.5 1226.0,857.3 1226.6,857.0 1227.2,857.0 1227.8,856.7 1228.4,856.7 1229.0,856.2 1229.6,856.2 1230.2,856.3 1230.7,855.9 1231.3,855.8 1231.9,855.6 1232.5,855.5 1233.1,855.4 1233.7,855.8 1234.3,856.0 1234.9,856.2 1235.5,856.3 1236.1,856.1 1236.7,856.3 1237.3,856.2 1237.8,856.6 1238.4,856.6 1239.0,856.5 1239.6,856.8 1240.2,856.8 1240.8,856.7 1241.4,857.0 1242.0,856.9 1242.6,856.9 1243.2,856.9 1243.8,857.0 1244.4,856.9 1244.9,856.9 1245.5,857.0 1246.1,857.1 1246.7,856.9 1247.3,857.0 1247.9,857.1 1248.5,857.0 1249.1,857.1 1249.7,857.0 1250.3,856.8 1250.9,856.8 1251.5,856.7 1252.0,856.7 1252.6,856.6 1253.2,856.6 1253.8,856.8 1254.4,856.7 1255.0,856.5 1255.6,856.5 1256.2,856.5 1256.8,856.5 1257.4,856.5 1258.0,856.5 1258.6,856.6 1259.1,856.7 1259.7,856.8 1260.3,856.7 1260.9,856.4 1261.5,856.4 1262.1,856.9 1262.7,856.9 1263.3,856.9 1263.9,857.1 1264.5,857.2 1265.1,857.2 1265.7,857.3 1266.2,857.2 1266.8,857.1 1267.4,857.2 1268.0,857.0 1268.6,857.0 1269.2,856.9 1269.8,857.2 1270.4,857.1 1271.0,856.8 1271.6,856.7 1272.2,856.4 1272.8,856.3 1273.3,856.3 1273.9,856.2 1274.5,856.3 1275.1,856.2 1275.7,856.3 1276.3,856.4 1276.9,856.8 1277.5,856.7 1278.1,857.2 1278.7,857.2 1279.3,857.3 1279.9,857.2 1280.4,857.1 1281.0,857.3 1281.6,857.2 1282.2,857.2 1282.8,857.0 1283.4,857.2 1284.0,857.3 1284.6,857.0 1285.2,857.0 1285.8,856.6 1286.4,856.7 1287.0,856.4 1287.5,856.1 1288.1,856.1 1288.7,856.1 1289.3,856.3 1289.9,856.0 1290.5,856.4 1291.1,856.6 1291.7,856.6 1292.3,856.3 1292.9,856.4 1293.5,856.6 1294.1,856.6 1294.6,856.6 1295.2,856.5 1295.8,856.6 1296.4,856.8 1297.0,857.0 1297.6,856.6 1298.2,856.5 1298.8,856.7 1299.4,856.7 1300.0,856.8 1300.6,856.9 1301.2,857.2 1301.7,857.0 1302.3,856.9 1302.9,856.9 1303.5,857.1 1304.1,857.3 1304.7,857.1 1305.3,857.3 1305.9,857.2 1306.5,857.9 1307.1,858.1 1307.7,857.9 1308.3,857.8 1308.8,857.5 1309.4,857.4 1310.0,857.3 1310.6,857.4 1311.2,857.4 1311.8,857.4 1312.4,857.5 1313.0,857.4 1313.6,857.4 1314.2,857.4 1314.8,857.2 1315.4,857.2 1315.9,857.0 1316.5,857.0 1317.1,857.0 1317.7,857.2 1318.3,857.2 1318.9,857.2 1319.5,857.2 1320.1,857.3 1320.7,857.1 1321.3,856.9 1321.9,856.8 1322.4,856.7 1323.0,856.9 1323.6,857.1 1324.2,856.7 1324.8,856.8 1325.4,857.2 1326.0,857.2 1326.6,857.0 1327.2,857.0 1327.8,856.9 1328.4,856.9 1329.0,856.9 1329.5,856.9 1330.1,857.2 1330.7,857.2 1331.3,857.5 1331.9,857.4 1332.5,857.3 1333.1,857.4 1333.7,857.3 1334.3,857.0 1334.9,857.0 1335.5,857.3 1336.1,857.3 1336.6,857.2 1337.2,857.2 1337.8,857.1 1338.4,857.2 1339.0,857.0 1339.6,856.9 1340.2,856.7 1340.8,856.5 1341.4,856.4 1342.0,856.3 1342.6,856.5 1343.2,856.8 1343.7,856.7 1344.3,856.5 1344.9,856.7 1345.5,856.6 1346.1,856.4 1346.7,856.6 1347.3,856.5 1347.9,856.7 1348.5,856.8 1349.1,857.0 1349.7,857.2 1350.3,857.2 1350.8,857.5 1351.4,857.4 1352.0,857.3 1352.6,857.3 1353.2,857.5 1353.8,857.3 1354.4,857.4 1355.0,857.7 1355.6,857.4 1356.2,857.6 1356.8,857.3 1357.4,857.0 1357.9,856.8 1358.5,856.4 1359.1,856.3 1359.7,855.8 1360.3,855.4 1360.9,855.0 1361.5,854.6 1362.1,853.9 1362.7,853.7 1363.3,853.2 1363.9,853.9 1364.5,853.1 1365.0,853.1 1365.6,853.7 1366.2,854.3 1366.8,854.9 1367.4,855.4 1368.0,855.7 1368.6,856.0 1369.2,855.8 1369.8,856.0 1370.4,856.4 1371.0,856.4 1371.6,856.6 1372.1,856.8 1372.7,856.8 1373.3,856.9 1373.9,857.0 1374.5,856.4 1375.1,856.2 1375.7,855.6 1376.3,855.2 1376.9,854.8 1377.5,854.4 1378.1,854.3 1378.7,853.9 1379.2,854.0 1379.8,854.2 1380.4,854.3 1381.0,854.8 1381.6,854.9 1382.2,855.2 1382.8,855.1 1383.4,855.4 1384.0,855.5 1384.6,855.5 1385.2,855.5 1385.8,855.4 1386.3,855.5 1386.9,855.6 1387.5,855.7 1388.1,855.8 1388.7,855.6 1389.3,855.8 1389.9,855.5 1390.5,855.7 1391.1,855.9 1391.7,856.1 1392.3,856.3 1392.9,856.3 1393.4,856.3 1394.0,856.5 1394.6,856.6 1395.2,856.5 1395.8,856.5 1396.4,856.6 1397.0,856.5 1397.6,856.7 1398.2,856.7 1398.8,856.8 1399.4,856.9 1400.0,856.6 1400.5,856.5 1401.1,856.4 1401.7,856.5 1402.3,856.7 1402.9,856.7 1403.5,856.8 1404.1,856.8 1404.7,856.8 1405.3,856.7 1405.9,856.5 1406.5,856.6 1407.1,856.8 1407.6,856.9 1408.2,856.8 1408.8,857.1 1409.4,857.0 1410.0,857.1 1410.6,857.1 1411.2,857.0 1411.8,856.9 1412.4,857.0 1413.0,857.3 1413.6,857.4 1414.2,857.5 1414.7,857.3 1415.3,857.4 1415.9,857.1 1416.5,857.2 1417.1,857.2 1417.7,856.8 1418.3,856.9 1418.9,856.8 1419.5,856.8 1420.1,856.7 1420.7,857.0 1421.3,856.9 1421.8,856.6 1422.4,856.6 1423.0,856.6 1423.6,857.0 1424.2,856.9 1424.8,856.9 1425.4,856.8 1426.0,857.0 1426.6,857.1 1427.2,857.3 1427.8,857.6 1428.4,857.4 1428.9,857.5 1429.5,857.3 1430.1,857.3 1430.7,857.3 1431.3,857.3 1431.9,857.2 1432.5,857.2 1433.1,857.1 1433.7,857.2 1434.3,857.3 1434.9,857.2 1435.5,857.3 1436.0,857.1 1436.6,857.0 1437.2,857.3 1437.8,857.4 1438.4,857.2 1439.0,857.5 1439.6,857.3 1440.2,857.4 1440.8,857.4 1441.4,857.4 1442.0,857.5 1442.6,857.3 1443.1,857.2 1443.7,856.7 1444.3,856.6 1444.9,856.5 1445.5,856.3 1446.1,856.2 1446.7,856.2 1447.3,856.3 1447.9,856.0 1448.5,856.0 1449.1,855.9 1449.7,855.9 1450.2,855.8 1450.8,856.0 1451.4,856.1 1452.0,856.1 1452.6,856.3 1453.2,856.3 1453.8,856.5 1454.4,856.7 1455.0,857.0 1455.6,857.0 1456.2,857.1 1456.8,857.3 1457.3,857.3 1457.9,857.3 1458.5,857.3 1459.1,857.4 1459.7,857.4 1460.3,857.4 1460.9,857.4 1461.5,857.8 1462.1,857.8 1462.7,857.8 1463.3,857.8 1463.9,857.2 1464.4,857.0 1465.0,857.2 1465.6,857.0 1466.2,857.0 1466.8,856.8 1467.4,856.8 1468.0,856.8 1468.6,856.8 1469.2,856.7 1469.8,856.6 1470.4,856.3 1471.0,856.2 1471.5,856.3 1472.1,856.2 1472.7,856.4 1473.3,856.5 1473.9,856.3 1474.5,856.5 1475.1,856.5 1475.7,856.6 1476.3,856.7 1476.9,856.6 1477.5,856.6 1478.1,856.8 1478.6,857.0 1479.2,857.0 1479.8,857.0 1480.4,856.9 1481.0,856.6 1481.6,856.7 1482.2,856.7 1482.8,856.6 1483.4,856.5 1484.0,856.3 1484.6,856.4 1485.1,856.4 1485.7,856.3 1486.3,856.0 1486.9,856.1 1487.5,856.1 1488.1,856.1 1488.7,856.5 1489.3,856.6 1489.9,856.9 1490.5,857.1 1491.1,856.9 1491.7,857.2 1492.2,857.2 1492.8,857.7 1493.4,857.5 1494.0,857.4 1494.6,857.5 1495.2,857.7 1495.8,857.8 1496.4,857.7 1497.0,857.7 1497.6,857.5 1498.2,857.5 1498.8,857.5 1499.3,857.4 1499.9,857.6 1500.5,857.2 1501.1,857.0 1501.7,856.9 1502.3,857.2 1502.9,857.3 1503.5,857.5 1504.1,857.5 1504.7,857.3 1505.3,857.3 1505.9,857.6 1506.4,857.3 1507.0,857.2 1507.6,857.3 1508.2,857.3 1508.8,857.3 1509.4,857.6 1510.0,857.7 1510.6,857.9 1511.2,857.6 1511.8,857.5 1512.4,857.2 1513.0,856.9 1513.5,856.8 1514.1,856.9 1514.7,856.5 1515.3,856.8 1515.9,856.8 1516.5,856.5 1517.1,856.4 1517.7,856.2 1518.3,856.1 1518.9,856.0 1519.5,855.8 1520.1,855.7 1520.6,855.6 1521.2,855.7 1521.8,856.1 1522.4,856.1 1523.0,855.9 1523.6,856.1 1524.2,855.9 1524.8,856.0 1525.4,856.3 1526.0,856.4 1526.6,856.5 1527.2,856.6 1527.7,856.9 1528.3,856.7 1528.9,857.1 1529.5,857.2 1530.1,857.1 1530.7,857.0 1531.3,857.1 1531.9,856.9 1532.5,857.1 1533.1,857.1 1533.7,857.1 1534.3,857.1 1534.8,857.0 1535.4,857.1 1536.0,856.9 1536.6,856.9 1537.2,856.9 1537.8,856.6 1538.4,856.7 1539.0,856.8 1539.6,856.8 1540.2,856.8 1540.8,857.1 1541.4,856.8 1541.9,857.0 1542.5,856.8 1543.1,856.6 1543.7,856.7 1544.3,856.5 1544.9,856.7 1545.5,856.5 1546.1,856.7 1546.7,856.7 1547.3,856.7 1547.9,857.1 1548.5,857.1 1549.0,857.2 1549.6,857.1 1550.2,857.0 1550.8,856.7 1551.4,856.9 1552.0,856.8 1552.6,856.8 1553.2,857.0 1553.8,857.1 1554.4,857.3 1555.0,857.2 1555.6,857.2 1556.1,857.1 1556.7,856.7 1557.3,856.7 1557.9,856.5 1558.5,856.5 1559.1,856.7 1559.7,856.9 1560.3,856.8 1560.9,856.9 1561.5,856.7 1562.1,856.7 1562.7,856.3 1563.2,856.0 1563.8,856.0 1564.4,856.0 1565.0,856.2 1565.6,856.5 1566.2,856.3 1566.8,856.6 1567.4,856.7 1568.0,856.7 1568.6,857.0 1569.2,857.0 1569.8,857.0 1570.3,857.2 1570.9,857.2 1571.5,857.5 1572.1,857.7 1572.7,857.9 1573.3,857.9 1573.9,857.7 1574.5,857.4 1575.1,857.5 1575.7,857.4 1576.3,857.1 1576.9,857.1 1577.4,856.9 1578.0,857.0 1578.6,857.1 1579.2,857.0 1579.8,857.1 1580.4,857.2 1581.0,857.2 1581.6,857.1 1582.2,857.1 1582.8,857.1 1583.4,857.4 1584.0,857.6 1584.5,857.7 1585.1,857.8 1585.7,857.8 1586.3,857.8 1586.9,857.9 1587.5,857.9 1588.1,857.9 1588.7,857.8 1589.3,857.4 1589.9,857.4 1590.5,857.4 1591.1,857.2 1591.6,857.2 1592.2,857.1 1592.8,856.7 1593.4,856.6 1594.0,856.7 1594.6,856.5 1595.2,856.5 1595.8,856.3 1596.4,856.5 1597.0,856.4 1597.6,856.4 1598.2,856.7 1598.7,856.6 1599.3,856.6 1599.9,856.5 1600.5,856.4 1601.1,856.2 1601.7,856.2 1602.3,856.4 1602.9,856.4 1603.5,856.5 1604.1,856.4 1604.7,856.4 1605.3,856.1 1605.8,856.2 1606.4,856.1 1607.0,856.0 1607.6,856.2 1608.2,856.1 1608.8,856.4 1609.4,856.6 1610.0,856.7 1610.6,856.8 1611.2,856.7 1611.8,856.6 1612.4,856.7 1612.9,856.7 1613.5,856.8 1614.1,856.8 1614.7,856.7 1615.3,856.8 1615.9,857.0 1616.5,856.9 1617.1,856.9 1617.7,856.8 1618.3,856.7 1618.9,856.7 1619.5,856.7 1620.0,856.9 1620.6,857.1 1621.2,856.9 1621.8,857.1 1622.4,857.2 1623.0,857.4 1623.6,857.4 1624.2,857.6 1624.8,857.1 1625.4,857.2 1626.0,857.2 1626.6,857.3 1627.1,857.2 1627.7,857.2 1628.3,857.1 1628.9,856.9 1629.5,856.8 1630.1,857.2 1630.7,857.0 1631.3,857.0 1631.9,856.7 1632.5,856.7 1633.1,856.6 1633.7,857.0 1634.2,856.9 1634.8,856.9 1635.4,856.8 1636.0,857.0 1636.6,857.0 1637.2,856.9 1637.8,857.0 1638.4,856.8 1639.0,856.6 1639.6,856.7 1640.2,856.7 1640.8,856.8 1641.3,856.8 1641.9,856.9 1642.5,856.7 1643.1,857.0 1643.7,857.3 1644.3,857.4 1644.9,857.2 1645.5,857.3 1646.1,857.6 1646.7,857.1 1647.3,857.4 1647.8,857.4 1648.4,857.4 1649.0,857.2 1649.6,857.3 1650.2,857.1 1650.8,856.8 1651.4,856.7 1652.0,856.6 1652.6,856.3 1653.2,856.3 1653.8,856.5 1654.4,856.6 1654.9,856.3 1655.5,856.7 1656.1,856.7 1656.7,856.5 1657.3,856.6 1657.9,856.9 1658.5,857.0 1659.1,857.2 1659.7,857.1 1660.3,857.3 1660.9,857.4 1661.5,857.5 1662.0,857.6 1662.6,857.4 1663.2,857.5 1663.8,857.7 1664.4,857.5 1665.0,857.4 1665.6,857.7 1666.2,857.5 1666.8,857.4 1667.4,857.4 1668.0,857.5 1668.6,857.6 1669.1,857.5 1669.7,857.2 1670.3,857.3 1670.9,857.5 1671.5,857.4 1672.1,857.4 1672.7,857.3 1673.3,857.3 1673.9,857.0 1674.5,856.8 1675.1,856.5 1675.7,856.7 1676.2,856.9 1676.8,857.0 1677.4,856.7 1678.0,856.6 1678.6,856.6 1679.2,856.3 1679.8,856.3 1680.4,856.2 1681.0,856.1 1681.6,856.0 1682.2,856.3 1682.8,856.6 1683.3,856.5 1683.9,856.6 1684.5,856.4 1685.1,856.1 1685.7,856.0 1686.3,856.5 1686.9,856.5 1687.5,856.6 1688.1,856.9 1688.7,856.8 1689.3,856.9 1689.9,856.9 1690.4,857.1 1691.0,857.0 1691.6,856.9 1692.2,857.0 1692.8,857.3 1693.4,857.3 1694.0,857.3 1694.6,857.2 1695.2,857.2 1695.8,857.0 1696.4,857.1 1697.0,857.0 1697.5,857.1 1698.1,857.0 1698.7,857.2 1699.3,856.9 1699.9,857.0 1700.5,857.1 1701.1,857.1 1701.7,857.1 1702.3,857.0 1702.9,857.0 1703.5,857.1 1704.1,857.0 1704.6,857.3 1705.2,857.2 1705.8,857.1 1706.4,857.2 1707.0,857.2 1707.6,857.1 1708.2,857.2 1708.8,857.1 1709.4,857.0 1710.0,857.0 1710.6,856.8 1711.2,856.7 1711.7,856.8 1712.3,856.7 1712.9,856.9 1713.5,856.5 1714.1,856.7 1714.7,856.8 1715.3,856.5 1715.9,856.7 1716.5,856.5 1717.1,856.5 1717.7,856.4 1718.3,856.4 1718.8,856.4 1719.4,856.5 1720.0,856.6 1720.6,856.5 1721.2,856.3 1721.8,856.2 1722.4,856.3 1723.0,856.3 1723.6,856.1 1724.2,855.9 1724.8,855.8 1725.4,855.8 1725.9,856.0 1726.5,856.0 1727.1,856.0 1727.7,856.0 1728.3,856.2 1728.9,856.2 1729.5,856.3 1730.1,856.4 1730.7,856.4 1731.3,856.5 1731.9,856.4 1732.5,856.7 1733.0,856.9 1733.6,856.7 1734.2,856.9 1734.8,856.8 1735.4,856.9 1736.0,856.9 1736.6,856.9 1737.2,856.7 1737.8,856.7 1738.4,856.6 1739.0,856.5 1739.6,856.5 1740.1,856.4 1740.7,856.3 1741.3,856.4 1741.9,856.4 1742.5,856.5 1743.1,856.4 1743.7,856.6 1744.3,856.6 1744.9,856.5 1745.5,856.6 1746.1,856.8 1746.7,857.0 1747.2,857.0 1747.8,857.1 1748.4,856.8 1749.0,856.9 1749.6,857.2 1750.2,856.8 1750.8,857.0 1751.4,857.1 1752.0,857.0 1752.6,857.0 1753.2,856.9 1753.8,856.9 1754.3,856.7 1754.9,856.4 1755.5,856.2 1756.1,856.2 1756.7,856.3 1757.3,856.7 1757.9,856.6 1758.5,856.4 1759.1,856.7 1759.7,856.7 1760.3,856.8 1760.9,856.9 1761.4,856.9 1762.0,857.0 1762.6,857.0 1763.2,857.2 1763.8,857.3 1764.4,857.5 1765.0,857.5 1765.6,857.5 1766.2,857.2 1766.8,857.3 1767.4,857.3 1768.0,857.4 1768.5,857.2 1769.1,857.3 1769.7,857.2 1770.3,857.4 1770.9,857.4 1771.5,857.3 1772.1,857.3 1772.7,857.2 1773.3,857.3 1773.9,857.1 1774.5,857.2 1775.1,857.2 1775.6,857.4 1776.2,857.5 1776.8,857.4 1777.4,857.1 1778.0,857.0 1778.6,857.1 1779.2,856.7 1779.8,856.5 1780.4,856.7 1781.0,856.9 1781.6,857.0 1782.2,857.0 1782.7,857.2 1783.3,857.1 1783.9,857.2 1784.5,856.9 1785.1,856.9 1785.7,856.9 1786.3,857.0 1786.9,857.2 1787.5,857.1 1788.1,857.3 1788.7,857.3 1789.3,857.3 1789.8,857.3 1790.4,857.1 1791.0,856.9 1791.6,856.6 1792.2,856.7 1792.8,856.6 1793.4,856.7 1794.0,856.5 1794.6,856.5 1795.2,856.7 1795.8,856.6 1796.4,856.7 1796.9,856.5 1797.5,856.6 1798.1,856.6 1798.7,856.4 1799.3,856.7 1799.9,856.7 1800.5,856.8 1801.1,856.8 1801.7,856.7 1802.3,856.6 1802.9,856.5 1803.5,856.5 1804.0,856.4 1804.6,856.4 1805.2,856.3 1805.8,856.3 1806.4,856.3 1807.0,856.3"/>
<polyline fill="none" stroke="#00FF00" stroke-width="5" stroke-linejoin="round" stroke-linecap="butt" shape-rendering="crispEdges" points="180.0,625.5 180.6,625.5 181.2,625.3 181.8,625.3 182.4,625.4 183.0,625.4 183.5,625.3 184.1,625.5 184.7,625.3 185.3,625.6 185.9,625.7 186.5,625.7 187.1,625.8 187.7,625.7 188.3,625.7 188.9,625.5 189.5,625.4 190.1,625.8 190.6,625.8 191.2,625.7 191.8,625.6 192.4,626.0 193.0,625.8 193.6,625.8 194.2,625.6 194.8,625.7 195.4,626.0 196.0,625.8 196.6,625.9 197.2,626.0 197.7,625.9 198.3,626.0 198.9,625.9 199.5,626.1 200.1,626.2 200.7,626.2 201.3,625.9 201.9,626.1 202.5,626.0 203.1,625.9 203.7,625.8 204.3,625.7 204.8,625.7 205.4,625.6 206.0,625.4 206.6,625.5 207.2,625.5 207.8,625.1 208.4,624.8 209.0,624.8 209.6,624.8 210.2,624.8 210.8,624.7 211.4,624.9 211.9,624.9 212.5,625.1 213.1,625.0 213.7,625.2 214.3,625.3 214.9,625.3 215.5,625.3 216.1,625.5 216.7,625.8 217.3,625.8 217.9,626.0 218.5,626.3 219.0,626.4 219.6,626.2 220.2,626.0 220.8,626.2 221.4,626.0 222.0,626.0 222.6,626.1 223.2,626.1 223.8,626.3 224.4,626.3 225.0,626.3 225.6,626.2 226.1,626.2 226.7,626.1 227.3,625.9 227.9,626.1 228.5,626.5 229.1,626.6 229.7,626.6 230.3,626.6 230.9,626.8 231.5,626.8 232.1,626.7 232.7,626.5 233.2,626.5 233.8,626.2 234.4,626.2 235.0,626.3 235.6,626.4 236.2,626.2 236.8,626.2 237.4,625.9 238.0,625.9 238.6,625.7 239.2,625.9 239.8,625.7 240.3,625.6 240.9,625.8 241.5,626.1 242.1,626.3 242.7,626.4 243.3,626.6 243.9,626.7 244.5,626.7 245.1,626.7 245.7,626.7 246.3,626.9 246.9,627.0 247.4,626.9 248.0,626.6 248.6,626.3 249.2,626.2 249.8,625.9 250.4,625.7 251.0,625.5 251.6,625.4 252.2,625.3 252.8,625.2 253.4,624.9 254.0,624.8 254.5,624.6 255.1,624.2 255.7,624.0 256.3,623.6 256.9,623.2 257.5,623.1 258.1,622.4 258.7,621.7 259.3,620.7 259.9,619.4 260.5,617.6 261.1,614.1 261.6,607.9 262.2,596.6 262.8,577.5 263.4,547.9 264.0,509.0 264.6,464.9 265.2,427.6 265.8,412.1 266.4,427.8 267.0,465.1 267.6,509.1 268.2,548.2 268.7,577.4 269.3,596.4 269.9,607.7 270.5,613.8 271.1,617.1 271.7,619.1 272.3,620.5 272.9,621.3 273.5,622.1 274.1,622.7 274.7,623.3 275.3,623.5 275.8,624.2 276.4,624.2 277.0,624.4 277.6,624.8 278.2,624.9 278.8,625.0 279.4,625.2 280.0,625.3 280.6,625.1 281.2,625.2 281.8,625.5 282.4,625.6 282.9,625.5 283.0,624.2 285.2,622.4 286.7,618.0 287.8,610.1 289.0,596.2 289.0,568.2 290.5,561.2 290.6,534.3 291.0,528.8 291.6,530.3 292.8,536.8 294.0,542.4 295.5,546.4 295.6,595.4 296.3,609.4 297.0,611.5 298.0,604.5 299.2,598.5 300.5,597.0 301.9,597.1 302.5,602.6 303.0,612.6 303.8,620.6 305.0,624.1 306.0,625.1 306.0,626.8 306.6,626.6 307.2,626.7 307.8,626.8 308.4,627.0 309.0,627.3 309.6,627.5 310.2,627.4 310.8,627.1 311.3,627.5 311.9,627.6 312.5,627.5 313.1,627.5 313.7,627.7 314.3,627.7 314.9,627.6 315.5,627.6 316.1,627.6 316.7,627.4 317.3,627.1 317.9,626.9 318.4,626.8 319.0,626.7 319.6,626.9 320.2,626.9 320.8,627.1 321.4,627.1 322.0,627.2 322.6,627.2 323.2,627.2 323.8,627.2 324.4,627.4 325.0,627.4 325.5,627.5 326.1,627.8 326.7,627.7 327.3,627.8 327.9,627.9 328.5,627.9 329.1,627.7 329.7,627.3 330.3,627.4 330.9,627.4 331.5,627.5 332.1,627.6 332.6,627.5 333.2,627.4 333.8,627.6 334.4,627.8 335.0,627.9 335.6,627.9 336.2,627.5 336.8,627.5 337.4,627.7 338.0,627.9 338.6,627.9 339.2,628.1 339.7,628.0 340.3,627.8 340.9,627.9 341.5,628.1 342.1,628.0 342.7,627.9 343.3,627.8 343.9,627.8 344.5,628.0 345.1,628.1 345.7,628.1 346.2,627.9 346.8,628.0 347.4,628.3 348.0,628.3 348.6,628.7 349.2,628.9 349.8,628.9 350.4,629.0 351.0,629.0 351.6,629.0 352.2,629.3 352.8,629.1 353.3,629.0 353.9,628.8 354.5,628.6 355.1,628.7 355.7,628.5 356.3,628.2 356.9,628.1 357.5,627.7 358.1,627.5 358.7,627.3 359.3,627.1 359.9,627.0 360.4,627.2 361.0,627.1 361.6,627.0 362.2,627.0 362.8,627.1 363.4,627.5 364.0,627.2 364.6,627.5 365.2,627.7 365.8,627.7 366.4,627.8 367.0,628.1 367.5,628.2 368.1,628.3 368.7,628.4 369.3,628.3 369.9,628.4 370.5,628.4 371.1,628.3 371.7,628.5 372.3,628.1 372.9,628.3 373.5,628.4 374.1,628.5 374.6,628.5 375.2,628.6 375.8,628.6 376.4,628.5 377.0,628.5 377.6,628.5 378.2,628.8 378.8,628.4 379.4,628.5 380.0,628.8 380.6,628.9 381.2,629.1 381.7,629.2 382.3,629.0 382.9,629.1 383.5,629.2 384.1,629.1 384.7,629.0 385.3,629.2 385.9,629.3 386.5,629.4 387.1,629.2 387.7,629.4 388.3,629.4 388.8,629.4 389.4,629.4 390.0,629.5 390.6,629.3 391.2,629.3 391.8,629.1 392.4,628.8 393.0,629.0 393.6,629.1 394.2,629.2 394.8,629.3 395.4,629.2 395.9,629.3 396.5,629.5 397.1,629.2 397.7,629.2 398.3,629.2 398.9,629.1 399.5,629.1 400.1,629.2 400.7,629.0 401.3,629.1 401.9,629.2 402.5,629.2 403.0,628.6 403.6,628.2 404.2,628.3 404.8,628.2 405.4,628.0 406.0,628.1 406.6,628.1 407.2,628.2 407.8,628.2 408.4,628.3 409.0,628.4 409.6,628.8 410.1,628.8 410.7,628.7 411.3,628.6 411.9,629.1 412.5,629.4 413.1,629.8 413.7,629.9 414.3,630.1 414.9,630.0 415.5,630.1 416.1,629.9 416.7,630.0 417.2,630.1 417.8,630.1 418.4,630.0 419.0,629.9 419.6,629.9 420.2,629.3 420.8,627.9 421.4,625.1 422.0,621.1 422.6,618.7 423.2,621.1 423.8,625.1 424.3,627.8 424.9,629.1 425.5,629.5 426.1,629.5 426.7,629.7 427.3,629.5 427.9,629.4 428.5,629.4 429.1,629.5 429.7,629.5 430.3,629.7 430.9,629.6 431.4,629.6 432.0,629.4 432.6,629.3 433.2,629.5 433.8,629.5 434.4,629.1 435.0,629.0 435.6,628.9 436.2,629.0 436.8,629.2 437.4,629.0 438.0,629.2 438.5,629.1 439.1,628.8 439.7,628.7 440.3,628.9 440.9,628.6 441.5,627.8 442.1,625.5 442.7,620.9 443.3,614.8 443.9,611.1 444.5,615.1 445.1,621.2 445.6,625.9 446.2,628.0 446.8,628.5 447.4,628.7 448.0,629.0 448.6,629.1 449.2,628.9 449.8,629.1 450.4,629.0 451.0,629.0 451.6,628.8 452.2,629.0 452.7,628.7 453.3,628.3 453.9,628.5 454.5,628.6 455.1,628.6 455.7,628.7 456.3,628.7 456.9,628.8 457.5,628.9 458.1,628.9 458.7,628.8 459.3,628.9 459.8,628.8 460.4,628.9 461.0,628.5 461.6,628.9 462.2,629.0 462.8,629.1 463.4,628.8 464.0,628.8 464.6,628.8 465.2,628.5 465.8,628.3 466.4,627.7 466.9,626.2 467.5,622.3 468.1,615.6 468.7,609.5 469.0,609.0 469.3,609.9 469.9,616.2 470.5,622.9 471.1,626.3 471.7,627.6 472.3,627.6 472.9,627.1 473.5,626.6 474.0,626.3 474.3,626.0 474.6,626.3 475.2,627.0 475.8,627.7 476.4,628.0 477.0,628.5 477.6,628.8 478.2,629.1 478.8,629.0 479.4,629.0 480.0,629.0 480.6,629.2 481.1,629.2 481.7,629.3 482.3,629.2 482.9,629.3 483.5,629.3 484.1,629.4 484.7,629.7 485.3,629.8 485.9,629.6 486.5,629.6 487.1,629.6 487.7,629.4 488.2,629.7 488.8,629.6 489.4,628.6 490.0,627.0 490.6,624.3 491.2,621.4 491.5,620.5 491.8,621.4 492.4,624.1 493.0,626.7 493.6,628.2 494.2,628.8 494.8,629.0 495.3,629.1 495.9,629.2 496.5,628.8 497.1,629.0 497.7,629.0 498.3,628.6 498.9,628.4 499.5,628.0 500.1,627.2 500.7,624.9 501.3,620.7 501.9,616.9 502.1,616.4 502.4,616.9 503.0,621.0 503.6,625.1 504.2,627.7 504.8,628.9 505.4,629.2 506.0,629.4 506.6,629.8 507.2,629.9 507.8,629.9 508.4,629.9 508.9,629.9 509.5,630.0 510.1,629.8 510.7,629.9 511.3,630.1 511.9,630.1 512.5,630.2 513.1,630.0 513.7,629.9 514.3,629.6 514.9,629.8 515.5,629.9 516.0,629.8 516.6,629.9 517.2,629.8 517.8,629.3 518.4,628.9 519.0,628.5 519.6,628.1 520.2,627.4 520.8,628.0 521.4,628.5 522.0,629.0 522.6,629.3 523.1,629.5 523.7,629.3 524.3,629.3 524.9,629.1 525.5,629.0 526.1,629.0 526.7,629.1 527.3,629.0 527.9,628.7 528.5,628.5 529.1,628.4 529.7,628.4 530.2,628.3 530.8,628.0 531.4,628.1 532.0,628.1 532.6,628.2 533.2,628.1 533.8,628.3 534.4,628.2 535.0,628.3 535.6,628.3 536.2,628.3 536.8,628.4 537.3,628.5 537.9,628.5 538.5,628.4 539.1,628.4 539.7,628.6 540.3,628.7 540.9,629.0 541.5,628.9 542.1,629.4 542.7,629.4 543.3,629.7 543.9,629.6 544.4,629.7 545.0,629.7 545.6,630.0 546.2,630.0 546.8,629.9 547.4,630.1 548.0,630.2 548.6,630.1 549.2,630.2 549.8,629.7 550.4,629.5 551.0,628.5 551.5,627.4 552.1,626.5 552.7,625.4 553.3,626.3 553.9,627.2 554.5,628.2 555.1,629.1 555.7,629.8 556.3,629.6 556.9,628.6 557.5,627.1 558.1,625.0 558.6,623.3 559.2,624.6 559.8,626.7 560.4,628.3 561.0,629.0 561.6,629.3 562.2,629.5 562.8,629.5 563.4,629.8 564.0,629.6 564.6,629.4 565.2,629.3 565.7,629.6 566.3,629.5 566.9,629.4 567.5,629.5 568.1,629.7 568.7,629.7 569.3,629.6 569.9,629.5 570.5,629.6 571.1,629.7 571.7,630.0 572.3,629.6 572.8,629.8 573.4,629.7 574.0,629.8 574.6,630.0 575.2,630.2 575.8,630.2 576.4,630.2 577.0,630.4 577.6,630.6 578.2,630.7 578.8,630.6 579.4,630.7 579.9,630.5 580.5,630.4 581.1,630.5 581.7,630.5 582.3,630.5 582.9,630.4 583.5,630.3 584.1,630.2 584.7,630.0 585.3,629.9 585.9,629.7 586.5,629.8 587.0,629.6 587.6,629.5 588.2,629.3 588.8,629.2 589.4,629.3 590.0,629.3 590.6,629.3 591.2,629.6 591.8,629.6 592.4,629.4 593.0,629.6 593.6,629.7 594.1,630.0 594.7,630.2 595.3,629.9 595.9,630.0 596.5,630.0 597.1,630.0 597.7,630.1 598.3,629.6 598.9,629.2 599.5,628.1 600.1,627.1 600.7,626.2 600.9,626.2 601.2,626.2 601.8,626.9 602.4,627.5 603.0,628.0 603.6,628.7 604.2,629.1 604.8,629.0 605.4,629.0 606.0,628.7 606.6,628.9 607.2,629.1 607.8,629.4 608.3,629.0 608.9,629.2 609.5,629.1 610.1,629.1 610.7,629.2 611.3,629.2 611.9,629.7 612.5,629.4 613.1,629.4 613.7,629.5 614.3,629.7 614.9,629.9 615.4,629.9 616.0,630.0 616.6,630.1 617.2,630.1 617.8,630.1 618.4,630.3 619.0,630.5 619.6,630.5 620.2,630.8 620.8,630.5 621.4,630.8 622.0,630.8 622.5,630.8 623.1,630.6 623.7,630.6 624.3,630.4 624.9,630.2 625.5,630.1 626.1,630.4 626.7,630.4 627.3,630.4 627.9,630.2 628.5,630.2 629.1,630.4 629.6,630.3 630.2,630.0 630.8,629.9 631.4,629.4 632.0,628.4 632.6,626.7 633.2,624.8 633.8,623.2 634.1,622.4 634.4,623.2 635.0,624.5 635.6,626.4 636.2,628.0 636.7,629.0 637.3,629.2 637.9,629.2 638.5,629.3 639.1,629.3 639.7,629.4 640.3,629.4 640.9,629.4 641.5,629.6 642.1,629.5 642.7,629.4 643.3,629.2 643.8,629.3 644.4,629.2 645.0,629.1 645.6,628.5 646.2,627.3 646.8,625.4 647.4,622.7 648.0,619.8 648.6,618.2 649.2,619.5 649.8,622.6 650.4,625.3 650.9,627.4 651.5,628.6 652.1,629.5 652.7,629.9 653.3,629.9 653.9,629.7 654.5,629.6 655.1,629.7 655.7,629.8 656.3,629.8 656.9,629.7 657.5,629.9 658.0,630.0 658.6,629.9 659.2,629.9 659.8,630.0 660.4,630.0 661.0,629.9 661.6,629.4 662.2,629.5 662.8,629.7 663.4,630.0 664.0,630.1 664.6,630.2 665.1,630.1 665.7,630.0 666.3,630.0 666.9,630.4 667.5,630.4 668.1,630.4 668.7,630.4 669.3,630.3 669.9,630.1 670.5,630.6 671.1,630.5 671.6,630.5 672.2,630.1 672.8,630.0 673.4,630.0 674.0,629.9 674.6,629.7 675.2,629.5 675.8,628.9 676.4,628.3 677.0,629.0 677.6,629.1 678.2,629.5 678.7,629.9 679.3,629.9 679.9,629.9 680.5,629.9 681.1,630.2 681.7,630.0 682.3,629.7 682.9,629.6 683.5,629.6 684.1,629.3 684.7,628.9 685.3,628.2 685.8,627.1 686.4,625.9 687.0,625.3 687.6,625.9 688.2,627.0 688.8,628.2 689.4,629.3 690.0,629.7 690.6,629.9 691.2,630.0 691.8,630.1 692.4,629.9 692.9,629.7 693.5,629.6 694.1,629.5 694.7,629.3 695.3,629.5 695.9,629.3 696.5,629.4 697.1,629.4 697.7,629.5 698.3,628.9 698.9,629.0 699.5,629.1 700.0,629.4 700.6,629.3 701.2,629.4 701.8,629.5 702.4,629.7 703.0,629.6 703.6,629.6 704.2,629.5 704.8,629.8 705.4,629.6 706.0,629.4 706.6,629.4 707.1,629.6 707.7,629.1 708.3,628.9 708.9,628.4 709.5,628.2 710.1,627.7 710.7,627.1 711.3,625.5 711.9,621.3 712.5,609.2 713.1,585.0 713.7,558.7 714.0,554.4 714.2,558.4 714.8,584.3 715.4,608.6 716.0,621.2 716.6,625.5 717.2,626.6 717.8,627.1 718.4,627.1 719.0,626.0 719.6,621.8 720.2,612.8 720.8,600.1 721.3,593.8 721.9,600.1 722.5,612.6 723.1,621.8 723.7,626.0 724.3,627.6 724.9,628.1 725.5,628.4 726.1,628.7 726.7,628.6 727.3,628.7 727.9,628.4 728.4,628.4 729.0,627.7 729.6,626.1 730.2,623.3 730.8,619.3 731.4,615.1 732.0,612.4 732.6,614.8 733.2,619.1 733.8,623.1 734.4,625.8 735.0,627.2 735.5,627.7 736.1,627.9 736.7,627.7 737.3,626.2 737.9,621.7 738.5,611.7 739.1,598.3 739.7,591.2 740.3,597.9 740.9,611.2 741.5,621.4 742.1,625.9 742.6,627.5 743.2,628.3 743.8,628.8 744.4,628.8 745.0,628.7 745.6,628.6 746.2,628.5 746.8,628.3 747.4,628.5 748.0,628.0 748.6,627.7 749.2,626.8 749.7,625.9 750.3,623.9 750.9,621.8 751.5,619.6 752.1,618.3 752.4,618.8 752.7,618.3 753.3,619.4 753.9,621.2 754.5,622.7 755.1,623.9 755.7,624.0 756.3,623.2 756.8,621.7 757.4,620.3 758.0,619.3 758.3,619.4 758.6,619.6 759.2,621.1 759.8,622.8 760.4,624.7 761.0,626.4 761.6,627.6 762.2,628.6 762.8,629.2 763.4,629.4 763.9,629.7 764.5,629.8 765.1,630.0 765.7,630.2 766.3,630.2 766.9,630.1 767.5,630.0 768.1,630.0 768.7,630.1 769.3,630.2 769.9,630.3 770.5,630.1 771.0,629.8 771.6,629.8 772.2,629.8 772.8,629.7 773.4,630.0 774.0,629.9 774.6,629.8 775.2,629.8 775.8,630.0 776.4,629.9 777.0,630.2 777.6,630.0 778.1,629.9 778.7,629.8 779.3,629.9 779.9,630.1 780.5,630.0 781.1,630.3 781.7,630.2 782.3,630.2 782.9,630.2 783.5,630.2 784.1,630.2 784.7,630.4 785.2,630.3 785.8,630.0 786.4,630.0 787.0,629.9 787.6,630.0 788.2,630.0 788.8,629.7 789.4,629.6 790.0,628.9 790.6,628.8 791.2,628.1 791.8,627.7 792.3,627.2 792.9,626.9 793.5,626.9 794.1,626.6 794.7,626.6 795.3,626.8 795.9,626.5 796.5,626.0 797.1,625.4 797.7,624.6 798.3,623.9 798.9,623.9 799.4,624.2 800.0,625.2 800.6,626.0 801.2,627.0 801.8,627.6 802.4,628.1 803.0,628.6 803.6,629.3 804.2,629.5 804.8,629.9 805.4,629.8 806.0,629.8 806.5,630.1 807.1,630.3 807.7,630.1 808.3,630.1 808.9,630.0 809.5,630.0 810.1,630.0 810.7,630.2 811.3,630.3 811.9,630.1 812.5,629.9 813.1,629.7 813.6,629.4 814.2,629.2 814.8,628.8 815.4,627.7 816.0,626.4 816.6,625.5 817.2,624.7 817.5,625.1 817.8,625.0 818.4,625.9 819.0,626.8 819.6,627.8 820.2,628.6 820.7,628.9 821.3,629.3 821.9,629.5 822.5,629.5 823.1,629.5 823.7,629.6 824.3,629.6 824.9,629.5 825.5,629.1 826.1,628.2 826.7,627.3 827.3,625.6 827.8,623.4 828.4,621.6 829.0,621.3 829.6,621.7 830.2,623.1 830.8,625.4 831.4,627.1 832.0,628.1 832.6,628.6 833.2,629.1 833.8,629.1 834.3,629.2 834.9,629.2 835.5,629.1 836.1,629.2 836.7,629.6 837.3,629.8 837.9,629.9 838.5,629.8 839.1,629.6 839.7,629.2 840.3,628.6 840.9,628.2 841.4,628.0 842.0,627.6 842.6,627.7 843.2,627.7 843.8,628.1 844.4,628.3 845.0,628.5 845.6,628.8 846.2,629.0 846.8,628.7 847.4,628.8 848.0,629.0 848.5,628.9 849.1,629.1 849.7,629.1 850.3,629.1 850.9,629.2 851.5,629.5 852.1,629.6 852.7,629.6 853.3,629.9 853.9,629.9 854.5,629.9 855.1,629.8 855.6,630.1 856.2,630.2 856.8,630.2 857.4,630.3 858.0,630.2 858.6,630.4 859.2,630.4 859.8,630.5 860.4,630.1 861.0,630.0 861.6,630.3 862.2,630.2 862.7,630.3 863.3,630.2 863.9,630.1 864.5,629.8 865.1,629.7 865.7,629.6 866.3,629.4 866.9,629.3 867.5,629.1 868.1,629.3 868.7,629.2 869.3,629.5 869.8,629.2 870.4,628.9 871.0,628.9 871.6,629.0 872.2,629.3 872.8,629.4 873.4,629.5 874.0,629.8 874.6,630.0 875.2,630.1 875.8,630.4 876.4,630.6 876.9,630.3 877.5,630.2 878.1,630.1 878.7,630.4 879.3,630.4 879.9,630.4 880.5,630.3 881.1,629.9 881.7,629.8 882.3,630.1 882.9,630.0 883.5,630.1 884.0,630.2 884.6,629.9 885.2,629.9 885.8,630.1 886.4,630.3 887.0,630.2 887.6,630.2 888.2,630.1 888.8,629.9 889.4,630.1 890.0,630.4 890.6,630.5 891.1,630.5 891.7,630.3 892.3,629.9 892.9,629.6 893.5,629.7 894.1,629.6 894.7,629.0 895.3,628.5 895.9,627.6 896.5,626.7 897.1,625.8 897.7,625.2 898.0,625.1 898.2,625.0 898.8,625.3 899.4,626.1 900.0,627.1 900.6,627.9 901.2,628.5 901.8,628.9 902.4,629.0 903.0,629.3 903.6,629.4 904.2,629.5 904.8,629.5 905.3,629.7 905.9,629.8 906.5,629.9 907.1,630.0 907.7,630.3 908.3,630.2 908.9,630.1 909.5,630.2 910.1,630.3 910.7,630.1 911.3,630.1 911.9,629.8 912.4,629.5 913.0,629.1 913.6,628.3 914.2,626.8 914.8,624.9 915.4,622.4 916.0,620.3 916.6,619.6 917.2,620.5 917.8,622.8 918.4,625.0 919.0,626.9 919.5,628.4 920.1,629.1 920.7,629.5 921.3,629.6 921.9,629.5 922.5,629.3 923.1,628.8 923.7,627.9 924.3,627.2 924.9,626.4 925.5,625.1 926.1,626.5 926.6,627.1 927.2,628.1 927.8,629.0 928.4,629.6 929.0,630.0 929.6,630.2 930.2,630.3 930.8,630.4 931.4,630.2 932.0,630.2 932.6,630.4 933.2,630.6 933.7,630.4 934.3,630.3 934.9,630.0 935.5,630.3 936.1,630.3 936.7,630.4 937.3,630.2 937.9,630.1 938.5,630.1 939.1,630.3 939.7,630.3 940.3,630.4 940.8,630.2 941.4,630.2 942.0,629.9 942.6,629.9 943.2,630.1 943.8,630.3 944.4,630.3 945.0,630.2 945.6,630.1 946.2,630.5 946.8,630.6 947.4,630.4 947.9,630.5 948.5,630.4 949.1,630.5 949.7,630.6 950.3,630.7 950.9,630.7 951.5,630.9 952.1,631.0 952.7,631.0 953.3,631.1 953.9,631.0 954.5,631.0 955.0,630.8 955.6,630.8 956.2,630.9 956.8,630.5 957.4,630.5 958.0,630.6 958.6,630.6 959.2,630.4 959.8,630.7 960.4,630.6 961.0,630.2 961.6,630.4 962.1,630.2 962.7,630.1 963.3,630.4 963.9,630.3 964.5,630.2 965.1,630.3 965.7,630.6 966.3,630.6 966.9,630.5 967.5,630.6 968.1,630.3 968.7,630.1 969.2,630.3 969.8,630.3 970.4,630.2 971.0,630.4 971.6,630.6 972.2,630.4 972.8,630.6 973.4,630.7 974.0,630.7 974.6,630.6 975.2,630.5 975.8,630.5 976.3,630.3 976.9,630.2 977.5,630.1 978.1,630.0 978.7,629.9 979.3,629.8 979.9,629.6 980.5,629.6 981.1,629.6 981.7,629.4 982.3,629.3 982.9,629.4 983.4,629.5 984.0,629.5 984.6,629.7 985.2,629.6 985.8,629.8 986.4,629.8 987.0,629.7 987.6,629.9 988.2,629.9 988.8,629.8 989.4,629.8 990.0,629.7 990.5,630.0 991.1,629.9 991.7,630.1 992.3,629.8 992.9,629.8 993.5,629.5 994.1,629.8 994.7,629.8 995.3,629.8 995.9,629.9 996.5,629.6 997.0,629.8 997.6,629.9 998.2,630.0 998.8,629.9 999.4,629.8 1000.0,629.9 1000.6,629.7 1001.2,629.8 1001.8,629.9 1002.4,629.9 1003.0,629.7 1003.6,629.5 1004.1,629.7 1004.7,629.8 1005.3,629.9 1005.9,630.0 1006.5,629.9 1007.1,629.8 1007.7,629.8 1008.3,629.8 1008.9,629.6 1009.5,629.6 1010.1,629.5 1010.7,629.5 1011.2,629.7 1011.8,629.6 1012.4,629.8 1013.0,629.6 1013.6,629.4 1014.2,629.5 1014.8,629.7 1015.4,629.7 1016.0,629.8 1016.6,629.8 1017.2,629.8 1017.8,630.0 1018.3,630.2 1018.9,630.1 1019.5,630.0 1020.1,629.9 1020.7,630.1 1021.3,630.1 1021.9,630.1 1022.5,630.2 1023.1,630.3 1023.7,629.8 1024.3,629.5 1024.9,629.5 1025.4,629.5 1026.0,629.4 1026.6,629.2 1027.2,629.0 1027.8,629.0 1028.4,629.1 1029.0,629.2 1029.6,629.2 1030.2,629.5 1030.8,629.6 1031.4,629.7 1032.0,629.5 1032.5,629.7 1033.1,629.9 1033.7,629.8 1034.3,629.6 1034.9,629.7 1035.5,629.9 1036.1,630.2 1036.7,630.4 1037.3,630.2 1037.9,630.0 1038.5,629.8 1039.1,629.6 1039.6,629.6 1040.2,629.4 1040.8,629.8 1041.4,629.8 1042.0,629.7 1042.6,629.7 1043.2,629.9 1043.8,629.8 1044.4,629.8 1045.0,629.7 1045.6,629.7 1046.2,630.0 1046.7,630.3 1047.3,630.6 1047.9,630.6 1048.5,630.5 1049.1,630.7 1049.7,630.5 1050.3,630.6 1050.9,630.5 1051.5,630.7 1052.1,630.6 1052.7,630.7 1053.3,630.7 1053.8,630.5 1054.4,630.4 1055.0,630.5 1055.6,630.4 1056.2,630.2 1056.8,630.2 1057.4,630.3 1058.0,630.4 1058.6,630.3 1059.2,630.1 1059.8,630.3 1060.4,630.1 1060.9,630.2 1061.5,630.0 1062.1,630.0 1062.7,630.1 1063.3,630.2 1063.9,630.1 1064.5,630.0 1065.1,630.0 1065.7,630.2 1066.3,630.1 1066.9,630.1 1067.5,630.0 1068.0,630.4 1068.6,630.4 1069.2,630.6 1069.8,630.6 1070.4,630.7 1071.0,630.8 1071.6,630.6 1072.2,630.5 1072.8,630.5 1073.4,630.4 1074.0,630.6 1074.6,630.6 1075.1,630.5 1075.7,630.1 1076.3,630.3 1076.9,629.9 1077.5,630.0 1078.1,629.9 1078.7,629.6 1079.3,630.0 1079.9,629.9 1080.5,630.1 1081.1,630.0 1081.7,629.8 1082.2,630.1 1082.8,630.0 1083.4,629.9 1084.0,630.1 1084.6,630.3 1085.2,630.4 1085.8,630.6 1086.4,630.5 1087.0,630.4 1087.6,630.5 1088.2,630.1 1088.8,630.2 1089.3,630.3 1089.9,630.3 1090.5,630.3 1091.1,630.2 1091.7,630.1 1092.3,630.2 1092.9,630.0 1093.5,630.2 1094.1,630.0 1094.7,630.1 1095.3,630.2 1095.9,630.4 1096.4,630.4 1097.0,630.3 1097.6,630.2 1098.2,629.9 1098.8,629.9 1099.4,630.1 1100.0,630.0 1100.6,629.8 1101.2,629.3 1101.8,629.3 1102.4,629.2 1103.0,628.8 1103.5,628.9 1104.1,628.8 1104.7,628.7 1105.3,628.8 1105.9,628.9 1106.5,629.3 1107.1,629.8 1107.7,629.8 1108.3,629.8 1108.9,629.9 1109.5,630.1 1110.1,630.1 1110.6,630.0 1111.2,629.9 1111.8,630.0 1112.4,630.2 1113.0,630.4 1113.6,630.6 1114.2,631.1 1114.8,631.1 1115.4,630.9 1116.0,630.8 1116.6,630.8 1117.2,630.6 1117.7,630.6 1118.3,630.4 1118.9,630.4 1119.5,630.5 1120.1,630.6 1120.7,630.4 1121.3,630.3 1121.9,630.1 1122.5,629.9 1123.1,629.5 1123.7,629.6 1124.3,629.7 1124.8,629.7 1125.4,629.6 1126.0,629.5 1126.6,629.7 1127.2,629.8 1127.8,630.0 1128.4,630.1 1129.0,630.0 1129.6,630.2 1130.2,630.2 1130.8,630.4 1131.4,630.6 1131.9,630.7 1132.5,630.6 1133.1,630.5 1133.7,630.5 1134.3,630.6 1134.9,630.6 1135.5,630.5 1136.1,630.6 1136.7,630.5 1137.3,630.1 1137.9,630.0 1138.5,630.0 1139.0,630.0 1139.6,630.0 1140.2,630.0 1140.8,630.0 1141.4,630.2 1142.0,630.3 1142.6,630.3 1143.2,630.5 1143.8,630.8 1144.4,630.8 1145.0,630.7 1145.6,630.9 1146.1,630.7 1146.7,631.0 1147.3,631.0 1147.9,631.1 1148.5,630.9 1149.1,630.8 1149.7,630.8 1150.3,630.7 1150.9,630.5 1151.5,630.3 1152.1,630.3 1152.7,630.0 1153.2,629.9 1153.8,629.8 1154.4,629.9 1155.0,630.3 1155.6,630.0 1156.2,630.0 1156.8,629.9 1157.4,629.9 1158.0,630.1 1158.6,630.3 1159.2,630.2 1159.7,630.4 1160.3,630.6 1160.9,630.6 1161.5,630.6 1162.1,630.6 1162.7,630.8 1163.3,630.9 1163.9,631.0 1164.5,630.9 1165.1,630.9 1165.7,631.1 1166.3,630.9 1166.8,631.0 1167.4,630.8 1168.0,630.8 1168.6,630.7 1169.2,630.7 1169.8,630.5 1170.4,630.4 1171.0,630.3 1171.6,630.3 1172.2,630.0 1172.8,629.5 1173.4,629.5 1173.9,629.5 1174.5,629.3 1175.1,629.4 1175.7,629.4 1176.3,629.1 1176.9,629.3 1177.5,629.5 1178.1,629.5 1178.7,629.5 1179.3,629.4 1179.9,629.7 1180.5,629.7 1181.0,629.8 1181.6,630.0 1182.2,630.3 1182.8,630.3 1183.4,630.5 1184.0,630.5 1184.6,630.4 1185.2,630.6 1185.8,630.4 1186.4,630.3 1187.0,630.4 1187.6,630.5 1188.1,630.7 1188.7,630.5 1189.3,630.5 1189.9,630.4 1190.5,630.2 1191.1,630.0 1191.7,629.9 1192.3,629.7 1192.9,629.9 1193.5,629.9 1194.1,629.8 1194.7,630.1 1195.2,630.1 1195.8,630.1 1196.4,630.1 1197.0,630.0 1197.6,629.7 1198.2,629.8 1198.8,629.7 1199.4,630.3 1200.0,630.5 1200.6,630.8 1201.2,630.8 1201.8,630.7 1202.3,630.7 1202.9,630.7 1203.5,630.5 1204.1,630.6 1204.7,630.7 1205.3,630.8 1205.9,631.1 1206.5,631.3 1207.1,631.0 1207.7,631.2 1208.3,630.9 1208.9,630.8 1209.4,630.6 1210.0,630.6 1210.6,630.5 1211.2,630.7 1211.8,630.6 1212.4,630.7 1213.0,630.6 1213.6,630.3 1214.2,630.1 1214.8,630.0 1215.4,630.1 1216.0,630.1 1216.5,630.0 1217.1,629.9 1217.7,630.1 1218.3,630.1 1218.9,630.3 1219.5,630.2 1220.1,630.0 1220.7,630.0 1221.3,630.0 1221.9,630.0 1222.5,630.0 1223.1,630.1 1223.6,630.1 1224.2,630.2 1224.8,630.4 1225.4,630.6 1226.0,630.8 1226.6,630.4 1227.2,630.4 1227.8,630.4 1228.4,630.5 1229.0,630.5 1229.6,630.6 1230.2,630.4 1230.7,630.4 1231.3,630.7 1231.9,630.6 1232.5,630.3 1233.1,630.3 1233.7,630.2 1234.3,630.1 1234.9,629.8 1235.5,629.9 1236.1,629.9 1236.7,629.9 1237.3,629.9 1237.8,629.8 1238.4,630.0 1239.0,630.3 1239.6,630.4 1240.2,630.2 1240.8,630.3 1241.4,630.2 1242.0,630.4 1242.6,630.4 1243.2,630.3 1243.8,630.3 1244.4,630.4 1244.9,630.3 1245.5,630.3 1246.1,630.1 1246.7,630.3 1247.3,630.1 1247.9,629.9 1248.5,629.8 1249.1,629.7 1249.7,629.7 1250.3,629.9 1250.9,629.7 1251.5,629.7 1252.0,629.8 1252.6,629.8 1253.2,629.8 1253.8,630.0 1254.4,629.5 1255.0,629.7 1255.6,629.7 1256.2,629.7 1256.8,629.8 1257.4,630.1 1258.0,630.2 1258.6,629.9 1259.1,629.9 1259.7,630.1 1260.3,630.2 1260.9,629.9 1261.5,629.8 1262.1,630.0 1262.7,630.1 1263.3,630.6 1263.9,630.4 1264.5,630.4 1265.1,630.3 1265.7,630.3 1266.2,630.3 1266.8,630.2 1267.4,630.4 1268.0,630.6 1268.6,630.3 1269.2,630.3 1269.8,630.4 1270.4,630.3 1271.0,630.2 1271.6,630.1 1272.2,629.9 1272.8,629.9 1273.3,630.0 1273.9,630.1 1274.5,630.0 1275.1,629.8 1275.7,629.6 1276.3,629.6 1276.9,629.6 1277.5,629.8 1278.1,629.9 1278.7,629.9 1279.3,630.0 1279.9,629.9 1280.4,630.1 1281.0,630.1 1281.6,630.4 1282.2,630.1 1282.8,630.3 1283.4,630.5 1284.0,630.4 1284.6,630.7 1285.2,630.7 1285.8,630.7 1286.4,630.6 1287.0,630.5 1287.5,630.4 1288.1,630.4 1288.7,630.7 1289.3,630.6 1289.9,630.6 1290.5,630.5 1291.1,630.7 1291.7,630.3 1292.3,630.2 1292.9,630.4 1293.5,630.3 1294.1,630.2 1294.6,630.3 1295.2,630.5 1295.8,630.4 1296.4,630.2 1297.0,630.2 1297.6,630.2 1298.2,629.9 1298.8,629.9 1299.4,630.1 1300.0,629.9 1300.6,630.2 1301.2,630.2 1301.7,630.2 1302.3,630.1 1302.9,630.2 1303.5,630.0 1304.1,629.8 1304.7,629.8 1305.3,630.2 1305.9,630.1 1306.5,630.1 1307.1,630.1 1307.7,629.9 1308.3,629.6 1308.8,629.5 1309.4,629.5 1310.0,629.7 1310.6,629.5 1311.2,629.6 1311.8,629.3 1312.4,629.4 1313.0,629.3 1313.6,629.4 1314.2,629.3 1314.8,629.2 1315.4,629.3 1315.9,629.4 1316.5,629.7 1317.1,629.8 1317.7,630.2 1318.3,629.8 1318.9,629.6 1319.5,629.5 1320.1,629.4 1320.7,629.7 1321.3,629.8 1321.9,629.8 1322.4,629.6 1323.0,629.4 1323.6,629.5 1324.2,629.2 1324.8,629.3 1325.4,629.1 1326.0,629.0 1326.6,628.9 1327.2,629.1 1327.8,629.0 1328.4,629.2 1329.0,629.0 1329.5,629.1 1330.1,628.9 1330.7,629.0 1331.3,629.4 1331.9,629.7 1332.5,629.8 1333.1,629.9 1333.7,630.0 1334.3,630.1 1334.9,630.1 1335.5,630.0 1336.1,629.9 1336.6,630.0 1337.2,630.2 1337.8,630.3 1338.4,630.2 1339.0,630.0 1339.6,629.9 1340.2,629.6 1340.8,629.5 1341.4,629.4 1342.0,629.4 1342.6,629.2 1343.2,629.6 1343.7,629.6 1344.3,629.7 1344.9,630.0 1345.5,629.9 1346.1,629.8 1346.7,629.6 1347.3,629.8 1347.9,629.9 1348.5,630.3 1349.1,630.2 1349.7,630.4 1350.3,630.2 1350.8,630.2 1351.4,630.2 1352.0,629.9 1352.6,629.9 1353.2,629.9 1353.8,630.0 1354.4,630.0 1355.0,630.0 1355.6,630.3 1356.2,630.3 1356.8,630.3 1357.4,630.0 1357.9,630.1 1358.5,629.7 1359.1,629.5 1359.7,629.4 1360.3,629.4 1360.9,629.2 1361.5,628.7 1362.1,628.1 1362.7,627.6 1363.3,627.1 1363.9,627.5 1364.5,627.7 1365.0,627.7 1365.6,628.2 1366.2,628.8 1366.8,629.1 1367.4,629.6 1368.0,629.8 1368.6,630.0 1369.2,629.9 1369.8,630.0 1370.4,630.0 1371.0,629.9 1371.6,630.1 1372.1,629.8 1372.7,629.8 1373.3,629.3 1373.9,629.3 1374.5,628.9 1375.1,628.2 1375.7,627.7 1376.3,627.3 1376.9,626.7 1377.5,626.8 1378.1,627.1 1378.7,626.2 1379.2,626.4 1379.8,626.6 1380.4,626.9 1381.0,627.5 1381.6,628.1 1382.2,628.5 1382.8,628.6 1383.4,628.8 1384.0,629.0 1384.6,629.4 1385.2,629.2 1385.8,629.4 1386.3,629.2 1386.9,629.1 1387.5,629.2 1388.1,629.4 1388.7,629.3 1389.3,629.4 1389.9,629.4 1390.5,629.1 1391.1,629.1 1391.7,629.3 1392.3,629.4 1392.9,629.3 1393.4,628.8 1394.0,629.2 1394.6,629.2 1395.2,629.3 1395.8,629.5 1396.4,629.7 1397.0,629.9 1397.6,630.0 1398.2,630.0 1398.8,629.8 1399.4,629.9 1400.0,630.1 1400.5,630.0 1401.1,630.1 1401.7,630.2 1402.3,630.2 1402.9,629.8 1403.5,629.9 1404.1,629.7 1404.7,629.7 1405.3,629.6 1405.9,629.6 1406.5,630.0 1407.1,629.9 1407.6,629.8 1408.2,629.7 1408.8,629.7 1409.4,629.6 1410.0,629.4 1410.6,629.2 1411.2,629.5 1411.8,629.7 1412.4,629.7 1413.0,629.8 1413.6,629.7 1414.2,629.6 1414.7,629.6 1415.3,629.2 1415.9,629.5 1416.5,629.9 1417.1,630.0 1417.7,630.0 1418.3,630.3 1418.9,630.3 1419.5,630.5 1420.1,630.5 1420.7,630.4 1421.3,630.4 1421.8,630.6 1422.4,630.8 1423.0,630.7 1423.6,630.6 1424.2,630.6 1424.8,630.7 1425.4,630.7 1426.0,630.7 1426.6,630.5 1427.2,630.3 1427.8,630.2 1428.4,629.9 1428.9,630.1 1429.5,630.1 1430.1,630.2 1430.7,630.1 1431.3,629.8 1431.9,629.9 1432.5,630.0 1433.1,630.0 1433.7,630.0 1434.3,629.7 1434.9,629.8 1435.5,629.9 1436.0,629.9 1436.6,630.2 1437.2,630.3 1437.8,630.3 1438.4,630.4 1439.0,630.4 1439.6,630.3 1440.2,630.5 1440.8,630.4 1441.4,630.4 1442.0,630.4 1442.6,630.4 1443.1,630.6 1443.7,630.7 1444.3,630.8 1444.9,630.7 1445.5,630.6 1446.1,630.9 1446.7,630.8 1447.3,630.6 1447.9,630.8 1448.5,630.8 1449.1,630.7 1449.7,631.0 1450.2,631.0 1450.8,631.0 1451.4,630.8 1452.0,630.8 1452.6,631.0 1453.2,630.8 1453.8,630.7 1454.4,630.7 1455.0,630.7 1455.6,630.7 1456.2,630.7 1456.8,630.6 1457.3,630.5 1457.9,630.6 1458.5,630.3 1459.1,630.1 1459.7,630.2 1460.3,630.3 1460.9,630.3 1461.5,630.1 1462.1,630.2 1462.7,630.2 1463.3,630.1 1463.9,630.0 1464.4,630.0 1465.0,630.1 1465.6,630.2 1466.2,630.1 1466.8,630.0 1467.4,630.1 1468.0,630.2 1468.6,630.3 1469.2,630.3 1469.8,630.4 1470.4,630.2 1471.0,630.2 1471.5,630.2 1472.1,630.4 1472.7,630.3 1473.3,630.3 1473.9,630.2 1474.5,629.9 1475.1,630.1 1475.7,630.2 1476.3,630.4 1476.9,630.6 1477.5,630.2 1478.1,630.2 1478.6,630.3 1479.2,630.4 1479.8,630.4 1480.4,630.4 1481.0,630.3 1481.6,630.5 1482.2,630.5 1482.8,630.5 1483.4,630.5 1484.0,630.5 1484.6,630.2 1485.1,630.0 1485.7,629.8 1486.3,629.8 1486.9,629.7 1487.5,629.7 1488.1,629.8 1488.7,629.7 1489.3,629.7 1489.9,629.7 1490.5,629.6 1491.1,629.6 1491.7,629.2 1492.2,629.3 1492.8,629.5 1493.4,629.9 1494.0,630.0 1494.6,630.0 1495.2,630.4 1495.8,630.1 1496.4,630.2 1497.0,629.9 1497.6,630.0 1498.2,630.0 1498.8,630.2 1499.3,630.1 1499.9,630.2 1500.5,630.3 1501.1,630.6 1501.7,630.2 1502.3,630.1 1502.9,630.1 1503.5,630.3 1504.1,630.0 1504.7,630.0 1505.3,630.0 1505.9,630.2 1506.4,630.2 1507.0,630.2 1507.6,630.2 1508.2,630.3 1508.8,630.2 1509.4,630.3 1510.0,629.9 1510.6,629.8 1511.2,630.2 1511.8,630.1 1512.4,629.9 1513.0,630.2 1513.5,630.4 1514.1,630.2 1514.7,630.2 1515.3,630.1 1515.9,630.0 1516.5,629.9 1517.1,629.9 1517.7,630.1 1518.3,630.1 1518.9,630.3 1519.5,630.6 1520.1,630.2 1520.6,630.3 1521.2,630.3 1521.8,630.4 1522.4,630.5 1523.0,630.7 1523.6,630.7 1524.2,630.7 1524.8,630.9 1525.4,630.8 1526.0,630.6 1526.6,630.4 1527.2,630.4 1527.7,630.3 1528.3,630.2 1528.9,630.3 1529.5,630.4 1530.1,630.4 1530.7,630.2 1531.3,629.8 1531.9,629.8 1532.5,629.7 1533.1,629.8 1533.7,629.9 1534.3,629.8 1534.8,629.8 1535.4,629.9 1536.0,630.2 1536.6,630.3 1537.2,630.2 1537.8,630.2 1538.4,629.9 1539.0,629.9 1539.6,629.8 1540.2,630.2 1540.8,629.9 1541.4,629.8 1541.9,629.6 1542.5,629.4 1543.1,629.5 1543.7,630.1 1544.3,630.2 1544.9,629.9 1545.5,629.8 1546.1,630.0 1546.7,629.9 1547.3,630.1 1547.9,630.4 1548.5,630.6 1549.0,630.6 1549.6,630.7 1550.2,630.9 1550.8,630.9 1551.4,631.0 1552.0,630.9 1552.6,630.7 1553.2,630.5 1553.8,630.5 1554.4,630.5 1555.0,630.2 1555.6,630.4 1556.1,630.5 1556.7,630.2 1557.3,629.9 1557.9,629.9 1558.5,630.0 1559.1,630.2 1559.7,630.3 1560.3,630.4 1560.9,630.6 1561.5,630.5 1562.1,630.4 1562.7,630.3 1563.2,630.3 1563.8,630.5 1564.4,630.3 1565.0,630.2 1565.6,630.3 1566.2,630.3 1566.8,630.1 1567.4,630.2 1568.0,630.0 1568.6,630.0 1569.2,630.1 1569.8,629.9 1570.3,630.0 1570.9,630.5 1571.5,630.7 1572.1,630.7 1572.7,630.8 1573.3,631.1 1573.9,631.0 1574.5,630.9 1575.1,631.1 1575.7,631.2 1576.3,631.1 1576.9,630.9 1577.4,631.1 1578.0,630.9 1578.6,630.8 1579.2,630.8 1579.8,630.8 1580.4,630.6 1581.0,630.7 1581.6,630.6 1582.2,630.3 1582.8,630.4 1583.4,630.4 1584.0,630.3 1584.5,630.2 1585.1,630.4 1585.7,630.5 1586.3,630.2 1586.9,630.3 1587.5,630.2 1588.1,630.3 1588.7,629.9 1589.3,629.9 1589.9,629.8 1590.5,629.8 1591.1,629.9 1591.6,629.9 1592.2,630.1 1592.8,629.9 1593.4,629.9 1594.0,629.7 1594.6,629.6 1595.2,629.7 1595.8,629.7 1596.4,629.7 1597.0,629.4 1597.6,629.5 1598.2,629.6 1598.7,629.6 1599.3,629.7 1599.9,629.6 1600.5,629.6 1601.1,629.7 1601.7,629.9 1602.3,630.1 1602.9,630.1 1603.5,630.2 1604.1,630.3 1604.7,630.2 1605.3,630.5 1605.8,630.5 1606.4,630.5 1607.0,630.4 1607.6,630.3 1608.2,630.4 1608.8,630.5 1609.4,630.7 1610.0,630.5 1610.6,630.5 1611.2,630.4 1611.8,630.4 1612.4,630.5 1612.9,630.4 1613.5,630.6 1614.1,630.5 1614.7,630.8 1615.3,630.8 1615.9,630.9 1616.5,631.0 1617.1,630.7 1617.7,630.7 1618.3,630.5 1618.9,630.5 1619.5,630.2 1620.0,630.5 1620.6,630.4 1621.2,630.2 1621.8,630.6 1622.4,630.4 1623.0,630.3 1623.6,630.2 1624.2,630.1 1624.8,629.8 1625.4,629.7 1626.0,630.0 1626.6,630.1 1627.1,630.1 1627.7,630.3 1628.3,630.4 1628.9,630.3 1629.5,630.0 1630.1,630.0 1630.7,629.5 1631.3,629.6 1631.9,629.6 1632.5,629.7 1633.1,629.8 1633.7,630.4 1634.2,630.4 1634.8,630.2 1635.4,630.0 1636.0,630.1 1636.6,629.8 1637.2,629.9 1637.8,630.0 1638.4,630.0 1639.0,630.4 1639.6,630.5 1640.2,630.5 1640.8,630.6 1641.3,630.5 1641.9,630.4 1642.5,630.1 1643.1,630.1 1643.7,630.0 1644.3,630.1 1644.9,630.2 1645.5,630.3 1646.1,630.1 1646.7,630.1 1647.3,630.5 1647.8,630.1 1648.4,630.2 1649.0,630.2 1649.6,630.1 1650.2,629.9 1650.8,630.1 1651.4,630.3 1652.0,630.1 1652.6,630.0 1653.2,629.8 1653.8,629.4 1654.4,629.4 1654.9,629.5 1655.5,629.4 1656.1,629.1 1656.7,629.1 1657.3,629.1 1657.9,628.9 1658.5,628.9 1659.1,629.1 1659.7,628.8 1660.3,628.8 1660.9,629.2 1661.5,629.4 1662.0,629.5 1662.6,629.9 1663.2,630.0 1663.8,630.0 1664.4,630.1 1665.0,630.1 1665.6,630.3 1666.2,630.0 1666.8,630.1 1667.4,630.3 1668.0,630.2 1668.6,630.4 1669.1,630.4 1669.7,630.3 1670.3,630.4 1670.9,630.5 1671.5,630.3 1672.1,630.3 1672.7,630.4 1673.3,630.4 1673.9,630.5 1674.5,630.4 1675.1,630.6 1675.7,630.7 1676.2,630.4 1676.8,630.5 1677.4,630.4 1678.0,630.4 1678.6,630.4 1679.2,630.4 1679.8,630.3 1680.4,630.1 1681.0,630.1 1681.6,630.2 1682.2,630.1 1682.8,629.9 1683.3,629.8 1683.9,630.0 1684.5,630.1 1685.1,630.2 1685.7,630.3 1686.3,630.2 1686.9,630.2 1687.5,630.0 1688.1,629.9 1688.7,629.9 1689.3,630.2 1689.9,630.2 1690.4,630.0 1691.0,630.2 1691.6,630.2 1692.2,630.3 1692.8,630.5 1693.4,630.2 1694.0,630.2 1694.6,630.0 1695.2,630.1 1695.8,630.0 1696.4,630.1 1697.0,630.4 1697.5,630.4 1698.1,630.3 1698.7,630.1 1699.3,630.3 1699.9,630.2 1700.5,630.4 1701.1,630.5 1701.7,630.1 1702.3,630.0 1702.9,630.1 1703.5,630.1 1704.1,630.1 1704.6,630.4 1705.2,630.4 1705.8,630.2 1706.4,630.3 1707.0,630.3 1707.6,630.4 1708.2,630.2 1708.8,630.3 1709.4,630.4 1710.0,630.2 1710.6,630.4 1711.2,630.8 1711.7,630.8 1712.3,630.7 1712.9,630.6 1713.5,630.1 1714.1,630.2 1714.7,630.0 1715.3,630.2 1715.9,630.2 1716.5,630.2 1717.1,630.3 1717.7,630.2 1718.3,630.2 1718.8,630.2 1719.4,630.4 1720.0,630.1 1720.6,630.0 1721.2,629.8 1721.8,630.1 1722.4,630.2 1723.0,630.1 1723.6,630.3 1724.2,630.2 1724.8,629.9 1725.4,629.9 1725.9,629.6 1726.5,629.8 1727.1,629.7 1727.7,629.7 1728.3,629.6 1728.9,629.7 1729.5,629.8 1730.1,629.9 1730.7,629.7 1731.3,629.7 1731.9,629.8 1732.5,629.4 1733.0,629.4 1733.6,629.6 1734.2,629.5 1734.8,629.5 1735.4,629.5 1736.0,629.7 1736.6,629.5 1737.2,629.6 1737.8,629.7 1738.4,629.7 1739.0,629.8 1739.6,629.8 1740.1,629.8 1740.7,629.9 1741.3,630.2 1741.9,630.3 1742.5,630.2 1743.1,630.5 1743.7,630.8 1744.3,630.7 1744.9,630.7 1745.5,631.1 1746.1,630.7 1746.7,630.8 1747.2,630.6 1747.8,630.7 1748.4,630.6 1749.0,630.7 1749.6,630.8 1750.2,630.6 1750.8,630.2 1751.4,630.4 1752.0,630.4 1752.6,630.4 1753.2,630.4 1753.8,630.4 1754.3,630.1 1754.9,630.2 1755.5,630.1 1756.1,630.0 1756.7,630.2 1757.3,630.4 1757.9,630.2 1758.5,630.0 1759.1,630.1 1759.7,630.6 1760.3,630.5 1760.9,630.4 1761.4,630.0 1762.0,629.9 1762.6,629.9 1763.2,629.9 1763.8,629.9 1764.4,629.9 1765.0,629.9 1765.6,629.9 1766.2,629.7 1766.8,630.0 1767.4,630.1 1768.0,630.0 1768.5,629.5 1769.1,629.6 1769.7,629.6 1770.3,629.9 1770.9,630.0 1771.5,630.0 1772.1,630.2 1772.7,630.4 1773.3,630.5 1773.9,630.5 1774.5,630.3 1775.1,630.5 1775.6,630.4 1776.2,630.4 1776.8,630.4 1777.4,630.8 1778.0,630.6 1778.6,630.5 1779.2,630.4 1779.8,630.4 1780.4,630.4 1781.0,630.1 1781.6,629.9 1782.2,629.9 1782.7,630.0 1783.3,629.9 1783.9,629.8 1784.5,629.8 1785.1,629.7 1785.7,630.1 1786.3,629.8 1786.9,630.1 1787.5,630.1 1788.1,630.4 1788.7,630.1 1789.3,629.7 1789.8,629.9 1790.4,629.7 1791.0,629.8 1791.6,630.0 1792.2,629.8 1792.8,629.9 1793.4,629.8 1794.0,629.9 1794.6,629.4 1795.2,629.5 1795.8,629.4 1796.4,629.5 1796.9,629.2 1797.5,629.4 1798.1,629.8 1798.7,629.8 1799.3,630.0 1799.9,629.8 1800.5,629.8 1801.1,629.9 1801.7,629.6 1802.3,629.6 1802.9,629.4 1803.5,629.8 1804.0,629.7 1804.6,629.7 1805.2,629.7 1805.8,629.7 1806.4,629.8 1807.0,629.7"/>
<polyline fill="none" stroke="#FF00FF" stroke-width="5" stroke-linejoin="round" stroke-linecap="butt" shape-rendering="crispEdges" points="180.0,402.8 180.6,402.7 181.2,402.9 181.8,403.1 182.4,403.2 183.0,403.5 183.5,403.2 184.1,403.1 184.7,403.4 185.3,403.3 185.9,403.3 186.5,403.5 187.1,403.7 187.7,403.9 188.3,403.9 188.9,404.1 189.5,404.0 190.1,403.9 190.6,403.6 191.2,403.6 191.8,403.3 192.4,403.7 193.0,403.9 193.6,403.9 194.2,404.0 194.8,404.0 195.4,403.9 196.0,403.5 196.6,403.3 197.2,403.3 197.7,403.1 198.3,403.6 198.9,403.3 199.5,403.4 200.1,403.3 200.7,403.4 201.3,403.3 201.9,403.1 202.5,403.2 203.1,403.1 203.7,403.2 204.3,403.1 204.8,403.2 205.4,403.4 206.0,403.5 206.6,403.7 207.2,403.4 207.8,403.6 208.4,403.5 209.0,403.3 209.6,403.3 210.2,403.2 210.8,403.1 211.4,403.0 211.9,403.1 212.5,402.8 213.1,403.0 213.7,403.3 214.3,403.2 214.9,403.2 215.5,403.1 216.1,403.2 216.7,403.2 217.3,403.3 217.9,403.4 218.5,403.3 219.0,403.5 219.6,403.7 220.2,403.8 220.8,403.6 221.4,403.8 222.0,404.0 222.6,403.8 223.2,403.8 223.8,403.6 224.4,403.5 225.0,403.2 225.6,403.2 226.1,403.3 226.7,403.4 227.3,403.5 227.9,403.5 228.5,403.5 229.1,403.5 229.7,403.5 230.3,403.6 230.9,403.3 231.5,403.1 232.1,403.2 232.7,403.0 233.2,402.9 233.8,403.0 234.4,403.1 235.0,403.2 235.6,403.1 236.2,402.9 236.8,402.8 237.4,402.9 238.0,402.7 238.6,403.0 239.2,402.8 239.8,403.0 240.3,403.3 240.9,403.4 241.5,403.7 242.1,403.8 242.7,403.6 243.3,403.3 243.9,403.1 244.5,403.1 245.1,402.9 245.7,403.0 246.3,402.8 246.9,402.9 247.4,402.6 248.0,402.5 248.6,402.2 249.2,402.1 249.8,402.0 250.4,401.8 251.0,401.5 251.6,401.6 252.2,401.9 252.8,401.9 253.4,401.9 254.0,401.7 254.5,401.3 255.1,401.2 255.7,400.9 256.3,400.9 256.9,400.6 257.5,400.4 258.1,400.1 258.7,399.4 259.3,398.9 259.9,398.3 260.5,396.4 261.1,393.4 261.6,387.8 262.2,377.8 262.8,361.0 263.4,335.3 264.0,300.4 264.6,261.7 265.2,228.3 265.8,214.6 266.4,228.4 267.0,261.2 267.6,299.9 268.2,334.1 268.7,359.8 269.3,376.8 269.9,386.4 270.5,391.9 271.1,395.0 271.7,397.0 272.3,398.3 272.9,399.4 273.5,400.2 274.1,400.9 274.7,401.3 275.3,401.3 275.8,401.5 276.4,401.7 277.0,401.7 277.6,401.9 278.2,402.0 278.8,402.3 279.4,402.3 280.0,402.3 280.6,402.5 281.2,402.4 281.8,402.5 282.4,402.5 282.9,402.3 283.0,401.5 284.5,400.6 286.5,397.3 287.8,391.4 289.5,378.4 289.5,360.4 290.5,348.5 290.6,320.5 291.5,318.2 293.0,318.3 294.5,319.6 295.5,328.6 295.5,360.6 296.8,363.6 296.8,387.6 297.6,389.7 298.6,387.7 299.5,378.7 300.8,375.2 301.8,375.1 302.3,377.7 303.1,385.8 303.5,395.8 304.6,400.8 306.0,402.3 306.0,403.8 306.6,404.2 307.2,404.1 307.8,404.1 308.4,404.1 309.0,404.1 309.6,404.1 310.2,404.1 310.8,404.2 311.3,404.3 311.9,404.5 312.5,404.2 313.1,404.5 313.7,404.3 314.3,404.1 314.9,404.0 315.5,403.8 316.1,403.7 316.7,403.7 317.3,403.7 317.9,403.7 318.4,403.8 319.0,403.8 319.6,403.7 320.2,403.8 320.8,403.7 321.4,403.7 322.0,403.7 322.6,403.6 323.2,403.7 323.8,403.5 324.4,403.6 325.0,403.7 325.5,403.7 326.1,403.8 326.7,404.0 327.3,403.9 327.9,404.1 328.5,404.3 329.1,404.0 329.7,404.2 330.3,404.6 330.9,404.6 331.5,404.8 332.1,404.9 332.6,405.0 333.2,405.0 333.8,404.8 334.4,405.1 335.0,405.0 335.6,405.2 336.2,405.2 336.8,405.1 337.4,405.0 338.0,405.3 338.6,405.3 339.2,404.8 339.7,405.0 340.3,405.0 340.9,404.8 341.5,404.8 342.1,404.8 342.7,405.0 343.3,405.2 343.9,405.2 344.5,404.8 345.1,404.9 345.7,405.0 346.2,405.0 346.8,405.0 347.4,405.0 348.0,405.2 348.6,404.9 349.2,405.0 349.8,405.1 350.4,405.1 351.0,405.4 351.6,405.4 352.2,405.2 352.8,405.2 353.3,405.3 353.9,405.3 354.5,405.3 355.1,405.4 355.7,405.1 356.3,405.1 356.9,405.1 357.5,405.1 358.1,404.9 358.7,404.8 359.3,405.0 359.9,404.9 360.4,404.7 361.0,404.8 361.6,404.5 362.2,404.6 362.8,404.6 363.4,404.5 364.0,404.3 364.6,404.3 365.2,404.6 365.8,404.6 366.4,404.5 367.0,404.7 367.5,404.9 368.1,404.7 368.7,404.5 369.3,404.7 369.9,404.6 370.5,404.9 371.1,404.8 371.7,404.5 372.3,404.5 372.9,404.6 373.5,405.0 374.1,404.6 374.6,404.7 375.2,404.9 375.8,404.7 376.4,404.8 377.0,404.8 377.6,405.0 378.2,404.6 378.8,404.6 379.4,404.7 380.0,404.5 380.6,404.7 381.2,404.8 381.7,404.7 382.3,404.5 382.9,404.6 383.5,404.6 384.1,404.6 384.7,404.7 385.3,404.6 385.9,404.8 386.5,404.9 387.1,404.9 387.7,405.1 388.3,405.0 388.8,405.3 389.4,405.3 390.0,405.4 390.6,405.8 391.2,405.9 391.8,406.1 392.4,406.0 393.0,406.2 393.6,406.4 394.2,406.7 394.8,406.6 395.4,406.5 395.9,406.8 396.5,406.7 397.1,406.7 397.7,406.7 398.3,406.9 398.9,406.8 399.5,406.6 400.1,406.6 400.7,406.5 401.3,406.6 401.9,406.4 402.5,406.3 403.0,405.9 403.6,406.1 404.2,406.2 404.8,405.9 405.4,406.1 406.0,406.3 406.6,406.5 407.2,406.5 407.8,406.4 408.4,406.3 409.0,406.3 409.6,406.3 410.1,406.3 410.7,406.3 411.3,406.5 411.9,406.4 412.5,406.2 413.1,406.1 413.7,406.0 414.3,405.7 414.9,405.4 415.5,405.4 416.1,405.3 416.7,405.3 417.2,405.4 417.8,405.6 418.4,405.3 419.0,405.1 419.6,404.9 420.2,404.6 420.8,403.6 421.4,401.4 422.0,397.9 422.6,396.7 423.2,398.2 423.8,401.4 424.3,403.7 424.9,404.8 425.5,405.1 426.1,405.1 426.7,404.9 427.3,405.2 427.9,405.1 428.5,405.4 429.1,405.3 429.7,405.3 430.3,405.3 430.9,405.5 431.4,405.3 432.0,405.5 432.6,405.6 433.2,405.6 433.8,405.5 434.4,405.4 435.0,405.7 435.6,405.7 436.2,405.7 436.8,405.9 437.4,405.5 438.0,405.6 438.5,405.6 439.1,405.4 439.7,405.5 440.3,405.4 440.9,405.1 441.5,404.3 442.1,401.9 442.7,397.2 443.3,391.2 443.9,387.8 444.5,391.3 445.1,397.5 445.6,402.0 446.2,404.3 446.8,405.2 447.4,405.5 448.0,405.8 448.6,405.8 449.2,405.8 449.8,405.7 450.4,406.0 451.0,406.2 451.6,406.3 452.2,406.1 452.7,406.2 453.3,406.3 453.9,406.4 454.5,406.6 455.1,406.7 455.7,406.8 456.3,406.8 456.9,406.8 457.5,406.8 458.1,407.0 458.7,407.2 459.3,406.9 459.8,406.9 460.4,406.9 461.0,406.8 461.6,406.7 462.2,406.5 462.8,406.6 463.4,406.6 464.0,406.3 464.6,406.1 465.2,405.8 465.8,405.5 466.4,405.1 466.9,403.7 467.5,399.7 468.1,393.5 468.7,386.9 469.0,385.6 469.3,386.9 469.9,393.4 470.5,399.7 471.1,403.2 471.7,404.4 472.3,404.7 472.9,404.3 473.5,403.7 474.0,403.2 474.3,403.1 474.6,403.1 475.2,403.7 475.8,404.2 476.4,404.5 477.0,405.2 477.6,405.5 478.2,405.4 478.8,405.7 479.4,405.7 480.0,405.8 480.6,405.4 481.1,405.2 481.7,405.4 482.3,405.5 482.9,405.4 483.5,405.2 484.1,405.4 484.7,405.3 485.3,405.8 485.9,405.9 486.5,405.8 487.1,405.8 487.7,405.7 488.2,405.6 488.8,405.3 489.4,405.0 490.0,403.7 490.6,401.3 491.2,398.7 491.5,398.0 491.8,398.9 492.4,401.2 493.0,403.8 493.6,404.9 494.2,405.3 494.8,405.4 495.3,405.6 495.9,405.8 496.5,405.9 497.1,405.7 497.7,405.3 498.3,405.4 498.9,405.0 499.5,404.7 500.1,403.9 500.7,401.5 501.3,397.3 501.9,393.0 502.1,392.9 502.4,393.5 503.0,397.7 503.6,401.7 504.2,404.3 504.8,405.1 505.4,405.3 506.0,405.6 506.6,405.8 507.2,406.2 507.8,405.9 508.4,405.7 508.9,405.6 509.5,405.7 510.1,405.8 510.7,405.5 511.3,405.5 511.9,405.5 512.5,405.8 513.1,405.5 513.7,405.5 514.3,405.4 514.9,405.3 515.5,405.2 516.0,405.2 516.6,405.2 517.2,405.0 517.8,404.9 518.4,404.4 519.0,404.3 519.6,404.1 520.2,404.4 520.8,403.8 521.4,404.0 522.0,404.4 522.6,404.9 523.1,405.4 523.7,405.6 524.3,405.5 524.9,405.3 525.5,405.5 526.1,405.9 526.7,405.7 527.3,405.6 527.9,405.6 528.5,405.9 529.1,406.2 529.7,405.9 530.2,405.7 530.8,405.6 531.4,405.5 532.0,405.2 532.6,405.3 533.2,405.4 533.8,405.8 534.4,405.7 535.0,405.6 535.6,405.8 536.2,405.8 536.8,405.6 537.3,405.3 537.9,405.1 538.5,405.2 539.1,405.2 539.7,405.3 540.3,405.4 540.9,405.8 541.5,405.8 542.1,405.7 542.7,405.6 543.3,405.8 543.9,405.8 544.4,406.0 545.0,406.4 545.6,406.6 546.2,406.7 546.8,406.9 547.4,406.9 548.0,407.1 548.6,407.3 549.2,407.4 549.8,406.8 550.4,406.6 551.0,406.0 551.5,405.0 552.1,403.7 552.7,401.9 553.3,403.5 553.9,404.2 554.5,405.5 555.1,405.9 555.7,406.2 556.3,406.1 556.9,405.2 557.5,403.5 558.1,401.5 558.6,400.6 559.2,401.5 559.8,403.4 560.4,404.7 561.0,405.5 561.6,405.8 562.2,406.0 562.8,406.2 563.4,405.9 564.0,405.9 564.6,406.0 565.2,405.9 565.7,406.2 566.3,406.4 566.9,406.2 567.5,406.2 568.1,406.1 568.7,405.9 569.3,405.9 569.9,405.9 570.5,406.0 571.1,405.5 571.7,405.5 572.3,405.4 572.8,405.5 573.4,405.6 574.0,405.6 574.6,405.3 575.2,405.4 575.8,405.5 576.4,405.3 577.0,405.5 577.6,405.6 578.2,405.6 578.8,405.5 579.4,405.4 579.9,405.7 580.5,405.4 581.1,405.4 581.7,405.5 582.3,405.4 582.9,405.5 583.5,405.8 584.1,405.5 584.7,405.4 585.3,405.3 585.9,405.3 586.5,405.3 587.0,405.2 587.6,405.3 588.2,405.1 588.8,405.1 589.4,405.4 590.0,405.5 590.6,405.4 591.2,405.3 591.8,405.4 592.4,405.3 593.0,405.5 593.6,405.8 594.1,406.3 594.7,406.2 595.3,406.4 595.9,406.4 596.5,406.6 597.1,406.6 597.7,406.5 598.3,406.2 598.9,405.7 599.5,404.8 600.1,403.6 600.7,402.6 600.9,402.0 601.2,402.7 601.8,403.3 602.4,404.1 603.0,405.2 603.6,405.5 604.2,406.2 604.8,406.1 605.4,406.1 606.0,406.2 606.6,406.4 607.2,406.4 607.8,406.3 608.3,406.4 608.9,406.1 609.5,406.2 610.1,406.3 610.7,406.4 611.3,406.3 611.9,406.2 612.5,406.3 613.1,406.0 613.7,406.1 614.3,406.1 614.9,405.9 615.4,405.7 616.0,405.9 616.6,405.9 617.2,406.1 617.8,406.4 618.4,406.3 619.0,406.1 619.6,406.1 620.2,406.3 620.8,406.2 621.4,406.1 622.0,405.8 622.5,405.8 623.1,405.9 623.7,405.9 624.3,405.8 624.9,405.9 625.5,406.0 626.1,406.1 626.7,406.0 627.3,405.8 627.9,405.8 628.5,405.8 629.1,405.6 629.6,405.6 630.2,405.7 630.8,405.7 631.4,405.4 632.0,404.6 632.6,403.6 633.2,402.2 633.8,400.9 634.1,400.6 634.4,400.7 635.0,402.0 635.6,403.5 636.2,404.6 636.7,405.5 637.3,406.1 637.9,406.2 638.5,406.1 639.1,406.0 639.7,406.0 640.3,406.0 640.9,405.7 641.5,405.4 642.1,405.4 642.7,405.4 643.3,405.5 643.8,405.4 644.4,405.5 645.0,405.4 645.6,404.6 646.2,403.4 646.8,401.9 647.4,400.1 648.0,398.2 648.6,397.8 649.2,398.2 649.8,400.7 650.4,403.0 650.9,404.3 651.5,405.0 652.1,405.1 652.7,405.0 653.3,405.1 653.9,405.2 654.5,405.5 655.1,405.9 655.7,405.9 656.3,405.9 656.9,405.8 657.5,405.9 658.0,405.8 658.6,405.8 659.2,405.6 659.8,405.8 660.4,406.2 661.0,406.2 661.6,406.4 662.2,406.4 662.8,406.4 663.4,406.5 664.0,406.3 664.6,406.3 665.1,406.2 665.7,406.2 666.3,406.0 666.9,405.9 667.5,405.7 668.1,405.9 668.7,405.7 669.3,405.4 669.9,405.8 670.5,405.7 671.1,405.7 671.6,405.7 672.2,405.6 672.8,405.7 673.4,405.5 674.0,405.1 674.6,404.9 675.2,404.4 675.8,404.0 676.4,404.2 677.0,404.0 677.6,404.4 678.2,405.0 678.7,405.3 679.3,405.8 679.9,406.0 680.5,406.0 681.1,406.0 681.7,405.9 682.3,405.9 682.9,406.0 683.5,405.7 684.1,405.8 684.7,405.7 685.3,405.1 685.8,404.5 686.4,403.8 687.0,403.2 687.6,403.6 688.2,404.2 688.8,404.8 689.4,405.3 690.0,405.6 690.6,405.7 691.2,405.8 691.8,405.7 692.4,405.9 692.9,406.0 693.5,406.1 694.1,406.2 694.7,406.1 695.3,405.8 695.9,405.7 696.5,405.5 697.1,405.4 697.7,405.5 698.3,405.6 698.9,405.6 699.5,405.5 700.0,405.3 700.6,405.5 701.2,405.3 701.8,405.2 702.4,405.0 703.0,404.9 703.6,405.1 704.2,405.2 704.8,405.4 705.4,405.4 706.0,405.4 706.6,405.4 707.1,405.2 707.7,405.4 708.3,405.5 708.9,405.6 709.5,405.1 710.1,404.8 710.7,404.2 711.3,403.1 711.9,399.1 712.5,387.8 713.1,365.6 713.7,341.9 714.0,337.2 714.2,342.2 714.8,365.8 715.4,388.2 716.0,399.1 716.6,402.9 717.2,404.0 717.8,404.4 718.4,404.2 719.0,403.2 719.6,399.3 720.2,391.0 720.8,379.5 721.3,372.8 721.9,379.5 722.5,391.0 723.1,399.4 723.7,403.5 724.3,405.0 724.9,405.6 725.5,405.9 726.1,405.9 726.7,406.1 727.3,406.3 727.9,405.9 728.4,405.8 729.0,405.2 729.6,403.6 730.2,400.5 730.8,396.2 731.4,391.8 732.0,389.3 732.6,391.6 733.2,395.8 733.8,399.9 734.4,402.6 735.0,404.4 735.5,405.1 736.1,405.2 736.7,405.1 737.3,403.6 737.9,399.5 738.5,391.2 739.1,379.7 739.7,372.8 740.3,379.9 740.9,391.2 741.5,399.8 742.1,403.5 742.6,404.8 743.2,405.5 743.8,405.5 744.4,405.5 745.0,405.4 745.6,405.3 746.2,405.4 746.8,405.5 747.4,405.0 748.0,404.8 748.6,404.3 749.2,403.6 749.7,402.4 750.3,400.5 750.9,398.6 751.5,396.7 752.1,395.4 752.4,395.3 752.7,395.1 753.3,396.3 753.9,397.9 754.5,399.4 755.1,400.3 755.7,400.6 756.3,399.7 756.8,398.5 757.4,396.9 758.0,395.7 758.3,395.8 758.6,396.1 759.2,397.4 759.8,399.4 760.4,401.6 761.0,403.1 761.6,404.3 762.2,405.1 762.8,405.7 763.4,406.1 763.9,405.9 764.5,405.9 765.1,405.7 765.7,405.5 766.3,405.9 766.9,405.7 767.5,405.6 768.1,405.7 768.7,405.6 769.3,405.4 769.9,405.7 770.5,405.8 771.0,405.7 771.6,405.7 772.2,405.7 772.8,405.9 773.4,406.1 774.0,406.1 774.6,406.1 775.2,405.8 775.8,405.9 776.4,405.8 777.0,405.8 777.6,405.9 778.1,406.2 778.7,406.0 779.3,406.2 779.9,406.4 780.5,406.1 781.1,406.0 781.7,406.3 782.3,406.3 782.9,406.3 783.5,406.3 784.1,406.4 784.7,406.3 785.2,406.7 785.8,406.6 786.4,406.6 787.0,406.3 787.6,406.4 788.2,406.0 788.8,405.6 789.4,405.9 790.0,405.8 790.6,405.2 791.2,404.9 791.8,404.6 792.3,404.3 792.9,403.8 793.5,403.3 794.1,403.6 794.7,403.8 795.3,403.4 795.9,403.2 796.5,402.9 797.1,402.5 797.7,402.1 798.3,401.3 798.9,400.6 799.4,401.5 800.0,402.3 800.6,403.3 801.2,404.1 801.8,405.1 802.4,405.4 803.0,405.9 803.6,406.1 804.2,406.3 804.8,406.5 805.4,406.2 806.0,406.2 806.5,405.8 807.1,405.8 807.7,405.7 808.3,405.8 808.9,405.6 809.5,405.6 810.1,405.5 810.7,405.6 811.3,405.5 811.9,405.6 812.5,405.3 813.1,405.5 813.6,405.4 814.2,405.4 814.8,405.2 815.4,404.9 816.0,404.0 816.6,403.0 817.2,402.0 817.5,401.7 817.8,401.7 818.4,402.4 819.0,403.3 819.6,404.5 820.2,405.3 820.7,406.0 821.3,406.2 821.9,406.5 822.5,406.5 823.1,406.3 823.7,406.1 824.3,405.7 824.9,405.7 825.5,405.6 826.1,405.2 826.7,404.7 827.3,403.3 827.8,401.7 828.4,400.4 829.0,399.6 829.6,400.3 830.2,401.6 830.8,402.9 831.4,404.0 832.0,404.8 832.6,405.3 833.2,406.0 833.8,406.4 834.3,406.4 834.9,406.3 835.5,406.1 836.1,406.1 836.7,405.8 837.3,405.7 837.9,405.4 838.5,405.0 839.1,404.7 839.7,404.5 840.3,404.2 840.9,403.9 841.4,403.6 842.0,403.3 842.6,404.3 843.2,403.2 843.8,403.6 844.4,404.3 845.0,404.7 845.6,405.3 846.2,405.5 846.8,406.0 847.4,406.5 848.0,406.7 848.5,406.8 849.1,406.7 849.7,406.8 850.3,406.8 850.9,406.5 851.5,406.5 852.1,406.4 852.7,406.5 853.3,406.5 853.9,406.6 854.5,406.4 855.1,406.4 855.6,406.3 856.2,406.2 856.8,406.0 857.4,405.9 858.0,406.1 858.6,405.9 859.2,405.8 859.8,405.9 860.4,406.0 861.0,406.1 861.6,405.8 862.2,405.6 862.7,405.5 863.3,405.6 863.9,405.7 864.5,405.5 865.1,405.4 865.7,405.4 866.3,405.6 866.9,405.6 867.5,405.6 868.1,405.8 868.7,405.8 869.3,405.6 869.8,405.7 870.4,405.8 871.0,405.7 871.6,405.7 872.2,405.6 872.8,405.6 873.4,405.7 874.0,406.0 874.6,406.0 875.2,406.1 875.8,406.1 876.4,406.0 876.9,406.2 877.5,406.1 878.1,406.0 878.7,406.0 879.3,406.1 879.9,406.0 880.5,406.2 881.1,406.1 881.7,406.0 882.3,406.1 882.9,405.9 883.5,406.0 884.0,405.8 884.6,405.6 885.2,405.7 885.8,405.6 886.4,405.7 887.0,405.8 887.6,405.7 888.2,405.7 888.8,405.8 889.4,405.7 890.0,406.0 890.6,406.3 891.1,406.3 891.7,406.4 892.3,406.3 892.9,406.3 893.5,406.6 894.1,406.5 894.7,406.4 895.3,406.4 895.9,406.0 896.5,405.5 897.1,404.7 897.7,404.4 898.0,403.0 898.2,404.2 898.8,404.5 899.4,405.2 900.0,405.5 900.6,406.1 901.2,406.5 901.8,406.6 902.4,406.7 903.0,406.7 903.6,406.3 904.2,406.0 904.8,405.9 905.3,406.0 905.9,405.9 906.5,405.9 907.1,405.9 907.7,405.9 908.3,405.9 908.9,406.1 909.5,406.2 910.1,406.1 910.7,406.2 911.3,405.9 911.9,405.9 912.4,405.7 913.0,405.7 913.6,405.2 914.2,404.1 914.8,402.6 915.4,400.7 916.0,398.9 916.6,397.9 917.2,399.0 917.8,400.6 918.4,402.5 919.0,404.3 919.5,405.3 920.1,406.1 920.7,406.3 921.3,406.2 921.9,406.0 922.5,405.6 923.1,405.3 923.7,404.5 924.3,404.0 924.9,403.7 925.5,403.0 926.1,403.7 926.6,404.2 927.2,404.4 927.8,404.7 928.4,405.2 929.0,405.5 929.6,405.6 930.2,405.9 930.8,406.0 931.4,406.1 932.0,406.1 932.6,406.4 933.2,406.5 933.7,406.3 934.3,406.4 934.9,406.3 935.5,406.4 936.1,406.5 936.7,406.7 937.3,406.7 937.9,406.5 938.5,406.5 939.1,406.6 939.7,406.4 940.3,406.4 940.8,406.4 941.4,406.4 942.0,406.0 942.6,406.1 943.2,405.9 943.8,405.8 944.4,405.6 945.0,405.9 945.6,406.0 946.2,405.9 946.8,406.0 947.4,406.1 947.9,405.9 948.5,406.2 949.1,406.0 949.7,406.1 950.3,406.0 950.9,405.9 951.5,405.8 952.1,405.7 952.7,405.9 953.3,406.0 953.9,405.8 954.5,405.7 955.0,405.8 955.6,405.7 956.2,405.5 956.8,405.4 957.4,405.2 958.0,405.4 958.6,405.7 959.2,405.8 959.8,406.0 960.4,406.3 961.0,406.3 961.6,406.4 962.1,406.4 962.7,406.5 963.3,406.6 963.9,406.6 964.5,406.3 965.1,406.4 965.7,406.5 966.3,406.6 966.9,406.4 967.5,406.3 968.1,406.2 968.7,406.2 969.2,406.3 969.8,406.0 970.4,405.8 971.0,406.0 971.6,406.0 972.2,405.7 972.8,405.9 973.4,406.0 974.0,406.3 974.6,406.5 975.2,406.5 975.8,406.3 976.3,406.4 976.9,406.3 977.5,406.4 978.1,406.4 978.7,406.9 979.3,407.0 979.9,406.7 980.5,406.6 981.1,406.7 981.7,406.5 982.3,406.9 982.9,406.6 983.4,406.5 984.0,406.5 984.6,406.8 985.2,406.7 985.8,406.6 986.4,406.6 987.0,406.5 987.6,406.3 988.2,406.3 988.8,406.3 989.4,406.2 990.0,406.1 990.5,406.1 991.1,406.1 991.7,406.0 992.3,405.9 992.9,405.8 993.5,405.9 994.1,406.0 994.7,406.2 995.3,406.2 995.9,405.9 996.5,405.8 997.0,406.0 997.6,406.3 998.2,406.5 998.8,406.7 999.4,406.7 1000.0,406.6 1000.6,407.0 1001.2,406.9 1001.8,407.0 1002.4,406.8 1003.0,406.8 1003.6,406.8 1004.1,406.7 1004.7,407.0 1005.3,407.5 1005.9,407.2 1006.5,407.1 1007.1,407.2 1007.7,407.1 1008.3,407.3 1008.9,407.2 1009.5,407.2 1010.1,407.3 1010.7,407.3 1011.2,407.3 1011.8,407.3 1012.4,407.3 1013.0,407.3 1013.6,407.1 1014.2,406.7 1014.8,406.9 1015.4,407.0 1016.0,407.0 1016.6,407.2 1017.2,406.9 1017.8,407.0 1018.3,407.1 1018.9,407.0 1019.5,407.1 1020.1,407.0 1020.7,406.9 1021.3,406.9 1021.9,407.0 1022.5,406.9 1023.1,406.9 1023.7,406.7 1024.3,406.6 1024.9,406.6 1025.4,406.5 1026.0,406.6 1026.6,406.5 1027.2,406.3 1027.8,406.6 1028.4,406.4 1029.0,406.6 1029.6,406.7 1030.2,406.5 1030.8,406.6 1031.4,406.7 1032.0,406.9 1032.5,407.0 1033.1,407.0 1033.7,406.9 1034.3,407.0 1034.9,407.0 1035.5,407.1 1036.1,407.1 1036.7,406.9 1037.3,407.2 1037.9,406.8 1038.5,406.9 1039.1,406.8 1039.6,406.9 1040.2,406.7 1040.8,406.7 1041.4,406.8 1042.0,406.8 1042.6,406.9 1043.2,406.8 1043.8,406.6 1044.4,406.3 1045.0,406.2 1045.6,406.3 1046.2,406.2 1046.7,406.5 1047.3,406.2 1047.9,406.4 1048.5,406.2 1049.1,406.6 1049.7,406.3 1050.3,406.3 1050.9,406.4 1051.5,406.3 1052.1,406.2 1052.7,406.2 1053.3,406.4 1053.8,406.5 1054.4,406.6 1055.0,406.4 1055.6,406.5 1056.2,406.3 1056.8,406.3 1057.4,406.3 1058.0,405.9 1058.6,405.9 1059.2,405.7 1059.8,405.9 1060.4,405.8 1060.9,405.9 1061.5,406.0 1062.1,406.0 1062.7,406.1 1063.3,406.0 1063.9,406.0 1064.5,405.9 1065.1,406.2 1065.7,406.0 1066.3,406.0 1066.9,406.1 1067.5,406.2 1068.0,406.4 1068.6,406.0 1069.2,406.2 1069.8,406.1 1070.4,406.0 1071.0,406.1 1071.6,405.9 1072.2,406.0 1072.8,406.0 1073.4,406.3 1074.0,406.3 1074.6,406.5 1075.1,406.7 1075.7,406.9 1076.3,406.9 1076.9,406.8 1077.5,406.8 1078.1,406.7 1078.7,406.8 1079.3,407.0 1079.9,406.8 1080.5,407.0 1081.1,407.0 1081.7,407.1 1082.2,407.0 1082.8,406.9 1083.4,406.9 1084.0,406.7 1084.6,406.6 1085.2,406.7 1085.8,406.7 1086.4,406.9 1087.0,407.1 1087.6,407.0 1088.2,406.8 1088.8,406.7 1089.3,406.8 1089.9,406.7 1090.5,406.6 1091.1,406.7 1091.7,406.7 1092.3,406.5 1092.9,406.4 1093.5,406.4 1094.1,406.3 1094.7,406.3 1095.3,406.1 1095.9,406.2 1096.4,406.0 1097.0,406.0 1097.6,406.2 1098.2,406.1 1098.8,406.0 1099.4,405.9 1100.0,405.6 1100.6,405.4 1101.2,405.5 1101.8,405.3 1102.4,405.2 1103.0,405.2 1103.5,405.1 1104.1,405.2 1104.7,405.2 1105.3,405.5 1105.9,405.6 1106.5,405.7 1107.1,405.8 1107.7,406.1 1108.3,406.0 1108.9,406.2 1109.5,406.4 1110.1,406.4 1110.6,406.3 1111.2,406.2 1111.8,406.2 1112.4,406.0 1113.0,405.9 1113.6,405.9 1114.2,405.7 1114.8,405.7 1115.4,405.9 1116.0,405.8 1116.6,405.7 1117.2,405.7 1117.7,405.6 1118.3,405.7 1118.9,405.6 1119.5,405.7 1120.1,405.6 1120.7,405.7 1121.3,406.1 1121.9,406.3 1122.5,406.3 1123.1,406.5 1123.7,406.6 1124.3,406.6 1124.8,406.7 1125.4,406.8 1126.0,406.7 1126.6,406.7 1127.2,406.7 1127.8,406.7 1128.4,406.6 1129.0,406.9 1129.6,407.2 1130.2,407.0 1130.8,407.1 1131.4,407.1 1131.9,406.9 1132.5,406.5 1133.1,406.5 1133.7,406.3 1134.3,406.1 1134.9,406.4 1135.5,406.4 1136.1,406.4 1136.7,406.3 1137.3,406.3 1137.9,406.1 1138.5,406.0 1139.0,406.0 1139.6,405.9 1140.2,406.2 1140.8,406.4 1141.4,406.8 1142.0,407.0 1142.6,407.1 1143.2,407.2 1143.8,407.0 1144.4,406.9 1145.0,406.7 1145.6,406.9 1146.1,406.8 1146.7,406.9 1147.3,406.8 1147.9,407.0 1148.5,406.8 1149.1,406.8 1149.7,406.7 1150.3,406.7 1150.9,406.5 1151.5,406.5 1152.1,406.5 1152.7,406.6 1153.2,406.7 1153.8,406.8 1154.4,406.8 1155.0,406.9 1155.6,406.9 1156.2,406.9 1156.8,406.8 1157.4,406.7 1158.0,406.6 1158.6,406.8 1159.2,406.8 1159.7,406.7 1160.3,406.5 1160.9,406.4 1161.5,406.4 1162.1,406.4 1162.7,406.5 1163.3,406.5 1163.9,406.5 1164.5,406.5 1165.1,406.4 1165.7,406.2 1166.3,406.4 1166.8,406.4 1167.4,406.3 1168.0,406.0 1168.6,406.0 1169.2,406.0 1169.8,406.2 1170.4,406.2 1171.0,406.2 1171.6,405.8 1172.2,405.8 1172.8,405.9 1173.4,405.8 1173.9,405.9 1174.5,406.1 1175.1,405.8 1175.7,406.0 1176.3,406.1 1176.9,406.2 1177.5,406.3 1178.1,406.3 1178.7,406.2 1179.3,406.3 1179.9,406.3 1180.5,406.5 1181.0,406.7 1181.6,406.7 1182.2,406.7 1182.8,406.7 1183.4,406.8 1184.0,407.0 1184.6,406.7 1185.2,406.5 1185.8,406.5 1186.4,406.6 1187.0,406.8 1187.6,406.8 1188.1,406.8 1188.7,406.7 1189.3,406.9 1189.9,406.9 1190.5,406.8 1191.1,407.1 1191.7,407.1 1192.3,407.0 1192.9,407.0 1193.5,407.1 1194.1,407.2 1194.7,407.4 1195.2,407.3 1195.8,407.1 1196.4,406.9 1197.0,407.0 1197.6,406.9 1198.2,406.8 1198.8,406.8 1199.4,406.9 1200.0,406.8 1200.6,406.8 1201.2,406.8 1201.8,406.9 1202.3,406.8 1202.9,406.9 1203.5,406.8 1204.1,406.7 1204.7,406.8 1205.3,406.9 1205.9,407.1 1206.5,407.4 1207.1,407.4 1207.7,407.2 1208.3,407.1 1208.9,406.8 1209.4,406.9 1210.0,406.9 1210.6,406.9 1211.2,407.1 1211.8,406.9 1212.4,406.8 1213.0,407.1 1213.6,407.1 1214.2,407.0 1214.8,406.3 1215.4,406.2 1216.0,406.1 1216.5,406.1 1217.1,406.1 1217.7,406.2 1218.3,406.0 1218.9,406.1 1219.5,406.1 1220.1,406.0 1220.7,405.9 1221.3,406.0 1221.9,405.8 1222.5,405.8 1223.1,405.9 1223.6,406.5 1224.2,406.5 1224.8,406.5 1225.4,406.7 1226.0,406.8 1226.6,406.8 1227.2,406.7 1227.8,406.6 1228.4,406.5 1229.0,406.6 1229.6,406.6 1230.2,406.6 1230.7,406.5 1231.3,406.7 1231.9,406.7 1232.5,406.6 1233.1,406.5 1233.7,406.5 1234.3,406.4 1234.9,406.3 1235.5,406.4 1236.1,406.4 1236.7,406.1 1237.3,405.9 1237.8,405.7 1238.4,405.8 1239.0,405.8 1239.6,405.9 1240.2,405.6 1240.8,405.3 1241.4,405.1 1242.0,405.2 1242.6,405.2 1243.2,405.1 1243.8,405.0 1244.4,405.0 1244.9,405.3 1245.5,405.5 1246.1,405.6 1246.7,405.6 1247.3,405.6 1247.9,405.7 1248.5,405.7 1249.1,405.6 1249.7,405.7 1250.3,406.0 1250.9,406.0 1251.5,405.8 1252.0,406.1 1252.6,406.2 1253.2,406.2 1253.8,406.0 1254.4,406.0 1255.0,406.1 1255.6,406.2 1256.2,406.3 1256.8,406.3 1257.4,406.1 1258.0,406.4 1258.6,406.7 1259.1,406.7 1259.7,406.5 1260.3,406.6 1260.9,406.5 1261.5,406.6 1262.1,406.5 1262.7,406.6 1263.3,406.7 1263.9,406.7 1264.5,406.9 1265.1,406.9 1265.7,406.9 1266.2,407.2 1266.8,407.2 1267.4,406.9 1268.0,406.6 1268.6,406.7 1269.2,406.8 1269.8,406.7 1270.4,406.7 1271.0,406.5 1271.6,406.4 1272.2,406.3 1272.8,406.2 1273.3,406.0 1273.9,405.7 1274.5,405.7 1275.1,405.6 1275.7,405.5 1276.3,405.7 1276.9,406.0 1277.5,406.0 1278.1,406.1 1278.7,406.2 1279.3,406.1 1279.9,406.1 1280.4,406.1 1281.0,406.4 1281.6,406.5 1282.2,406.4 1282.8,406.5 1283.4,406.5 1284.0,406.4 1284.6,406.1 1285.2,406.0 1285.8,406.1 1286.4,405.9 1287.0,405.9 1287.5,405.7 1288.1,405.6 1288.7,405.7 1289.3,405.8 1289.9,405.8 1290.5,405.7 1291.1,405.9 1291.7,405.7 1292.3,405.5 1292.9,405.6 1293.5,405.9 1294.1,406.1 1294.6,405.9 1295.2,406.1 1295.8,405.9 1296.4,406.1 1297.0,406.5 1297.6,406.4 1298.2,406.4 1298.8,406.2 1299.4,406.3 1300.0,406.3 1300.6,406.5 1301.2,406.6 1301.7,406.5 1302.3,406.5 1302.9,406.6 1303.5,406.6 1304.1,406.8 1304.7,406.9 1305.3,406.9 1305.9,406.7 1306.5,407.0 1307.1,406.8 1307.7,406.7 1308.3,406.7 1308.8,406.6 1309.4,406.6 1310.0,406.9 1310.6,406.8 1311.2,406.6 1311.8,406.2 1312.4,406.3 1313.0,406.2 1313.6,406.2 1314.2,406.3 1314.8,406.2 1315.4,406.2 1315.9,406.5 1316.5,406.6 1317.1,406.7 1317.7,406.8 1318.3,406.8 1318.9,406.5 1319.5,406.7 1320.1,407.0 1320.7,407.2 1321.3,407.3 1321.9,407.3 1322.4,407.2 1323.0,407.1 1323.6,407.0 1324.2,407.0 1324.8,406.9 1325.4,406.9 1326.0,406.9 1326.6,407.0 1327.2,406.9 1327.8,407.0 1328.4,406.9 1329.0,406.6 1329.5,406.6 1330.1,406.6 1330.7,406.6 1331.3,406.7 1331.9,406.9 1332.5,407.0 1333.1,406.8 1333.7,406.6 1334.3,406.7 1334.9,406.6 1335.5,406.4 1336.1,406.5 1336.6,406.6 1337.2,406.6 1337.8,406.6 1338.4,406.6 1339.0,406.5 1339.6,406.2 1340.2,406.0 1340.8,405.9 1341.4,405.9 1342.0,405.9 1342.6,406.1 1343.2,406.0 1343.7,406.3 1344.3,406.3 1344.9,406.3 1345.5,405.9 1346.1,406.2 1346.7,406.5 1347.3,406.5 1347.9,406.6 1348.5,406.8 1349.1,406.8 1349.7,407.0 1350.3,407.0 1350.8,406.9 1351.4,407.0 1352.0,407.2 1352.6,407.0 1353.2,407.1 1353.8,407.3 1354.4,407.3 1355.0,407.2 1355.6,407.1 1356.2,406.9 1356.8,407.0 1357.4,407.0 1357.9,407.0 1358.5,406.6 1359.1,406.4 1359.7,406.3 1360.3,406.0 1360.9,405.5 1361.5,405.0 1362.1,404.7 1362.7,404.4 1363.3,403.5 1363.9,404.3 1364.5,404.6 1365.0,405.0 1365.6,405.1 1366.2,405.2 1366.8,405.6 1367.4,405.9 1368.0,406.0 1368.6,406.1 1369.2,406.1 1369.8,406.1 1370.4,406.4 1371.0,406.4 1371.6,406.3 1372.1,406.2 1372.7,406.1 1373.3,405.7 1373.9,405.6 1374.5,405.2 1375.1,405.1 1375.7,404.5 1376.3,404.2 1376.9,403.9 1377.5,403.6 1378.1,403.5 1378.7,403.1 1379.2,403.3 1379.8,403.6 1380.4,404.2 1381.0,404.7 1381.6,405.0 1382.2,405.5 1382.8,405.7 1383.4,406.3 1384.0,406.8 1384.6,407.1 1385.2,407.0 1385.8,407.0 1386.3,407.1 1386.9,407.4 1387.5,407.5 1388.1,407.6 1388.7,407.8 1389.3,407.5 1389.9,407.7 1390.5,407.9 1391.1,407.7 1391.7,408.1 1392.3,407.8 1392.9,407.4 1393.4,407.0 1394.0,407.3 1394.6,407.4 1395.2,407.3 1395.8,407.3 1396.4,407.3 1397.0,407.2 1397.6,407.1 1398.2,407.1 1398.8,407.1 1399.4,407.0 1400.0,406.9 1400.5,406.5 1401.1,406.6 1401.7,406.3 1402.3,406.4 1402.9,406.2 1403.5,406.2 1404.1,406.4 1404.7,406.4 1405.3,406.6 1405.9,406.4 1406.5,406.4 1407.1,406.5 1407.6,406.3 1408.2,406.3 1408.8,406.3 1409.4,406.4 1410.0,406.0 1410.6,406.3 1411.2,406.2 1411.8,406.1 1412.4,406.1 1413.0,405.9 1413.6,406.0 1414.2,405.8 1414.7,405.7 1415.3,405.6 1415.9,405.5 1416.5,405.5 1417.1,405.3 1417.7,405.2 1418.3,405.3 1418.9,405.9 1419.5,405.6 1420.1,405.8 1420.7,406.0 1421.3,406.0 1421.8,405.9 1422.4,405.7 1423.0,405.8 1423.6,406.0 1424.2,405.7 1424.8,406.0 1425.4,406.0 1426.0,406.1 1426.6,406.3 1427.2,406.4 1427.8,406.3 1428.4,406.4 1428.9,406.2 1429.5,406.2 1430.1,406.1 1430.7,406.1 1431.3,406.2 1431.9,406.3 1432.5,406.2 1433.1,406.6 1433.7,406.4 1434.3,406.8 1434.9,407.0 1435.5,406.9 1436.0,406.6 1436.6,406.3 1437.2,406.5 1437.8,406.7 1438.4,406.9 1439.0,407.0 1439.6,407.2 1440.2,407.2 1440.8,406.9 1441.4,407.1 1442.0,407.0 1442.6,406.9 1443.1,406.6 1443.7,406.4 1444.3,406.3 1444.9,406.5 1445.5,406.6 1446.1,406.6 1446.7,406.4 1447.3,406.0 1447.9,406.1 1448.5,405.9 1449.1,405.9 1449.7,406.3 1450.2,406.0 1450.8,405.9 1451.4,406.0 1452.0,406.2 1452.6,406.2 1453.2,406.2 1453.8,406.6 1454.4,406.7 1455.0,406.4 1455.6,406.9 1456.2,407.1 1456.8,407.2 1457.3,407.3 1457.9,407.3 1458.5,407.0 1459.1,407.2 1459.7,407.3 1460.3,407.2 1460.9,406.9 1461.5,407.0 1462.1,407.1 1462.7,406.7 1463.3,406.7 1463.9,407.1 1464.4,406.9 1465.0,406.7 1465.6,406.7 1466.2,406.7 1466.8,407.1 1467.4,407.1 1468.0,407.0 1468.6,407.0 1469.2,407.0 1469.8,407.3 1470.4,407.4 1471.0,407.4 1471.5,407.4 1472.1,407.4 1472.7,407.2 1473.3,407.2 1473.9,407.1 1474.5,407.1 1475.1,407.0 1475.7,406.7 1476.3,406.7 1476.9,406.8 1477.5,406.7 1478.1,406.7 1478.6,406.5 1479.2,406.5 1479.8,406.4 1480.4,406.5 1481.0,406.2 1481.6,406.1 1482.2,406.2 1482.8,406.5 1483.4,406.5 1484.0,406.5 1484.6,406.5 1485.1,406.6 1485.7,406.5 1486.3,406.6 1486.9,406.8 1487.5,406.5 1488.1,406.5 1488.7,406.4 1489.3,406.4 1489.9,406.6 1490.5,406.8 1491.1,406.7 1491.7,406.3 1492.2,405.9 1492.8,405.8 1493.4,405.9 1494.0,405.8 1494.6,405.9 1495.2,406.0 1495.8,405.9 1496.4,405.9 1497.0,405.9 1497.6,406.1 1498.2,405.9 1498.8,406.1 1499.3,405.8 1499.9,405.8 1500.5,406.1 1501.1,406.3 1501.7,406.5 1502.3,406.3 1502.9,406.5 1503.5,406.5 1504.1,406.6 1504.7,406.5 1505.3,406.8 1505.9,406.6 1506.4,406.7 1507.0,406.8 1507.6,406.7 1508.2,406.8 1508.8,406.7 1509.4,406.8 1510.0,406.8 1510.6,406.8 1511.2,406.8 1511.8,406.7 1512.4,406.7 1513.0,406.5 1513.5,406.6 1514.1,406.5 1514.7,406.7 1515.3,406.6 1515.9,406.6 1516.5,406.4 1517.1,406.4 1517.7,406.6 1518.3,406.5 1518.9,406.7 1519.5,406.7 1520.1,406.8 1520.6,406.8 1521.2,406.8 1521.8,407.0 1522.4,407.0 1523.0,406.8 1523.6,406.7 1524.2,406.5 1524.8,406.3 1525.4,406.7 1526.0,406.8 1526.6,406.8 1527.2,407.0 1527.7,406.9 1528.3,406.8 1528.9,406.9 1529.5,406.7 1530.1,406.7 1530.7,407.0 1531.3,407.0 1531.9,407.0 1532.5,406.9 1533.1,407.1 1533.7,407.3 1534.3,407.0 1534.8,407.0 1535.4,406.7 1536.0,406.6 1536.6,406.6 1537.2,406.7 1537.8,406.4 1538.4,406.4 1539.0,406.4 1539.6,406.2 1540.2,406.1 1540.8,406.0 1541.4,406.0 1541.9,405.9 1542.5,406.1 1543.1,406.3 1543.7,406.2 1544.3,406.2 1544.9,406.1 1545.5,405.9 1546.1,405.9 1546.7,406.0 1547.3,406.1 1547.9,406.0 1548.5,406.3 1549.0,406.6 1549.6,406.9 1550.2,407.0 1550.8,406.9 1551.4,406.6 1552.0,406.3 1552.6,406.5 1553.2,406.6 1553.8,406.5 1554.4,406.7 1555.0,406.6 1555.6,406.7 1556.1,406.7 1556.7,406.8 1557.3,406.5 1557.9,406.4 1558.5,406.4 1559.1,406.5 1559.7,406.7 1560.3,406.9 1560.9,407.1 1561.5,407.0 1562.1,406.8 1562.7,407.0 1563.2,406.8 1563.8,406.9 1564.4,406.7 1565.0,406.6 1565.6,406.4 1566.2,406.0 1566.8,405.9 1567.4,405.5 1568.0,405.5 1568.6,405.4 1569.2,405.1 1569.8,405.2 1570.3,405.0 1570.9,405.0 1571.5,404.9 1572.1,405.1 1572.7,405.0 1573.3,405.2 1573.9,405.1 1574.5,405.4 1575.1,405.6 1575.7,405.5 1576.3,405.5 1576.9,405.5 1577.4,405.6 1578.0,405.8 1578.6,405.7 1579.2,406.0 1579.8,406.0 1580.4,405.9 1581.0,405.9 1581.6,406.1 1582.2,406.4 1582.8,406.4 1583.4,406.4 1584.0,406.7 1584.5,406.8 1585.1,407.0 1585.7,407.2 1586.3,407.2 1586.9,407.4 1587.5,407.4 1588.1,407.3 1588.7,407.4 1589.3,407.7 1589.9,407.7 1590.5,407.4 1591.1,407.2 1591.6,407.2 1592.2,407.1 1592.8,406.9 1593.4,407.1 1594.0,407.2 1594.6,407.1 1595.2,407.0 1595.8,406.9 1596.4,406.8 1597.0,407.1 1597.6,407.0 1598.2,406.9 1598.7,406.9 1599.3,406.9 1599.9,406.7 1600.5,406.6 1601.1,406.7 1601.7,407.0 1602.3,406.8 1602.9,406.8 1603.5,406.7 1604.1,406.6 1604.7,406.5 1605.3,406.4 1605.8,406.2 1606.4,406.2 1607.0,406.0 1607.6,406.3 1608.2,406.5 1608.8,406.6 1609.4,406.7 1610.0,406.3 1610.6,406.1 1611.2,406.1 1611.8,406.1 1612.4,406.3 1612.9,406.3 1613.5,406.5 1614.1,406.7 1614.7,406.8 1615.3,406.8 1615.9,407.0 1616.5,406.7 1617.1,406.7 1617.7,406.9 1618.3,406.7 1618.9,406.8 1619.5,407.0 1620.0,406.8 1620.6,406.8 1621.2,406.6 1621.8,406.8 1622.4,406.8 1623.0,406.8 1623.6,406.9 1624.2,406.8 1624.8,406.9 1625.4,407.0 1626.0,406.9 1626.6,406.7 1627.1,406.7 1627.7,406.7 1628.3,406.8 1628.9,406.9 1629.5,406.8 1630.1,406.8 1630.7,406.7 1631.3,406.5 1631.9,406.5 1632.5,406.4 1633.1,406.4 1633.7,406.2 1634.2,406.3 1634.8,406.3 1635.4,406.4 1636.0,406.6 1636.6,406.6 1637.2,406.4 1637.8,406.4 1638.4,406.7 1639.0,406.6 1639.6,406.7 1640.2,406.8 1640.8,406.7 1641.3,406.6 1641.9,406.6 1642.5,406.6 1643.1,406.3 1643.7,406.4 1644.3,406.5 1644.9,406.6 1645.5,406.6 1646.1,406.5 1646.7,406.7 1647.3,406.6 1647.8,406.7 1648.4,406.3 1649.0,406.2 1649.6,406.2 1650.2,406.3 1650.8,406.3 1651.4,406.3 1652.0,406.3 1652.6,406.3 1653.2,406.0 1653.8,406.1 1654.4,406.4 1654.9,406.6 1655.5,406.5 1656.1,406.5 1656.7,406.5 1657.3,406.7 1657.9,406.7 1658.5,406.8 1659.1,406.9 1659.7,407.0 1660.3,406.9 1660.9,407.2 1661.5,407.1 1662.0,407.3 1662.6,406.9 1663.2,406.6 1663.8,406.4 1664.4,406.5 1665.0,406.4 1665.6,406.7 1666.2,406.7 1666.8,406.4 1667.4,406.4 1668.0,406.4 1668.6,406.3 1669.1,406.2 1669.7,406.0 1670.3,405.8 1670.9,405.9 1671.5,405.9 1672.1,405.8 1672.7,405.8 1673.3,405.5 1673.9,405.6 1674.5,405.3 1675.1,405.5 1675.7,405.9 1676.2,405.8 1676.8,405.8 1677.4,405.8 1678.0,406.0 1678.6,406.0 1679.2,406.3 1679.8,406.4 1680.4,406.5 1681.0,406.4 1681.6,406.6 1682.2,406.6 1682.8,406.6 1683.3,406.6 1683.9,406.4 1684.5,406.4 1685.1,406.5 1685.7,406.3 1686.3,406.2 1686.9,406.0 1687.5,406.2 1688.1,405.8 1688.7,405.8 1689.3,405.9 1689.9,406.3 1690.4,406.3 1691.0,406.6 1691.6,406.6 1692.2,406.9 1692.8,407.0 1693.4,407.2 1694.0,407.1 1694.6,407.3 1695.2,407.4 1695.8,407.4 1696.4,407.2 1697.0,407.3 1697.5,407.4 1698.1,407.2 1698.7,407.0 1699.3,407.1 1699.9,406.9 1700.5,406.9 1701.1,406.6 1701.7,406.7 1702.3,406.4 1702.9,406.3 1703.5,406.5 1704.1,406.4 1704.6,406.4 1705.2,406.8 1705.8,406.7 1706.4,406.5 1707.0,406.7 1707.6,406.6 1708.2,406.5 1708.8,406.7 1709.4,406.3 1710.0,406.5 1710.6,406.5 1711.2,406.5 1711.7,406.7 1712.3,406.4 1712.9,406.6 1713.5,406.8 1714.1,406.7 1714.7,406.8 1715.3,406.9 1715.9,406.7 1716.5,406.6 1717.1,406.8 1717.7,406.5 1718.3,406.9 1718.8,406.8 1719.4,407.0 1720.0,407.0 1720.6,407.0 1721.2,407.1 1721.8,407.2 1722.4,406.9 1723.0,406.8 1723.6,406.7 1724.2,406.5 1724.8,406.8 1725.4,407.0 1725.9,406.6 1726.5,406.8 1727.1,406.6 1727.7,406.7 1728.3,406.5 1728.9,406.4 1729.5,406.3 1730.1,406.3 1730.7,406.3 1731.3,406.4 1731.9,406.3 1732.5,406.6 1733.0,406.8 1733.6,406.9 1734.2,406.8 1734.8,406.8 1735.4,406.5 1736.0,406.5 1736.6,406.6 1737.2,406.6 1737.8,406.8 1738.4,406.8 1739.0,406.7 1739.6,406.6 1740.1,406.5 1740.7,406.3 1741.3,406.0 1741.9,405.9 1742.5,405.7 1743.1,405.6 1743.7,405.9 1744.3,406.2 1744.9,406.0 1745.5,405.9 1746.1,405.7 1746.7,405.7 1747.2,405.7 1747.8,405.8 1748.4,405.9 1749.0,405.9 1749.6,406.1 1750.2,406.1 1750.8,405.9 1751.4,405.9 1752.0,406.0 1752.6,406.1 1753.2,406.2 1753.8,406.4 1754.3,406.3 1754.9,406.1 1755.5,406.2 1756.1,406.1 1756.7,406.3 1757.3,406.1 1757.9,406.4 1758.5,406.5 1759.1,406.5 1759.7,406.8 1760.3,406.9 1760.9,407.0 1761.4,406.9 1762.0,406.6 1762.6,406.6 1763.2,406.9 1763.8,407.1 1764.4,407.1 1765.0,407.3 1765.6,407.0 1766.2,407.0 1766.8,407.0 1767.4,407.2 1768.0,407.3 1768.5,407.3 1769.1,407.2 1769.7,407.0 1770.3,406.9 1770.9,407.2 1771.5,407.0 1772.1,406.6 1772.7,406.9 1773.3,407.0 1773.9,406.8 1774.5,407.0 1775.1,407.2 1775.6,407.3 1776.2,407.1 1776.8,407.0 1777.4,406.9 1778.0,407.0 1778.6,407.0 1779.2,407.3 1779.8,407.3 1780.4,407.5 1781.0,407.8 1781.6,407.9 1782.2,407.4 1782.7,407.5 1783.3,407.5 1783.9,407.1 1784.5,406.9 1785.1,406.7 1785.7,406.8 1786.3,406.9 1786.9,406.9 1787.5,406.8 1788.1,406.7 1788.7,406.6 1789.3,406.5 1789.8,406.5 1790.4,406.3 1791.0,406.8 1791.6,407.1 1792.2,407.3 1792.8,407.7 1793.4,407.8 1794.0,407.9 1794.6,407.8 1795.2,407.8 1795.8,407.5 1796.4,407.7 1796.9,407.8 1797.5,407.8 1798.1,407.8 1798.7,407.7 1799.3,407.6 1799.9,407.5 1800.5,407.3 1801.1,407.0 1801.7,407.0 1802.3,406.7 1802.9,406.8 1803.5,406.9 1804.0,406.8 1804.6,407.0 1805.2,406.9 1805.8,406.9 1806.4,406.8 1807.0,406.8"/>
<polyline fill="none" stroke="#00FFFF" stroke-width="5" stroke-linejoin="round" stroke-linecap="butt" shape-rendering="crispEdges" points="180.0,208.7 180.6,208.8 181.2,209.0 181.8,209.2 182.4,209.0 183.0,208.9 183.5,209.0 184.1,208.9 184.7,209.0 185.3,209.0 185.9,208.7 186.5,208.3 187.1,208.2 187.7,208.0 188.3,208.0 188.9,208.0 189.5,207.9 190.1,207.6 190.6,207.5 191.2,207.7 191.8,207.8 192.4,207.6 193.0,207.9 193.6,208.0 194.2,208.1 194.8,208.4 195.4,208.7 196.0,208.6 196.6,208.7 197.2,208.5 197.7,208.5 198.3,208.4 198.9,208.2 199.5,208.2 200.1,208.2 200.7,208.3 201.3,208.6 201.9,208.3 202.5,208.2 203.1,208.1 203.7,207.9 204.3,207.9 204.8,208.0 205.4,208.0 206.0,208.0 206.6,208.2 207.2,208.2 207.8,208.4 208.4,208.2 209.0,208.1 209.6,208.2 210.2,208.3 210.8,208.5 211.4,208.3 211.9,208.1 212.5,208.2 213.1,208.2 213.7,208.5 214.3,208.5 214.9,208.6 215.5,208.3 216.1,208.3 216.7,208.4 217.3,208.7 217.9,208.8 218.5,208.5 219.0,208.3 219.6,208.0 220.2,207.9 220.8,207.9 221.4,208.0 222.0,208.0 222.6,208.0 223.2,207.9 223.8,207.9 224.4,208.1 225.0,208.1 225.6,208.3 226.1,208.1 226.7,208.2 227.3,208.5 227.9,208.5 228.5,208.7 229.1,208.8 229.7,209.2 230.3,209.1 230.9,209.3 231.5,209.4 232.1,209.3 232.7,209.6 233.2,209.6 233.8,209.5 234.4,209.4 235.0,209.2 235.6,209.2 236.2,209.2 236.8,209.0 237.4,209.0 238.0,209.2 238.6,208.9 239.2,209.0 239.8,208.8 240.3,208.5 240.9,208.5 241.5,208.2 242.1,208.0 242.7,208.0 243.3,207.9 243.9,208.2 244.5,207.9 245.1,207.9 245.7,208.0 246.3,207.6 246.9,207.4 247.4,207.4 248.0,207.2 248.6,207.3 249.2,207.3 249.8,207.3 250.4,207.5 251.0,207.3 251.6,207.2 252.2,206.9 252.8,206.6 253.4,206.5 254.0,206.2 254.5,206.1 255.1,205.9 255.7,205.7 256.3,205.6 256.9,205.6 257.5,205.1 258.1,204.4 258.7,204.1 259.3,203.5 259.9,202.7 260.5,201.5 261.1,199.3 261.6,195.1 262.2,187.8 262.8,175.2 263.4,155.6 264.0,129.6 264.6,100.2 265.2,74.9 265.8,64.7 266.4,74.9 267.0,100.4 267.6,129.5 268.2,155.7 268.7,175.2 269.3,188.2 269.9,195.7 270.5,199.8 271.1,202.0 271.7,203.2 272.3,204.1 272.9,204.6 273.5,205.1 274.1,205.6 274.7,205.7 275.3,205.9 275.8,206.0 276.4,206.1 277.0,206.4 277.6,206.7 278.2,206.6 278.8,206.6 279.4,206.8 280.0,206.8 280.6,206.9 281.2,206.9 281.8,207.0 282.4,207.3 282.9,207.5 283.0,206.4 285.5,205.1 287.0,202.6 288.5,199.2 289.9,195.2 290.2,170.3 290.6,156.3 291.5,146.3 292.8,141.8 294.3,141.3 294.8,146.3 295.8,160.4 296.6,170.4 296.8,193.4 297.4,196.9 298.3,195.9 299.5,190.4 300.8,185.4 301.8,184.4 302.6,187.4 303.3,196.4 304.5,204.5 306.0,207.0 306.0,208.9 306.6,209.0 307.2,208.6 307.8,208.8 308.4,208.9 309.0,209.1 309.6,208.8 310.2,208.9 310.8,209.0 311.3,208.9 311.9,209.0 312.5,208.9 313.1,209.0 313.7,208.7 314.3,208.7 314.9,208.9 315.5,208.7 316.1,208.6 316.7,208.5 317.3,208.5 317.9,208.5 318.4,208.7 319.0,208.7 319.6,208.6 320.2,208.5 320.8,208.7 321.4,208.7 322.0,208.6 322.6,208.7 323.2,208.8 323.8,208.7 324.4,208.7 325.0,208.9 325.5,209.1 326.1,209.4 326.7,209.4 327.3,209.3 327.9,209.2 328.5,209.3 329.1,209.4 329.7,209.7 330.3,209.8 330.9,209.9 331.5,210.1 332.1,210.0 332.6,210.2 333.2,210.3 333.8,210.3 334.4,210.4 335.0,210.5 335.6,210.7 336.2,210.8 336.8,210.9 337.4,211.1 338.0,211.3 338.6,211.3 339.2,211.3 339.7,211.5 340.3,211.5 340.9,211.4 341.5,211.5 342.1,211.4 342.7,211.2 343.3,211.2 343.9,211.0 344.5,211.0 345.1,210.9 345.7,210.9 346.2,210.9 346.8,210.8 347.4,210.9 348.0,210.9 348.6,210.7 349.2,210.8 349.8,210.9 350.4,210.7 351.0,210.7 351.6,211.0 352.2,210.9 352.8,210.8 353.3,210.8 353.9,211.1 354.5,211.1 355.1,211.2 355.7,211.2 356.3,211.0 356.9,211.2 357.5,211.4 358.1,211.3 358.7,211.2 359.3,211.1 359.9,211.3 360.4,211.2 361.0,211.1 361.6,211.4 362.2,211.2 362.8,211.0 363.4,211.1 364.0,211.1 364.6,211.1 365.2,211.2 365.8,211.1 366.4,211.1 367.0,210.9 367.5,211.1 368.1,211.1 368.7,211.1 369.3,211.1 369.9,211.3 370.5,211.1 371.1,211.2 371.7,211.3 372.3,211.3 372.9,211.0 373.5,211.0 374.1,210.9 374.6,211.0 375.2,210.8 375.8,210.9 376.4,210.6 377.0,210.7 377.6,210.6 378.2,210.5 378.8,210.6 379.4,210.6 380.0,210.8 380.6,210.6 381.2,210.7 381.7,210.7 382.3,210.9 382.9,210.8 383.5,210.7 384.1,210.8 384.7,210.6 385.3,210.7 385.9,210.7 386.5,210.8 387.1,211.0 387.7,210.7 388.3,210.8 388.8,210.7 389.4,210.8 390.0,210.6 390.6,210.7 391.2,210.5 391.8,210.6 392.4,210.5 393.0,210.4 393.6,210.8 394.2,211.0 394.8,210.9 395.4,211.0 395.9,210.8 396.5,211.0 397.1,210.9 397.7,211.3 398.3,211.3 398.9,211.5 399.5,211.5 400.1,211.6 400.7,211.7 401.3,211.7 401.9,211.8 402.5,211.4 403.0,211.5 403.6,211.6 404.2,211.3 404.8,211.2 405.4,211.1 406.0,210.9 406.6,210.8 407.2,210.8 407.8,210.9 408.4,210.7 409.0,210.7 409.6,210.6 410.1,210.7 410.7,210.7 411.3,210.7 411.9,210.5 412.5,210.4 413.1,210.7 413.7,210.9 414.3,210.9 414.9,211.2 415.5,211.1 416.1,211.0 416.7,210.9 417.2,210.9 417.8,210.7 418.4,210.9 419.0,210.9 419.6,210.7 420.2,210.6 420.8,209.8 421.4,208.2 422.0,205.6 422.6,203.7 423.2,205.5 423.8,207.9 424.3,209.6 424.9,210.6 425.5,211.0 426.1,211.2 426.7,211.6 427.3,211.4 427.9,211.3 428.5,211.5 429.1,211.3 429.7,211.1 430.3,210.8 430.9,210.7 431.4,210.6 432.0,210.7 432.6,210.7 433.2,210.8 433.8,210.6 434.4,210.4 435.0,210.5 435.6,210.2 436.2,210.4 436.8,210.4 437.4,210.3 438.0,210.2 438.5,210.2 439.1,210.5 439.7,210.3 440.3,210.4 440.9,209.8 441.5,209.3 442.1,207.6 442.7,204.4 443.3,199.8 443.9,197.7 444.5,199.8 445.1,204.3 445.6,207.8 446.2,209.5 446.8,210.4 447.4,210.5 448.0,210.5 448.6,210.7 449.2,210.7 449.8,211.0 450.4,211.2 451.0,211.3 451.6,211.4 452.2,211.5 452.7,211.4 453.3,211.4 453.9,211.4 454.5,211.2 455.1,210.8 455.7,210.8 456.3,211.0 456.9,210.7 457.5,210.8 458.1,210.7 458.7,210.6 459.3,210.5 459.8,210.5 460.4,210.4 461.0,210.1 461.6,210.2 462.2,210.1 462.8,210.0 463.4,210.0 464.0,210.0 464.6,209.8 465.2,209.6 465.8,209.6 466.4,209.1 466.9,207.9 467.5,204.9 468.1,199.8 468.7,194.8 469.0,194.8 469.3,194.9 469.9,199.9 470.5,205.2 471.1,208.1 471.7,209.2 472.3,209.4 472.9,209.0 473.5,208.7 474.0,208.4 474.3,208.2 474.6,208.3 475.2,208.9 475.8,209.6 476.4,210.2 477.0,210.8 477.6,210.9 478.2,211.0 478.8,211.0 479.4,210.9 480.0,210.8 480.6,210.6 481.1,210.6 481.7,210.7 482.3,210.5 482.9,210.6 483.5,210.7 484.1,210.5 484.7,210.4 485.3,210.3 485.9,210.2 486.5,210.3 487.1,210.3 487.7,210.4 488.2,210.6 488.8,210.5 489.4,210.1 490.0,208.9 490.6,206.7 491.2,205.0 491.5,205.0 491.8,204.7 492.4,206.7 493.0,208.7 493.6,209.8 494.2,209.9 494.8,210.3 495.3,210.3 495.9,210.2 496.5,210.1 497.1,209.9 497.7,210.1 498.3,210.0 498.9,210.0 499.5,209.8 500.1,209.1 500.7,207.5 501.3,204.6 501.9,201.3 502.1,201.6 502.4,201.5 503.0,204.5 503.6,207.6 504.2,209.6 504.8,210.4 505.4,210.8 506.0,210.9 506.6,211.1 507.2,211.1 507.8,211.1 508.4,211.2 508.9,211.3 509.5,211.3 510.1,211.7 510.7,211.5 511.3,211.8 511.9,211.6 512.5,211.7 513.1,211.5 513.7,211.5 514.3,211.5 514.9,211.6 515.5,211.3 516.0,211.5 516.6,211.4 517.2,211.1 517.8,211.0 518.4,210.7 519.0,210.2 519.6,210.2 520.2,209.9 520.8,210.1 521.4,210.1 522.0,210.3 522.6,210.5 523.1,210.6 523.7,210.5 524.3,210.7 524.9,210.5 525.5,210.6 526.1,210.8 526.7,210.9 527.3,211.2 527.9,211.2 528.5,211.0 529.1,211.0 529.7,211.0 530.2,211.2 530.8,211.3 531.4,211.4 532.0,211.5 532.6,211.6 533.2,211.5 533.8,211.6 534.4,211.7 535.0,211.4 535.6,211.4 536.2,211.2 536.8,211.5 537.3,211.5 537.9,211.7 538.5,211.6 539.1,211.6 539.7,211.6 540.3,211.6 540.9,211.4 541.5,211.3 542.1,211.4 542.7,211.5 543.3,211.5 543.9,211.7 544.4,211.6 545.0,211.6 545.6,211.4 546.2,211.4 546.8,211.5 547.4,211.6 548.0,211.7 548.6,211.7 549.2,211.5 549.8,211.7 550.4,211.4 551.0,210.9 551.5,210.0 552.1,209.1 552.7,208.1 553.3,209.0 553.9,209.8 554.5,210.4 555.1,210.9 555.7,211.1 556.3,211.0 556.9,210.6 557.5,209.4 558.1,207.7 558.6,206.5 559.2,207.7 559.8,209.4 560.4,210.5 561.0,211.1 561.6,211.5 562.2,211.5 562.8,211.5 563.4,211.3 564.0,211.6 564.6,211.5 565.2,211.6 565.7,211.4 566.3,211.4 566.9,211.3 567.5,211.3 568.1,211.4 568.7,211.4 569.3,211.7 569.9,211.8 570.5,211.7 571.1,211.8 571.7,211.6 572.3,211.7 572.8,211.7 573.4,211.6 574.0,211.7 574.6,211.7 575.2,211.6 575.8,211.6 576.4,211.7 577.0,211.5 577.6,211.3 578.2,211.0 578.8,210.7 579.4,210.5 579.9,210.5 580.5,210.5 581.1,210.5 581.7,210.3 582.3,210.3 582.9,210.1 583.5,210.1 584.1,210.1 584.7,210.4 585.3,210.3 585.9,210.3 586.5,210.6 587.0,210.8 587.6,211.0 588.2,211.2 588.8,211.0 589.4,210.9 590.0,210.7 590.6,210.9 591.2,210.8 591.8,210.6 592.4,210.6 593.0,210.3 593.6,210.1 594.1,210.1 594.7,210.2 595.3,209.9 595.9,210.1 596.5,210.1 597.1,210.1 597.7,210.2 598.3,210.1 598.9,210.0 599.5,208.9 600.1,207.7 600.7,207.2 600.9,207.2 601.2,207.5 601.8,208.5 602.4,209.5 603.0,210.2 603.6,210.9 604.2,210.8 604.8,210.9 605.4,211.0 606.0,210.9 606.6,210.8 607.2,210.9 607.8,211.0 608.3,211.2 608.9,211.2 609.5,211.0 610.1,211.1 610.7,211.0 611.3,211.1 611.9,211.3 612.5,211.4 613.1,211.4 613.7,211.3 614.3,211.1 614.9,211.1 615.4,211.1 616.0,210.9 616.6,211.1 617.2,211.1 617.8,211.0 618.4,211.1 619.0,211.1 619.6,211.2 620.2,211.1 620.8,211.0 621.4,210.8 622.0,210.8 622.5,210.7 623.1,210.8 623.7,210.7 624.3,211.0 624.9,210.8 625.5,210.8 626.1,210.7 626.7,210.7 627.3,210.7 627.9,210.4 628.5,210.2 629.1,210.1 629.6,210.3 630.2,210.6 630.8,210.6 631.4,210.4 632.0,210.0 632.6,209.2 633.2,207.8 633.8,207.2 634.1,207.2 634.4,207.3 635.0,208.1 635.6,208.9 636.2,209.9 636.7,210.6 637.3,210.9 637.9,210.8 638.5,210.8 639.1,210.8 639.7,210.9 640.3,210.6 640.9,210.9 641.5,210.9 642.1,210.7 642.7,210.7 643.3,210.7 643.8,210.8 644.4,211.2 645.0,211.3 645.6,211.1 646.2,210.3 646.8,208.9 647.4,206.8 648.0,204.7 648.6,203.4 649.2,204.9 649.8,206.8 650.4,208.9 650.9,210.5 651.5,211.1 652.1,211.3 652.7,211.5 653.3,211.4 653.9,211.4 654.5,211.4 655.1,211.3 655.7,211.3 656.3,211.4 656.9,211.5 657.5,211.4 658.0,211.2 658.6,211.0 659.2,210.9 659.8,210.6 660.4,210.8 661.0,210.8 661.6,210.7 662.2,210.5 662.8,210.5 663.4,210.4 664.0,210.3 664.6,210.3 665.1,210.2 665.7,210.1 666.3,210.3 666.9,210.7 667.5,210.9 668.1,210.9 668.7,210.9 669.3,210.8 669.9,210.6 670.5,210.7 671.1,210.9 671.6,210.8 672.2,210.7 672.8,210.5 673.4,210.3 674.0,210.0 674.6,209.6 675.2,208.9 675.8,208.2 676.4,208.6 677.0,208.1 677.6,208.6 678.2,209.3 678.7,210.0 679.3,210.3 679.9,210.3 680.5,210.5 681.1,210.7 681.7,211.0 682.3,211.0 682.9,211.1 683.5,211.2 684.1,211.1 684.7,211.0 685.3,210.6 685.8,209.5 686.4,209.0 687.0,208.2 687.6,208.8 688.2,209.5 688.8,210.4 689.4,211.0 690.0,211.4 690.6,211.5 691.2,211.8 691.8,211.8 692.4,211.6 692.9,211.5 693.5,211.3 694.1,211.3 694.7,211.6 695.3,211.6 695.9,211.8 696.5,211.6 697.1,211.7 697.7,211.8 698.3,211.6 698.9,211.5 699.5,211.4 700.0,211.3 700.6,211.0 701.2,211.1 701.8,211.4 702.4,211.6 703.0,211.6 703.6,211.8 704.2,211.7 704.8,211.6 705.4,211.8 706.0,211.8 706.6,211.7 707.1,211.7 707.7,211.5 708.3,211.5 708.9,211.4 709.5,211.5 710.1,211.2 710.7,210.6 711.3,209.8 711.9,206.9 712.5,198.8 713.1,183.5 713.7,167.0 714.0,163.6 714.2,166.8 714.8,183.0 715.4,198.3 716.0,206.1 716.6,208.7 717.2,209.2 717.8,209.4 718.4,209.2 719.0,208.0 719.6,204.2 720.2,197.3 720.8,187.2 721.3,182.5 721.9,187.8 722.5,197.6 723.1,205.1 723.7,208.6 724.3,209.6 724.9,210.0 725.5,210.1 726.1,210.3 726.7,210.1 727.3,210.2 727.9,210.3 728.4,210.4 729.0,209.8 729.6,208.5 730.2,205.9 730.8,202.7 731.4,199.7 732.0,198.7 732.6,200.0 733.2,203.1 733.8,206.3 734.4,208.7 735.0,209.7 735.5,210.4 736.1,210.4 736.7,210.0 737.3,209.0 737.9,205.6 738.5,198.7 739.1,189.5 739.7,184.1 740.3,189.9 740.9,199.1 741.5,205.9 742.1,209.0 742.6,210.2 743.2,210.6 743.8,211.0 744.4,210.7 745.0,210.6 745.6,210.7 746.2,210.7 746.8,211.0 747.4,210.9 748.0,210.8 748.6,209.8 749.2,208.7 749.7,207.1 750.3,205.4 750.9,203.3 751.5,201.1 752.1,200.0 752.4,200.8 752.7,200.3 753.3,201.5 753.9,203.0 754.5,204.2 755.1,204.8 755.7,205.1 756.3,204.2 756.8,203.3 757.4,201.9 758.0,201.2 758.3,200.8 758.6,201.5 759.2,203.0 759.8,204.8 760.4,206.3 761.0,208.1 761.6,209.3 762.2,210.2 762.8,210.9 763.4,211.1 763.9,211.2 764.5,211.1 765.1,210.9 765.7,210.9 766.3,211.1 766.9,211.5 767.5,211.6 768.1,211.8 768.7,211.7 769.3,212.0 769.9,212.0 770.5,212.0 771.0,212.0 771.6,211.9 772.2,211.9 772.8,212.1 773.4,212.1 774.0,212.3 774.6,212.4 775.2,212.4 775.8,212.0 776.4,211.8 777.0,211.7 777.6,211.5 778.1,211.5 778.7,211.4 779.3,211.4 779.9,211.5 780.5,211.6 781.1,211.7 781.7,211.4 782.3,211.5 782.9,211.4 783.5,211.3 784.1,211.6 784.7,211.8 785.2,212.0 785.8,211.8 786.4,211.9 787.0,211.8 787.6,211.7 788.2,211.9 788.8,211.9 789.4,211.7 790.0,211.6 790.6,211.3 791.2,210.9 791.8,210.4 792.3,209.9 792.9,209.1 793.5,208.9 794.1,208.7 794.7,208.7 795.3,208.9 795.9,208.9 796.5,209.1 797.1,208.5 797.7,208.0 798.3,207.5 798.9,207.6 799.4,207.7 800.0,208.3 800.6,209.0 801.2,209.7 801.8,210.4 802.4,210.8 803.0,211.2 803.6,211.4 804.2,211.5 804.8,211.5 805.4,211.2 806.0,211.4 806.5,211.4 807.1,211.3 807.7,211.2 808.3,211.3 808.9,211.3 809.5,211.4 810.1,211.5 810.7,211.5 811.3,211.2 811.9,211.1 812.5,211.0 813.1,210.9 813.6,210.6 814.2,210.6 814.8,210.2 815.4,209.8 816.0,209.3 816.6,208.9 817.2,208.2 817.5,208.6 817.8,208.0 818.4,208.4 819.0,208.8 819.6,209.6 820.2,210.1 820.7,210.2 821.3,210.4 821.9,210.6 822.5,210.9 823.1,210.9 823.7,210.9 824.3,210.9 824.9,210.9 825.5,210.5 826.1,209.9 826.7,209.1 827.3,207.9 827.8,206.5 828.4,205.3 829.0,204.7 829.6,205.6 830.2,206.9 830.8,208.5 831.4,209.5 832.0,210.4 832.6,210.7 833.2,211.2 833.8,211.3 834.3,211.5 834.9,211.6 835.5,211.6 836.1,211.5 836.7,211.6 837.3,211.5 837.9,211.4 838.5,211.6 839.1,211.7 839.7,211.4 840.3,211.2 840.9,211.2 841.4,210.9 842.0,210.5 842.6,209.9 843.2,210.7 843.8,210.7 844.4,211.1 845.0,211.3 845.6,211.5 846.2,211.9 846.8,211.7 847.4,211.5 848.0,211.6 848.5,211.9 849.1,211.7 849.7,211.4 850.3,211.5 850.9,211.6 851.5,211.7 852.1,211.5 852.7,211.7 853.3,211.7 853.9,211.8 854.5,211.7 855.1,211.4 855.6,211.4 856.2,211.5 856.8,211.2 857.4,211.0 858.0,210.8 858.6,211.0 859.2,211.1 859.8,211.1 860.4,211.1 861.0,211.0 861.6,210.6 862.2,210.6 862.7,210.2 863.3,210.1 863.9,210.2 864.5,210.2 865.1,210.2 865.7,210.3 866.3,210.3 866.9,210.8 867.5,210.7 868.1,210.6 868.7,210.5 869.3,210.6 869.8,210.5 870.4,210.8 871.0,211.1 871.6,211.5 872.2,211.8 872.8,211.8 873.4,211.9 874.0,211.8 874.6,211.8 875.2,211.7 875.8,211.7 876.4,211.6 876.9,211.7 877.5,211.8 878.1,211.8 878.7,211.9 879.3,211.8 879.9,211.6 880.5,211.6 881.1,211.5 881.7,211.5 882.3,211.6 882.9,211.8 883.5,211.9 884.0,212.0 884.6,211.9 885.2,211.8 885.8,211.4 886.4,211.5 887.0,211.6 887.6,211.6 888.2,211.4 888.8,211.7 889.4,211.5 890.0,211.5 890.6,211.6 891.1,211.4 891.7,211.3 892.3,211.2 892.9,211.3 893.5,211.0 894.1,211.0 894.7,211.0 895.3,210.6 895.9,209.9 896.5,209.4 897.1,208.9 897.7,208.2 898.0,208.6 898.2,208.0 898.8,208.4 899.4,209.2 900.0,209.7 900.6,210.2 901.2,210.3 901.8,210.5 902.4,210.9 903.0,211.1 903.6,211.0 904.2,211.3 904.8,211.2 905.3,211.1 905.9,211.4 906.5,211.6 907.1,211.9 907.7,211.7 908.3,211.8 908.9,211.8 909.5,211.5 910.1,211.6 910.7,211.7 911.3,211.6 911.9,211.4 912.4,211.4 913.0,211.1 913.6,210.5 914.2,209.8 914.8,208.6 915.4,207.3 916.0,205.9 916.6,204.7 917.2,205.6 917.8,206.9 918.4,208.8 919.0,209.9 919.5,210.6 920.1,211.2 920.7,211.4 921.3,211.5 921.9,211.3 922.5,211.2 923.1,210.7 923.7,209.6 924.3,208.8 924.9,208.2 925.5,208.6 926.1,208.3 926.6,208.8 927.2,209.3 927.8,209.8 928.4,210.2 929.0,210.3 929.6,210.5 930.2,210.5 930.8,210.5 931.4,210.6 932.0,210.6 932.6,211.1 933.2,211.2 933.7,211.2 934.3,211.1 934.9,211.1 935.5,211.1 936.1,211.0 936.7,211.2 937.3,211.2 937.9,211.1 938.5,210.9 939.1,210.8 939.7,210.9 940.3,210.8 940.8,211.0 941.4,211.1 942.0,211.0 942.6,211.0 943.2,211.0 943.8,210.9 944.4,211.0 945.0,210.8 945.6,210.9 946.2,211.1 946.8,211.2 947.4,211.6 947.9,211.7 948.5,211.8 949.1,211.8 949.7,211.6 950.3,211.5 950.9,211.7 951.5,211.8 952.1,211.8 952.7,211.7 953.3,211.4 953.9,211.6 954.5,211.6 955.0,211.5 955.6,211.4 956.2,211.5 956.8,211.7 957.4,211.4 958.0,211.5 958.6,211.4 959.2,211.3 959.8,211.1 960.4,210.9 961.0,210.9 961.6,211.2 962.1,211.2 962.7,211.1 963.3,211.1 963.9,211.1 964.5,211.0 965.1,210.8 965.7,210.6 966.3,210.6 966.9,210.5 967.5,210.6 968.1,210.6 968.7,210.8 969.2,210.9 969.8,211.1 970.4,211.0 971.0,211.5 971.6,211.6 972.2,211.4 972.8,211.4 973.4,211.4 974.0,211.4 974.6,211.3 975.2,211.3 975.8,211.6 976.3,211.8 976.9,211.8 977.5,211.8 978.1,211.8 978.7,211.8 979.3,211.9 979.9,211.6 980.5,211.6 981.1,211.9 981.7,211.9 982.3,212.1 982.9,212.1 983.4,212.4 984.0,212.4 984.6,212.0 985.2,211.9 985.8,211.7 986.4,211.6 987.0,211.9 987.6,211.7 988.2,211.5 988.8,211.2 989.4,211.2 990.0,210.9 990.5,210.7 991.1,210.3 991.7,210.1 992.3,210.1 992.9,210.1 993.5,210.4 994.1,210.6 994.7,210.6 995.3,211.0 995.9,210.8 996.5,210.8 997.0,210.8 997.6,211.2 998.2,211.1 998.8,211.1 999.4,211.3 1000.0,211.5 1000.6,211.6 1001.2,211.6 1001.8,211.4 1002.4,211.2 1003.0,210.9 1003.6,211.1 1004.1,210.5 1004.7,210.3 1005.3,210.4 1005.9,210.5 1006.5,210.5 1007.1,210.8 1007.7,211.0 1008.3,211.0 1008.9,211.1 1009.5,211.4 1010.1,211.4 1010.7,211.6 1011.2,211.7 1011.8,211.4 1012.4,211.0 1013.0,211.1 1013.6,211.2 1014.2,211.0 1014.8,210.8 1015.4,210.7 1016.0,210.6 1016.6,210.2 1017.2,210.1 1017.8,210.0 1018.3,209.8 1018.9,209.8 1019.5,209.8 1020.1,209.9 1020.7,210.1 1021.3,210.3 1021.9,210.4 1022.5,210.1 1023.1,210.2 1023.7,210.2 1024.3,210.2 1024.9,210.1 1025.4,210.2 1026.0,210.3 1026.6,210.6 1027.2,210.5 1027.8,210.6 1028.4,210.6 1029.0,210.8 1029.6,211.1 1030.2,211.4 1030.8,211.5 1031.4,211.9 1032.0,211.6 1032.5,211.7 1033.1,211.6 1033.7,211.4 1034.3,211.6 1034.9,211.4 1035.5,211.4 1036.1,211.5 1036.7,211.7 1037.3,211.8 1037.9,211.9 1038.5,211.8 1039.1,211.5 1039.6,211.4 1040.2,211.5 1040.8,211.8 1041.4,211.7 1042.0,211.8 1042.6,211.9 1043.2,211.8 1043.8,211.8 1044.4,211.7 1045.0,211.7 1045.6,211.8 1046.2,211.9 1046.7,211.7 1047.3,211.8 1047.9,212.0 1048.5,212.0 1049.1,212.0 1049.7,212.0 1050.3,211.9 1050.9,212.0 1051.5,212.1 1052.1,212.1 1052.7,212.1 1053.3,212.2 1053.8,212.1 1054.4,211.8 1055.0,211.8 1055.6,211.7 1056.2,211.7 1056.8,211.5 1057.4,211.8 1058.0,211.7 1058.6,211.7 1059.2,211.9 1059.8,211.8 1060.4,211.6 1060.9,211.6 1061.5,211.6 1062.1,211.6 1062.7,211.8 1063.3,211.8 1063.9,211.7 1064.5,211.9 1065.1,212.1 1065.7,212.2 1066.3,211.9 1066.9,211.8 1067.5,211.7 1068.0,211.6 1068.6,211.6 1069.2,211.6 1069.8,211.6 1070.4,211.6 1071.0,211.3 1071.6,211.5 1072.2,211.6 1072.8,211.5 1073.4,211.5 1074.0,211.3 1074.6,211.2 1075.1,211.1 1075.7,211.3 1076.3,211.2 1076.9,211.3 1077.5,211.4 1078.1,211.2 1078.7,211.4 1079.3,211.4 1079.9,211.4 1080.5,211.1 1081.1,211.0 1081.7,211.1 1082.2,211.1 1082.8,211.2 1083.4,211.4 1084.0,211.3 1084.6,211.2 1085.2,211.5 1085.8,211.3 1086.4,211.1 1087.0,211.2 1087.6,211.1 1088.2,211.2 1088.8,211.3 1089.3,211.2 1089.9,211.3 1090.5,211.2 1091.1,211.1 1091.7,210.8 1092.3,210.8 1092.9,211.1 1093.5,211.1 1094.1,210.9 1094.7,211.2 1095.3,211.3 1095.9,211.4 1096.4,211.6 1097.0,211.4 1097.6,211.4 1098.2,211.5 1098.8,211.5 1099.4,211.3 1100.0,211.1 1100.6,210.7 1101.2,210.1 1101.8,209.3 1102.4,208.6 1103.0,208.2 1103.5,207.5 1104.1,208.3 1104.7,208.8 1105.3,209.3 1105.9,210.1 1106.5,210.7 1107.1,211.2 1107.7,211.3 1108.3,211.6 1108.9,211.8 1109.5,212.1 1110.1,212.1 1110.6,212.1 1111.2,212.2 1111.8,212.2 1112.4,212.2 1113.0,212.3 1113.6,212.3 1114.2,212.5 1114.8,212.8 1115.4,212.8 1116.0,212.7 1116.6,212.6 1117.2,212.3 1117.7,212.2 1118.3,212.1 1118.9,212.1 1119.5,212.3 1120.1,212.4 1120.7,212.4 1121.3,212.3 1121.9,212.1 1122.5,212.0 1123.1,211.7 1123.7,211.6 1124.3,211.6 1124.8,211.8 1125.4,212.0 1126.0,212.1 1126.6,212.1 1127.2,211.9 1127.8,212.0 1128.4,211.7 1129.0,211.7 1129.6,211.5 1130.2,211.5 1130.8,211.6 1131.4,211.5 1131.9,211.6 1132.5,211.4 1133.1,211.3 1133.7,211.1 1134.3,211.0 1134.9,211.3 1135.5,211.4 1136.1,211.7 1136.7,211.5 1137.3,211.6 1137.9,211.5 1138.5,211.7 1139.0,211.5 1139.6,211.7 1140.2,212.0 1140.8,212.0 1141.4,212.1 1142.0,212.2 1142.6,212.4 1143.2,212.4 1143.8,212.2 1144.4,211.9 1145.0,211.9 1145.6,212.0 1146.1,211.9 1146.7,212.1 1147.3,212.2 1147.9,212.5 1148.5,212.3 1149.1,212.1 1149.7,212.5 1150.3,212.1 1150.9,212.1 1151.5,212.1 1152.1,212.2 1152.7,212.3 1153.2,212.6 1153.8,212.4 1154.4,212.4 1155.0,212.7 1155.6,212.3 1156.2,211.9 1156.8,211.6 1157.4,211.7 1158.0,211.5 1158.6,211.2 1159.2,211.2 1159.7,211.0 1160.3,211.1 1160.9,211.3 1161.5,210.9 1162.1,210.8 1162.7,210.8 1163.3,210.8 1163.9,210.8 1164.5,210.9 1165.1,211.1 1165.7,211.0 1166.3,211.0 1166.8,211.0 1167.4,211.2 1168.0,211.4 1168.6,211.5 1169.2,211.5 1169.8,211.4 1170.4,211.8 1171.0,211.8 1171.6,212.1 1172.2,212.1 1172.8,211.8 1173.4,211.8 1173.9,211.6 1174.5,211.7 1175.1,211.7 1175.7,211.9 1176.3,211.8 1176.9,211.8 1177.5,211.8 1178.1,211.7 1178.7,211.7 1179.3,211.6 1179.9,211.3 1180.5,211.0 1181.0,211.1 1181.6,211.3 1182.2,211.3 1182.8,211.2 1183.4,210.9 1184.0,210.8 1184.6,210.8 1185.2,211.1 1185.8,211.2 1186.4,211.3 1187.0,211.4 1187.6,211.4 1188.1,211.3 1188.7,211.7 1189.3,211.9 1189.9,211.7 1190.5,211.4 1191.1,211.5 1191.7,211.8 1192.3,212.1 1192.9,212.2 1193.5,212.2 1194.1,211.9 1194.7,211.8 1195.2,211.6 1195.8,211.5 1196.4,211.5 1197.0,211.6 1197.6,211.6 1198.2,211.3 1198.8,211.7 1199.4,211.8 1200.0,211.9 1200.6,211.8 1201.2,211.7 1201.8,212.0 1202.3,211.9 1202.9,211.8 1203.5,211.6 1204.1,211.6 1204.7,211.9 1205.3,211.8 1205.9,212.1 1206.5,212.2 1207.1,212.3 1207.7,212.2 1208.3,212.1 1208.9,212.0 1209.4,212.1 1210.0,212.1 1210.6,211.8 1211.2,211.8 1211.8,211.9 1212.4,212.2 1213.0,212.3 1213.6,211.9 1214.2,212.0 1214.8,211.8 1215.4,211.5 1216.0,211.6 1216.5,211.4 1217.1,211.6 1217.7,211.7 1218.3,211.7 1218.9,211.7 1219.5,211.8 1220.1,211.7 1220.7,211.6 1221.3,211.5 1221.9,211.6 1222.5,211.7 1223.1,211.8 1223.6,211.9 1224.2,212.1 1224.8,212.0 1225.4,211.9 1226.0,211.8 1226.6,211.9 1227.2,211.8 1227.8,212.2 1228.4,212.4 1229.0,212.4 1229.6,212.5 1230.2,212.4 1230.7,212.5 1231.3,212.4 1231.9,212.0 1232.5,212.0 1233.1,211.9 1233.7,211.9 1234.3,211.9 1234.9,211.8 1235.5,212.0 1236.1,211.8 1236.7,211.6 1237.3,211.3 1237.8,211.5 1238.4,211.5 1239.0,211.4 1239.6,211.3 1240.2,211.2 1240.8,211.3 1241.4,211.1 1242.0,211.2 1242.6,211.3 1243.2,211.4 1243.8,211.6 1244.4,211.2 1244.9,211.4 1245.5,211.3 1246.1,211.4 1246.7,211.0 1247.3,211.0 1247.9,211.3 1248.5,211.2 1249.1,211.4 1249.7,211.2 1250.3,211.6 1250.9,211.9 1251.5,211.6 1252.0,211.7 1252.6,211.6 1253.2,211.6 1253.8,211.4 1254.4,211.3 1255.0,211.4 1255.6,211.7 1256.2,211.6 1256.8,211.4 1257.4,211.4 1258.0,211.3 1258.6,211.6 1259.1,211.3 1259.7,211.0 1260.3,211.1 1260.9,211.0 1261.5,210.9 1262.1,210.8 1262.7,210.9 1263.3,210.8 1263.9,211.0 1264.5,210.9 1265.1,210.9 1265.7,211.1 1266.2,211.2 1266.8,211.4 1267.4,211.4 1268.0,211.4 1268.6,211.2 1269.2,211.0 1269.8,210.9 1270.4,211.1 1271.0,211.1 1271.6,211.2 1272.2,211.4 1272.8,211.4 1273.3,211.4 1273.9,211.4 1274.5,211.5 1275.1,211.3 1275.7,211.3 1276.3,211.1 1276.9,211.1 1277.5,211.7 1278.1,211.8 1278.7,211.8 1279.3,211.7 1279.9,211.8 1280.4,211.4 1281.0,211.4 1281.6,211.3 1282.2,211.4 1282.8,211.4 1283.4,211.2 1284.0,211.2 1284.6,211.1 1285.2,211.3 1285.8,211.3 1286.4,210.9 1287.0,210.9 1287.5,211.1 1288.1,211.1 1288.7,211.4 1289.3,211.7 1289.9,211.5 1290.5,211.6 1291.1,211.6 1291.7,211.6 1292.3,211.8 1292.9,211.9 1293.5,212.0 1294.1,211.8 1294.6,211.7 1295.2,211.9 1295.8,211.9 1296.4,211.9 1297.0,212.0 1297.6,211.7 1298.2,211.4 1298.8,211.5 1299.4,211.5 1300.0,211.4 1300.6,211.5 1301.2,211.3 1301.7,211.2 1302.3,211.3 1302.9,211.6 1303.5,211.5 1304.1,211.6 1304.7,211.6 1305.3,211.6 1305.9,211.7 1306.5,211.7 1307.1,212.0 1307.7,212.0 1308.3,212.0 1308.8,211.9 1309.4,211.9 1310.0,211.9 1310.6,212.1 1311.2,211.9 1311.8,211.8 1312.4,212.0 1313.0,211.9 1313.6,211.9 1314.2,211.9 1314.8,211.7 1315.4,211.8 1315.9,211.8 1316.5,211.9 1317.1,212.0 1317.7,211.9 1318.3,211.8 1318.9,211.9 1319.5,211.8 1320.1,211.8 1320.7,211.8 1321.3,211.9 1321.9,211.9 1322.4,211.8 1323.0,211.8 1323.6,212.0 1324.2,212.1 1324.8,212.1 1325.4,212.1 1326.0,212.2 1326.6,212.4 1327.2,212.2 1327.8,212.2 1328.4,212.3 1329.0,212.1 1329.5,211.9 1330.1,211.7 1330.7,211.8 1331.3,212.0 1331.9,212.2 1332.5,212.3 1333.1,212.0 1333.7,212.0 1334.3,211.9 1334.9,211.8 1335.5,211.6 1336.1,211.9 1336.6,211.7 1337.2,211.5 1337.8,211.8 1338.4,212.2 1339.0,212.2 1339.6,212.2 1340.2,211.9 1340.8,211.9 1341.4,211.7 1342.0,211.7 1342.6,211.7 1343.2,211.7 1343.7,211.6 1344.3,211.5 1344.9,211.5 1345.5,211.8 1346.1,212.2 1346.7,211.9 1347.3,211.8 1347.9,211.8 1348.5,211.8 1349.1,212.0 1349.7,211.7 1350.3,211.6 1350.8,211.6 1351.4,211.4 1352.0,211.7 1352.6,211.8 1353.2,212.0 1353.8,212.2 1354.4,211.7 1355.0,211.5 1355.6,211.7 1356.2,211.5 1356.8,211.3 1357.4,211.7 1357.9,211.7 1358.5,211.6 1359.1,211.8 1359.7,211.6 1360.3,211.5 1360.9,211.0 1361.5,211.0 1362.1,210.8 1362.7,210.4 1363.3,210.2 1363.9,210.7 1364.5,210.9 1365.0,211.2 1365.6,211.5 1366.2,211.5 1366.8,211.5 1367.4,211.8 1368.0,211.8 1368.6,212.3 1369.2,212.5 1369.8,212.7 1370.4,212.2 1371.0,212.0 1371.6,212.0 1372.1,211.9 1372.7,211.8 1373.3,211.4 1373.9,211.5 1374.5,211.3 1375.1,211.1 1375.7,211.1 1376.3,210.8 1376.9,210.4 1377.5,210.1 1378.1,210.3 1378.7,210.2 1379.2,210.7 1379.8,210.7 1380.4,210.8 1381.0,210.7 1381.6,211.1 1382.2,211.4 1382.8,211.3 1383.4,211.4 1384.0,211.4 1384.6,211.3 1385.2,211.5 1385.8,211.4 1386.3,211.4 1386.9,211.3 1387.5,211.4 1388.1,211.6 1388.7,211.7 1389.3,211.9 1389.9,212.2 1390.5,212.2 1391.1,212.2 1391.7,212.3 1392.3,212.5 1392.9,212.4 1393.4,212.4 1394.0,212.3 1394.6,212.5 1395.2,212.3 1395.8,212.4 1396.4,212.0 1397.0,211.8 1397.6,211.9 1398.2,211.9 1398.8,211.7 1399.4,211.5 1400.0,211.4 1400.5,211.4 1401.1,211.3 1401.7,211.5 1402.3,211.5 1402.9,211.7 1403.5,211.7 1404.1,211.9 1404.7,211.6 1405.3,211.8 1405.9,211.7 1406.5,211.7 1407.1,211.8 1407.6,212.1 1408.2,212.3 1408.8,212.6 1409.4,212.5 1410.0,212.5 1410.6,212.3 1411.2,212.3 1411.8,212.3 1412.4,212.2 1413.0,212.3 1413.6,212.1 1414.2,212.4 1414.7,212.5 1415.3,212.5 1415.9,212.2 1416.5,211.9 1417.1,211.9 1417.7,211.8 1418.3,211.7 1418.9,211.9 1419.5,211.9 1420.1,212.0 1420.7,212.0 1421.3,212.0 1421.8,211.8 1422.4,212.1 1423.0,212.1 1423.6,212.1 1424.2,211.9 1424.8,212.0 1425.4,212.0 1426.0,211.8 1426.6,211.8 1427.2,211.8 1427.8,211.8 1428.4,211.9 1428.9,211.7 1429.5,211.5 1430.1,211.5 1430.7,211.8 1431.3,211.7 1431.9,211.6 1432.5,211.8 1433.1,212.1 1433.7,212.3 1434.3,212.0 1434.9,212.3 1435.5,212.3 1436.0,212.2 1436.6,212.0 1437.2,211.9 1437.8,212.2 1438.4,212.3 1439.0,212.2 1439.6,212.0 1440.2,211.9 1440.8,211.7 1441.4,211.3 1442.0,211.2 1442.6,211.2 1443.1,211.6 1443.7,211.5 1444.3,211.6 1444.9,211.8 1445.5,211.9 1446.1,212.1 1446.7,212.0 1447.3,212.1 1447.9,212.1 1448.5,212.0 1449.1,212.2 1449.7,212.4 1450.2,212.6 1450.8,212.6 1451.4,212.5 1452.0,212.7 1452.6,212.6 1453.2,212.7 1453.8,212.7 1454.4,213.1 1455.0,212.8 1455.6,212.8 1456.2,212.8 1456.8,213.1 1457.3,213.5 1457.9,213.5 1458.5,213.6 1459.1,213.3 1459.7,213.3 1460.3,213.4 1460.9,213.4 1461.5,213.5 1462.1,213.3 1462.7,213.3 1463.3,213.0 1463.9,212.9 1464.4,213.0 1465.0,212.9 1465.6,212.6 1466.2,212.3 1466.8,212.3 1467.4,212.1 1468.0,212.5 1468.6,212.4 1469.2,212.3 1469.8,212.2 1470.4,212.1 1471.0,212.3 1471.5,212.0 1472.1,212.2 1472.7,212.0 1473.3,211.8 1473.9,212.0 1474.5,212.0 1475.1,211.8 1475.7,211.7 1476.3,211.8 1476.9,211.6 1477.5,212.0 1478.1,212.0 1478.6,212.0 1479.2,212.1 1479.8,211.8 1480.4,212.0 1481.0,211.7 1481.6,211.9 1482.2,211.9 1482.8,211.8 1483.4,211.7 1484.0,211.8 1484.6,212.0 1485.1,212.1 1485.7,212.1 1486.3,212.0 1486.9,211.9 1487.5,212.0 1488.1,212.0 1488.7,212.2 1489.3,212.2 1489.9,212.5 1490.5,212.2 1491.1,212.1 1491.7,212.1 1492.2,212.4 1492.8,212.5 1493.4,212.5 1494.0,212.5 1494.6,212.2 1495.2,211.9 1495.8,211.9 1496.4,211.8 1497.0,211.6 1497.6,211.6 1498.2,211.5 1498.8,211.3 1499.3,211.6 1499.9,211.8 1500.5,211.9 1501.1,211.8 1501.7,211.6 1502.3,211.4 1502.9,211.5 1503.5,211.8 1504.1,211.8 1504.7,212.0 1505.3,212.0 1505.9,212.0 1506.4,212.1 1507.0,212.3 1507.6,212.3 1508.2,212.2 1508.8,212.2 1509.4,212.2 1510.0,212.1 1510.6,212.4 1511.2,212.6 1511.8,212.4 1512.4,212.5 1513.0,212.4 1513.5,212.4 1514.1,212.2 1514.7,212.4 1515.3,212.4 1515.9,212.2 1516.5,212.3 1517.1,212.3 1517.7,212.3 1518.3,212.2 1518.9,212.3 1519.5,212.3 1520.1,212.4 1520.6,212.4 1521.2,212.3 1521.8,212.3 1522.4,212.4 1523.0,212.7 1523.6,212.5 1524.2,212.4 1524.8,212.5 1525.4,212.3 1526.0,212.6 1526.6,212.5 1527.2,212.3 1527.7,212.1 1528.3,212.1 1528.9,211.9 1529.5,211.7 1530.1,211.6 1530.7,211.6 1531.3,211.5 1531.9,211.4 1532.5,211.4 1533.1,211.6 1533.7,211.5 1534.3,211.6 1534.8,211.2 1535.4,211.3 1536.0,211.6 1536.6,211.8 1537.2,212.1 1537.8,211.9 1538.4,212.0 1539.0,212.2 1539.6,212.3 1540.2,212.1 1540.8,212.3 1541.4,212.3 1541.9,212.2 1542.5,212.5 1543.1,212.5 1543.7,212.7 1544.3,212.5 1544.9,212.7 1545.5,212.5 1546.1,212.3 1546.7,212.4 1547.3,212.5 1547.9,212.6 1548.5,212.6 1549.0,212.9 1549.6,212.7 1550.2,212.7 1550.8,212.7 1551.4,212.6 1552.0,212.6 1552.6,212.5 1553.2,212.7 1553.8,212.4 1554.4,212.6 1555.0,212.5 1555.6,212.4 1556.1,212.4 1556.7,212.5 1557.3,212.6 1557.9,212.4 1558.5,212.4 1559.1,212.1 1559.7,212.0 1560.3,211.8 1560.9,211.6 1561.5,211.9 1562.1,211.6 1562.7,211.4 1563.2,211.4 1563.8,211.5 1564.4,211.6 1565.0,211.4 1565.6,211.1 1566.2,211.0 1566.8,210.8 1567.4,210.8 1568.0,211.1 1568.6,211.0 1569.2,211.3 1569.8,211.5 1570.3,211.3 1570.9,211.3 1571.5,211.5 1572.1,211.5 1572.7,211.4 1573.3,211.4 1573.9,211.5 1574.5,211.5 1575.1,211.7 1575.7,211.9 1576.3,212.1 1576.9,212.1 1577.4,212.1 1578.0,211.9 1578.6,211.9 1579.2,211.7 1579.8,211.9 1580.4,212.0 1581.0,211.9 1581.6,212.1 1582.2,212.2 1582.8,212.3 1583.4,212.1 1584.0,211.9 1584.5,211.9 1585.1,212.0 1585.7,211.9 1586.3,211.9 1586.9,212.1 1587.5,212.0 1588.1,212.2 1588.7,212.2 1589.3,212.0 1589.9,212.1 1590.5,212.1 1591.1,212.3 1591.6,212.2 1592.2,212.2 1592.8,212.5 1593.4,212.3 1594.0,212.1 1594.6,211.9 1595.2,212.3 1595.8,212.4 1596.4,212.4 1597.0,212.5 1597.6,212.4 1598.2,212.6 1598.7,212.3 1599.3,212.3 1599.9,212.1 1600.5,212.1 1601.1,212.3 1601.7,212.1 1602.3,212.2 1602.9,212.2 1603.5,212.1 1604.1,211.8 1604.7,212.1 1605.3,212.0 1605.8,211.7 1606.4,211.8 1607.0,211.7 1607.6,212.0 1608.2,211.9 1608.8,212.0 1609.4,212.0 1610.0,212.0 1610.6,212.1 1611.2,212.0 1611.8,211.8 1612.4,211.8 1612.9,212.0 1613.5,211.9 1614.1,212.1 1614.7,212.3 1615.3,212.3 1615.9,212.3 1616.5,212.3 1617.1,212.3 1617.7,212.2 1618.3,212.4 1618.9,212.2 1619.5,212.1 1620.0,212.0 1620.6,212.3 1621.2,212.5 1621.8,212.5 1622.4,212.5 1623.0,212.3 1623.6,212.1 1624.2,211.9 1624.8,211.8 1625.4,211.6 1626.0,211.5 1626.6,211.7 1627.1,211.6 1627.7,211.8 1628.3,211.6 1628.9,211.9 1629.5,211.7 1630.1,211.4 1630.7,211.3 1631.3,211.4 1631.9,211.5 1632.5,211.6 1633.1,211.7 1633.7,211.7 1634.2,211.9 1634.8,212.1 1635.4,212.0 1636.0,211.9 1636.6,212.0 1637.2,212.1 1637.8,212.1 1638.4,212.0 1639.0,212.1 1639.6,212.2 1640.2,212.2 1640.8,212.1 1641.3,212.3 1641.9,212.2 1642.5,212.5 1643.1,212.5 1643.7,212.5 1644.3,212.5 1644.9,212.6 1645.5,212.5 1646.1,212.5 1646.7,212.3 1647.3,212.4 1647.8,212.4 1648.4,212.3 1649.0,211.9 1649.6,211.8 1650.2,211.3 1650.8,211.2 1651.4,210.7 1652.0,210.2 1652.6,209.5 1653.2,208.9 1653.8,208.4 1654.4,208.0 1654.9,207.9 1655.5,207.4 1655.8,208.2 1656.1,207.5 1656.7,207.5 1657.3,208.3 1657.9,209.0 1658.5,209.7 1659.1,210.2 1659.7,210.6 1660.3,211.2 1660.9,211.8 1661.5,211.9 1662.0,212.0 1662.6,211.8 1663.2,211.5 1663.8,211.8 1664.4,211.7 1665.0,211.9 1665.6,212.1 1666.2,212.1 1666.8,211.9 1667.4,212.1 1668.0,212.2 1668.6,212.4 1669.1,212.4 1669.7,212.1 1670.3,212.0 1670.9,212.1 1671.5,212.2 1672.1,212.4 1672.7,212.7 1673.3,212.9 1673.9,212.8 1674.5,212.6 1675.1,212.3 1675.7,212.4 1676.2,212.3 1676.8,212.3 1677.4,212.2 1678.0,212.1 1678.6,212.3 1679.2,212.6 1679.8,212.7 1680.4,212.6 1681.0,212.4 1681.6,212.1 1682.2,212.0 1682.8,212.0 1683.3,212.1 1683.9,212.1 1684.5,212.0 1685.1,212.1 1685.7,212.3 1686.3,212.5 1686.9,212.3 1687.5,212.2 1688.1,212.2 1688.7,211.8 1689.3,211.7 1689.9,212.3 1690.4,212.2 1691.0,212.2 1691.6,212.1 1692.2,212.3 1692.8,212.5 1693.4,212.5 1694.0,212.3 1694.6,212.4 1695.2,212.0 1695.8,212.2 1696.4,212.3 1697.0,212.3 1697.5,212.6 1698.1,212.7 1698.7,212.5 1699.3,212.6 1699.9,212.6 1700.5,212.8 1701.1,212.6 1701.7,212.6 1702.3,212.9 1702.9,212.9 1703.5,212.8 1704.1,213.2 1704.6,213.0 1705.2,212.9 1705.8,212.7 1706.4,212.5 1707.0,212.7 1707.6,212.6 1708.2,212.6 1708.8,212.5 1709.4,212.5 1710.0,212.5 1710.6,212.6 1711.2,212.1 1711.7,212.1 1712.3,212.0 1712.9,211.9 1713.5,212.0 1714.1,212.2 1714.7,212.2 1715.3,212.2 1715.9,212.0 1716.5,212.0 1717.1,212.2 1717.7,212.1 1718.3,211.8 1718.8,212.1 1719.4,211.9 1720.0,212.2 1720.6,212.2 1721.2,212.1 1721.8,211.7 1722.4,211.7 1723.0,211.6 1723.6,211.6 1724.2,211.7 1724.8,211.7 1725.4,212.0 1725.9,212.2 1726.5,212.3 1727.1,212.6 1727.7,212.4 1728.3,212.6 1728.9,212.6 1729.5,212.4 1730.1,212.3 1730.7,212.4 1731.3,212.5 1731.9,212.6 1732.5,212.6 1733.0,212.7 1733.6,213.0 1734.2,212.5 1734.8,212.4 1735.4,212.6 1736.0,212.5 1736.6,212.5 1737.2,212.6 1737.8,212.5 1738.4,212.5 1739.0,212.7 1739.6,213.0 1740.1,212.9 1740.7,212.9 1741.3,212.7 1741.9,212.6 1742.5,212.3 1743.1,212.5 1743.7,212.3 1744.3,212.2 1744.9,212.1 1745.5,212.2 1746.1,212.1 1746.7,212.1 1747.2,212.4 1747.8,212.4 1748.4,212.3 1749.0,212.2 1749.6,212.4 1750.2,212.7 1750.8,212.8 1751.4,212.7 1752.0,212.6 1752.6,212.6 1753.2,212.5 1753.8,212.4 1754.3,212.0 1754.9,212.2 1755.5,212.1 1756.1,212.0 1756.7,212.0 1757.3,212.2 1757.9,212.2 1758.5,212.0 1759.1,211.6 1759.7,212.0 1760.3,211.9 1760.9,212.2 1761.4,212.2 1762.0,212.1 1762.6,212.5 1763.2,212.6 1763.8,212.5 1764.4,212.4 1765.0,212.4 1765.6,212.4 1766.2,212.2 1766.8,212.3 1767.4,212.3 1768.0,212.4 1768.5,212.1 1769.1,212.2 1769.7,212.1 1770.3,212.1 1770.9,212.2 1771.5,211.9 1772.1,211.9 1772.7,212.1 1773.3,212.2 1773.9,212.2 1774.5,212.4 1775.1,212.2 1775.6,212.5 1776.2,212.5 1776.8,212.7 1777.4,212.5 1778.0,212.3 1778.6,212.4 1779.2,212.6 1779.8,212.6 1780.4,212.7 1781.0,212.8 1781.6,212.7 1782.2,212.7 1782.7,212.6 1783.3,212.6 1783.9,212.9 1784.5,212.6 1785.1,212.8 1785.7,212.6 1786.3,212.8 1786.9,212.9 1787.5,212.8 1788.1,212.8 1788.7,212.9 1789.3,213.0 1789.8,212.9 1790.4,212.7 1791.0,212.6 1791.6,212.7 1792.2,212.4 1792.8,212.5 1793.4,212.5 1794.0,212.4 1794.6,212.4 1795.2,212.5 1795.8,212.6 1796.4,212.7 1796.9,212.7 1797.5,212.7 1798.1,212.7 1798.7,212.8 1799.3,212.9 1799.9,213.0 1800.5,212.9 1801.1,213.1 1801.7,213.1 1802.3,213.2 1802.9,213.2 1803.5,213.2 1804.0,213.1 1804.6,213.1 1805.2,213.0 1805.8,213.0 1806.4,212.8 1807.0,212.7"/>
</g>
<g stroke="#000" stroke-width="6" stroke-linecap="round" fill="none">
<line x1="327.9" y1="1231" x2="327.9" y2="1261"/>
<line x1="475.8" y1="1231" x2="475.8" y2="1246.5"/>
<line x1="623.7" y1="1231" x2="623.7" y2="1261"/>
<line x1="771.6" y1="1231" x2="771.6" y2="1246.5"/>
<line x1="919.5" y1="1231" x2="919.5" y2="1261"/>
<line x1="1067.5" y1="1231" x2="1067.5" y2="1246.5"/>
<line x1="1215.4" y1="1231" x2="1215.4" y2="1261"/>
<line x1="1363.3" y1="1231" x2="1363.3" y2="1246.5"/>
<line x1="1511.2" y1="1231" x2="1511.2" y2="1261"/>
<line x1="1659.1" y1="1231" x2="1659.1" y2="1246.5"/>
<line x1="180" y1="1231" x2="180" y2="1246.5"/>
<line x1="1807" y1="1231" x2="1807" y2="1261"/>
<path d="M180,1231 V30 H1807 V1231 Z" stroke-linecap="butt" stroke-linejoin="miter"/>
</g>
<g font-size="107">
<text x="327.9" y="1364" text-anchor="middle">10</text>
<text x="623.7" y="1364" text-anchor="middle">20</text>
<text x="919.5" y="1364" text-anchor="middle">30</text>
<text x="1215.4" y="1364" text-anchor="middle">40</text>
<text x="1511.2" y="1364" text-anchor="middle">50</text>
<text x="1807.0" y="1364" text-anchor="middle">60</text>
</g>
<text x="749" y="1455" font-size="105.5">2<tspan dx="4.5" letter-spacing="-0.33"> Theta (degree)</tspan></text>
<text transform="translate(100,942.2) rotate(-90)" font-size="105">Intensity (a.u.)</text>
<polygon points="1103.2,153.2 1117.7,172.0 1103.2,190.8 1088.7,172.0" fill="#000"/>
<polygon points="1230.7,100.5 1245.2,119.2 1230.7,137.9 1216.2,119.2" fill="#000"/>
<polygon points="1655.4,153.2 1669.9,171.9 1655.4,190.7 1640.9,171.9" fill="#000"/>
<text transform="translate(1265.5,135.5) scale(1.14,1)" font-size="98">α</text>
<text y="135.5" font-size="98"><tspan x="1325.4">-Cr</tspan><tspan x="1452.5" font-size="57" dy="33">2</tspan><tspan x="1482" dy="-33">O</tspan><tspan x="1551.3" font-size="57" dy="33">3</tspan></text>
<g font-size="98">
<text transform="translate(1720,191.3) scale(1.25,0.97)">f</text>
<text x="1722" y="387.8">e</text>
<text x="1721" y="609.8">d</text>
<text x="1720" y="835.2">c</text>
<text x="1722" y="1065.6">b</text>
<text x="1722.5" y="1167.8">a</text>
</g>
</svg>
</body></html>
